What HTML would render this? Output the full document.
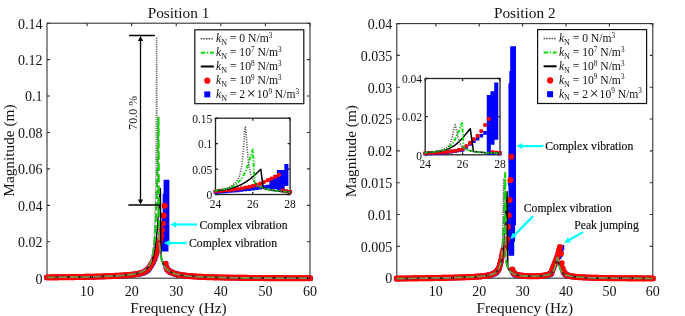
<!DOCTYPE html>
<html><head><meta charset="utf-8"><style>
html,body{margin:0;padding:0;background:#fff;}
body{width:685px;height:316px;overflow:hidden;}
svg{display:block;will-change:transform;filter:blur(0.35px);}
</style></head><body>
<svg width="685" height="316" viewBox="0 0 685 316" font-family='"Liberation Serif", serif' fill="#111">
<style>.an{stroke:#111;stroke-width:0.18px;}</style>
<rect width="685" height="316" fill="#fff"/>
<defs>
<clipPath id="cL"><rect x="43.00" y="23.20" width="271.00" height="259.00"/></clipPath>
<clipPath id="cR"><rect x="392.80" y="23.60" width="264.00" height="258.60"/></clipPath>
<clipPath id="cIL"><rect x="213.00" y="118.20" width="79.60" height="78.30"/></clipPath>
<clipPath id="cIR"><rect x="422.70" y="78.50" width="79.80" height="78.30"/></clipPath>
</defs>
<path d="M87.12 278.20V275.20M87.12 23.20V26.20M131.69 278.20V275.20M131.69 23.20V26.20M176.27 278.20V275.20M176.27 23.20V26.20M220.85 278.20V275.20M220.85 23.20V26.20M265.42 278.20V275.20M265.42 23.20V26.20M310.00 278.20V275.20M310.00 23.20V26.20M47.00 278.20H50.00M310.00 278.20H307.00M47.00 241.77H50.00M310.00 241.77H307.00M47.00 205.34H50.00M310.00 205.34H307.00M47.00 168.91H50.00M310.00 168.91H307.00M47.00 132.49H50.00M310.00 132.49H307.00M47.00 96.06H50.00M310.00 96.06H307.00M47.00 59.63H50.00M310.00 59.63H307.00M47.00 23.20H50.00M310.00 23.20H307.00" stroke="#333333" stroke-width="1.10" fill="none"/>
<rect x="47.00" y="23.20" width="263.00" height="255.00" stroke="#333333" stroke-width="1.10" fill="none"/>
<g clip-path="url(#cL)">
<g transform="translate(0 0.50)">
<path d="M44.41 274.42h5.18v5.18h-5.18zM45.30 274.41h5.18v5.18h-5.18zM46.19 274.40h5.18v5.18h-5.18zM47.08 274.39h5.18v5.18h-5.18zM47.97 274.38h5.18v5.18h-5.18zM48.87 274.37h5.18v5.18h-5.18zM49.76 274.35h5.18v5.18h-5.18zM50.65 274.34h5.18v5.18h-5.18zM51.54 274.33h5.18v5.18h-5.18zM52.43 274.32h5.18v5.18h-5.18zM53.32 274.31h5.18v5.18h-5.18zM54.21 274.30h5.18v5.18h-5.18zM55.11 274.29h5.18v5.18h-5.18zM56.00 274.28h5.18v5.18h-5.18zM56.89 274.27h5.18v5.18h-5.18zM57.78 274.26h5.18v5.18h-5.18zM58.67 274.25h5.18v5.18h-5.18zM59.56 274.23h5.18v5.18h-5.18zM60.45 274.22h5.18v5.18h-5.18zM61.35 274.21h5.18v5.18h-5.18zM62.24 274.20h5.18v5.18h-5.18zM63.13 274.19h5.18v5.18h-5.18zM64.02 274.17h5.18v5.18h-5.18zM64.91 274.16h5.18v5.18h-5.18zM65.80 274.15h5.18v5.18h-5.18zM66.70 274.14h5.18v5.18h-5.18zM67.59 274.13h5.18v5.18h-5.18zM68.48 274.11h5.18v5.18h-5.18zM69.37 274.10h5.18v5.18h-5.18zM70.26 274.09h5.18v5.18h-5.18zM71.15 274.07h5.18v5.18h-5.18zM72.04 274.06h5.18v5.18h-5.18zM72.94 274.05h5.18v5.18h-5.18zM73.83 274.03h5.18v5.18h-5.18zM74.72 274.02h5.18v5.18h-5.18zM75.61 274.00h5.18v5.18h-5.18zM76.50 273.99h5.18v5.18h-5.18zM77.39 273.97h5.18v5.18h-5.18zM78.29 273.96h5.18v5.18h-5.18zM79.18 273.94h5.18v5.18h-5.18zM80.07 273.93h5.18v5.18h-5.18zM80.96 273.91h5.18v5.18h-5.18zM81.85 273.89h5.18v5.18h-5.18zM82.74 273.88h5.18v5.18h-5.18zM83.63 273.86h5.18v5.18h-5.18zM84.53 273.84h5.18v5.18h-5.18zM85.42 273.82h5.18v5.18h-5.18zM86.31 273.80h5.18v5.18h-5.18zM87.20 273.78h5.18v5.18h-5.18zM88.09 273.76h5.18v5.18h-5.18zM88.98 273.74h5.18v5.18h-5.18zM89.88 273.72h5.18v5.18h-5.18zM90.77 273.70h5.18v5.18h-5.18zM91.66 273.68h5.18v5.18h-5.18zM92.55 273.66h5.18v5.18h-5.18zM93.44 273.64h5.18v5.18h-5.18zM94.33 273.61h5.18v5.18h-5.18zM95.22 273.59h5.18v5.18h-5.18zM96.12 273.56h5.18v5.18h-5.18zM97.01 273.54h5.18v5.18h-5.18zM97.90 273.51h5.18v5.18h-5.18zM98.79 273.48h5.18v5.18h-5.18zM99.68 273.46h5.18v5.18h-5.18zM100.57 273.43h5.18v5.18h-5.18zM101.47 273.40h5.18v5.18h-5.18zM102.36 273.37h5.18v5.18h-5.18zM103.25 273.33h5.18v5.18h-5.18zM104.14 273.30h5.18v5.18h-5.18zM105.03 273.27h5.18v5.18h-5.18zM105.92 273.23h5.18v5.18h-5.18zM106.81 273.19h5.18v5.18h-5.18zM107.71 273.16h5.18v5.18h-5.18zM108.60 273.12h5.18v5.18h-5.18zM109.49 273.08h5.18v5.18h-5.18zM110.38 273.03h5.18v5.18h-5.18zM111.27 272.99h5.18v5.18h-5.18zM112.16 272.94h5.18v5.18h-5.18zM113.05 272.90h5.18v5.18h-5.18zM113.95 272.85h5.18v5.18h-5.18zM114.84 272.80h5.18v5.18h-5.18zM115.73 272.76h5.18v5.18h-5.18zM116.62 272.71h5.18v5.18h-5.18zM117.51 272.66h5.18v5.18h-5.18zM118.40 272.61h5.18v5.18h-5.18zM119.30 272.56h5.18v5.18h-5.18zM120.19 272.51h5.18v5.18h-5.18zM121.08 272.45h5.18v5.18h-5.18zM121.97 272.39h5.18v5.18h-5.18zM122.86 272.34h5.18v5.18h-5.18zM123.75 272.27h5.18v5.18h-5.18zM124.64 272.21h5.18v5.18h-5.18zM125.54 272.14h5.18v5.18h-5.18zM126.43 272.07h5.18v5.18h-5.18zM127.32 271.99h5.18v5.18h-5.18zM128.21 271.91h5.18v5.18h-5.18zM129.10 271.82h5.18v5.18h-5.18zM129.99 271.72h5.18v5.18h-5.18zM130.89 271.62h5.18v5.18h-5.18zM131.78 271.51h5.18v5.18h-5.18zM132.67 271.39h5.18v5.18h-5.18zM133.56 271.26h5.18v5.18h-5.18zM134.45 271.11h5.18v5.18h-5.18zM135.34 270.95h5.18v5.18h-5.18zM136.23 270.77h5.18v5.18h-5.18zM137.13 270.56h5.18v5.18h-5.18zM138.02 270.34h5.18v5.18h-5.18zM138.91 270.08h5.18v5.18h-5.18zM139.80 269.79h5.18v5.18h-5.18zM140.69 269.46h5.18v5.18h-5.18zM141.58 269.08h5.18v5.18h-5.18zM142.48 268.63h5.18v5.18h-5.18zM143.37 268.10h5.18v5.18h-5.18zM144.26 267.47h5.18v5.18h-5.18zM145.15 266.71h5.18v5.18h-5.18zM146.04 265.77h5.18v5.18h-5.18zM146.93 264.59h5.18v5.18h-5.18zM147.82 263.19h5.18v5.18h-5.18zM148.72 261.79h5.18v5.18h-5.18zM149.61 260.39h5.18v5.18h-5.18zM150.50 258.59h5.18v5.18h-5.18zM151.39 256.78h5.18v5.18h-5.18zM152.28 254.97h5.18v5.18h-5.18zM153.17 252.20h5.18v5.18h-5.18zM154.07 249.42h5.18v5.18h-5.18zM154.96 246.64h5.18v5.18h-5.18zM155.85 243.76h5.18v5.18h-5.18zM156.74 240.81h5.18v5.18h-5.18zM157.63 237.85h5.18v5.18h-5.18zM158.52 234.52h5.18v5.18h-5.18zM159.41 237.84h5.18v5.18h-5.18zM160.31 241.16h5.18v5.18h-5.18zM161.20 212.40h5.18v5.18h-5.18zM162.09 202.75h5.18v5.18h-5.18zM162.98 260.75h5.18v5.18h-5.18zM163.87 264.58h5.18v5.18h-5.18zM164.76 266.36h5.18v5.18h-5.18zM165.65 267.38h5.18v5.18h-5.18zM166.55 268.09h5.18v5.18h-5.18zM167.44 268.65h5.18v5.18h-5.18zM168.33 269.12h5.18v5.18h-5.18zM169.22 269.53h5.18v5.18h-5.18zM170.11 269.89h5.18v5.18h-5.18zM171.00 270.21h5.18v5.18h-5.18zM171.90 270.50h5.18v5.18h-5.18zM172.79 270.76h5.18v5.18h-5.18zM173.68 271.00h5.18v5.18h-5.18zM174.57 271.22h5.18v5.18h-5.18zM175.46 271.42h5.18v5.18h-5.18zM176.35 271.60h5.18v5.18h-5.18zM177.24 271.77h5.18v5.18h-5.18zM178.14 271.92h5.18v5.18h-5.18zM179.03 272.07h5.18v5.18h-5.18zM179.92 272.20h5.18v5.18h-5.18zM180.81 272.33h5.18v5.18h-5.18zM181.70 272.44h5.18v5.18h-5.18zM182.59 272.55h5.18v5.18h-5.18zM183.49 272.66h5.18v5.18h-5.18zM184.38 272.75h5.18v5.18h-5.18zM185.27 272.85h5.18v5.18h-5.18zM186.16 272.93h5.18v5.18h-5.18zM187.05 273.01h5.18v5.18h-5.18zM187.94 273.09h5.18v5.18h-5.18zM188.83 273.16h5.18v5.18h-5.18zM189.73 273.23h5.18v5.18h-5.18zM190.62 273.30h5.18v5.18h-5.18zM191.51 273.36h5.18v5.18h-5.18zM192.40 273.42h5.18v5.18h-5.18zM193.29 273.48h5.18v5.18h-5.18zM194.18 273.53h5.18v5.18h-5.18zM195.08 273.58h5.18v5.18h-5.18zM195.97 273.63h5.18v5.18h-5.18zM196.86 273.68h5.18v5.18h-5.18zM197.75 273.73h5.18v5.18h-5.18zM198.64 273.77h5.18v5.18h-5.18zM199.53 273.81h5.18v5.18h-5.18zM200.42 273.85h5.18v5.18h-5.18zM201.32 273.89h5.18v5.18h-5.18zM202.21 273.93h5.18v5.18h-5.18zM203.10 273.96h5.18v5.18h-5.18zM203.99 274.00h5.18v5.18h-5.18zM204.88 274.03h5.18v5.18h-5.18zM205.77 274.06h5.18v5.18h-5.18zM206.67 274.10h5.18v5.18h-5.18zM207.56 274.13h5.18v5.18h-5.18zM208.45 274.15h5.18v5.18h-5.18zM209.34 274.18h5.18v5.18h-5.18zM210.23 274.21h5.18v5.18h-5.18zM211.12 274.24h5.18v5.18h-5.18zM212.01 274.26h5.18v5.18h-5.18zM212.91 274.28h5.18v5.18h-5.18zM213.80 274.31h5.18v5.18h-5.18zM214.69 274.33h5.18v5.18h-5.18zM215.58 274.35h5.18v5.18h-5.18zM216.47 274.38h5.18v5.18h-5.18zM217.36 274.40h5.18v5.18h-5.18zM218.25 274.42h5.18v5.18h-5.18zM219.15 274.44h5.18v5.18h-5.18zM220.04 274.46h5.18v5.18h-5.18zM220.93 274.47h5.18v5.18h-5.18zM221.82 274.49h5.18v5.18h-5.18zM222.71 274.51h5.18v5.18h-5.18zM223.60 274.53h5.18v5.18h-5.18zM224.50 274.54h5.18v5.18h-5.18zM225.39 274.56h5.18v5.18h-5.18zM226.28 274.58h5.18v5.18h-5.18zM227.17 274.59h5.18v5.18h-5.18zM228.06 274.61h5.18v5.18h-5.18zM228.95 274.62h5.18v5.18h-5.18zM229.84 274.64h5.18v5.18h-5.18zM230.74 274.65h5.18v5.18h-5.18zM231.63 274.66h5.18v5.18h-5.18zM232.52 274.68h5.18v5.18h-5.18zM233.41 274.69h5.18v5.18h-5.18zM234.30 274.70h5.18v5.18h-5.18zM235.19 274.72h5.18v5.18h-5.18zM236.09 274.73h5.18v5.18h-5.18zM236.98 274.74h5.18v5.18h-5.18zM237.87 274.75h5.18v5.18h-5.18zM238.76 274.76h5.18v5.18h-5.18zM239.65 274.77h5.18v5.18h-5.18zM240.54 274.79h5.18v5.18h-5.18zM241.43 274.80h5.18v5.18h-5.18zM242.33 274.81h5.18v5.18h-5.18zM243.22 274.82h5.18v5.18h-5.18zM244.11 274.83h5.18v5.18h-5.18zM245.00 274.84h5.18v5.18h-5.18zM245.89 274.85h5.18v5.18h-5.18zM246.78 274.86h5.18v5.18h-5.18zM247.68 274.86h5.18v5.18h-5.18zM248.57 274.87h5.18v5.18h-5.18zM249.46 274.88h5.18v5.18h-5.18zM250.35 274.89h5.18v5.18h-5.18zM251.24 274.90h5.18v5.18h-5.18zM252.13 274.91h5.18v5.18h-5.18zM253.02 274.92h5.18v5.18h-5.18zM253.92 274.92h5.18v5.18h-5.18zM254.81 274.93h5.18v5.18h-5.18zM255.70 274.94h5.18v5.18h-5.18zM256.59 274.95h5.18v5.18h-5.18zM257.48 274.95h5.18v5.18h-5.18zM258.37 274.96h5.18v5.18h-5.18zM259.27 274.97h5.18v5.18h-5.18zM260.16 274.98h5.18v5.18h-5.18zM261.05 274.98h5.18v5.18h-5.18zM261.94 274.99h5.18v5.18h-5.18zM262.83 275.00h5.18v5.18h-5.18zM263.72 275.00h5.18v5.18h-5.18zM264.61 275.01h5.18v5.18h-5.18zM265.51 275.02h5.18v5.18h-5.18zM266.40 275.02h5.18v5.18h-5.18zM267.29 275.03h5.18v5.18h-5.18zM268.18 275.03h5.18v5.18h-5.18zM269.07 275.04h5.18v5.18h-5.18zM269.96 275.05h5.18v5.18h-5.18zM270.85 275.05h5.18v5.18h-5.18zM271.75 275.06h5.18v5.18h-5.18zM272.64 275.06h5.18v5.18h-5.18zM273.53 275.07h5.18v5.18h-5.18zM274.42 275.07h5.18v5.18h-5.18zM275.31 275.08h5.18v5.18h-5.18zM276.20 275.08h5.18v5.18h-5.18zM277.10 275.09h5.18v5.18h-5.18zM277.99 275.09h5.18v5.18h-5.18zM278.88 275.10h5.18v5.18h-5.18zM279.77 275.10h5.18v5.18h-5.18zM280.66 275.11h5.18v5.18h-5.18zM281.55 275.11h5.18v5.18h-5.18zM282.44 275.12h5.18v5.18h-5.18zM283.34 275.12h5.18v5.18h-5.18zM284.23 275.13h5.18v5.18h-5.18zM285.12 275.13h5.18v5.18h-5.18zM286.01 275.14h5.18v5.18h-5.18zM286.90 275.14h5.18v5.18h-5.18zM287.79 275.14h5.18v5.18h-5.18zM288.69 275.15h5.18v5.18h-5.18zM289.58 275.15h5.18v5.18h-5.18zM290.47 275.16h5.18v5.18h-5.18zM291.36 275.16h5.18v5.18h-5.18zM292.25 275.16h5.18v5.18h-5.18zM293.14 275.17h5.18v5.18h-5.18zM294.03 275.17h5.18v5.18h-5.18zM294.93 275.18h5.18v5.18h-5.18zM295.82 275.18h5.18v5.18h-5.18zM296.71 275.18h5.18v5.18h-5.18zM297.60 275.19h5.18v5.18h-5.18zM298.49 275.19h5.18v5.18h-5.18zM299.38 275.19h5.18v5.18h-5.18zM300.28 275.20h5.18v5.18h-5.18zM301.17 275.20h5.18v5.18h-5.18zM302.06 275.20h5.18v5.18h-5.18zM302.95 275.21h5.18v5.18h-5.18zM303.84 275.21h5.18v5.18h-5.18zM304.73 275.21h5.18v5.18h-5.18zM305.62 275.22h5.18v5.18h-5.18zM306.52 275.22h5.18v5.18h-5.18zM307.41 275.22h5.18v5.18h-5.18z" fill="#0000ff"/>
<path d="M160.89 227.95h5.79V251.04h-5.79zM161.78 213.37h5.79V251.04h-5.79zM162.68 193.34h5.79V251.04h-5.79zM163.57 179.31h5.79V243.58h-5.79z" fill="#0000ff"/>
<path d="M43.95 276.96a3.05 3.05 0 1 0 6.10 0a3.05 3.05 0 1 0 -6.10 0M44.84 276.95a3.05 3.05 0 1 0 6.10 0a3.05 3.05 0 1 0 -6.10 0M45.73 276.94a3.05 3.05 0 1 0 6.10 0a3.05 3.05 0 1 0 -6.10 0M46.62 276.93a3.05 3.05 0 1 0 6.10 0a3.05 3.05 0 1 0 -6.10 0M47.52 276.92a3.05 3.05 0 1 0 6.10 0a3.05 3.05 0 1 0 -6.10 0M48.41 276.91a3.05 3.05 0 1 0 6.10 0a3.05 3.05 0 1 0 -6.10 0M49.30 276.90a3.05 3.05 0 1 0 6.10 0a3.05 3.05 0 1 0 -6.10 0M50.19 276.88a3.05 3.05 0 1 0 6.10 0a3.05 3.05 0 1 0 -6.10 0M51.08 276.87a3.05 3.05 0 1 0 6.10 0a3.05 3.05 0 1 0 -6.10 0M51.97 276.86a3.05 3.05 0 1 0 6.10 0a3.05 3.05 0 1 0 -6.10 0M52.87 276.85a3.05 3.05 0 1 0 6.10 0a3.05 3.05 0 1 0 -6.10 0M53.76 276.84a3.05 3.05 0 1 0 6.10 0a3.05 3.05 0 1 0 -6.10 0M54.65 276.83a3.05 3.05 0 1 0 6.10 0a3.05 3.05 0 1 0 -6.10 0M55.54 276.82a3.05 3.05 0 1 0 6.10 0a3.05 3.05 0 1 0 -6.10 0M56.43 276.80a3.05 3.05 0 1 0 6.10 0a3.05 3.05 0 1 0 -6.10 0M57.32 276.79a3.05 3.05 0 1 0 6.10 0a3.05 3.05 0 1 0 -6.10 0M58.21 276.78a3.05 3.05 0 1 0 6.10 0a3.05 3.05 0 1 0 -6.10 0M59.11 276.77a3.05 3.05 0 1 0 6.10 0a3.05 3.05 0 1 0 -6.10 0M60.00 276.76a3.05 3.05 0 1 0 6.10 0a3.05 3.05 0 1 0 -6.10 0M60.89 276.74a3.05 3.05 0 1 0 6.10 0a3.05 3.05 0 1 0 -6.10 0M61.78 276.73a3.05 3.05 0 1 0 6.10 0a3.05 3.05 0 1 0 -6.10 0M62.67 276.72a3.05 3.05 0 1 0 6.10 0a3.05 3.05 0 1 0 -6.10 0M63.56 276.71a3.05 3.05 0 1 0 6.10 0a3.05 3.05 0 1 0 -6.10 0M64.46 276.69a3.05 3.05 0 1 0 6.10 0a3.05 3.05 0 1 0 -6.10 0M65.35 276.68a3.05 3.05 0 1 0 6.10 0a3.05 3.05 0 1 0 -6.10 0M66.24 276.67a3.05 3.05 0 1 0 6.10 0a3.05 3.05 0 1 0 -6.10 0M67.13 276.66a3.05 3.05 0 1 0 6.10 0a3.05 3.05 0 1 0 -6.10 0M68.02 276.64a3.05 3.05 0 1 0 6.10 0a3.05 3.05 0 1 0 -6.10 0M68.91 276.63a3.05 3.05 0 1 0 6.10 0a3.05 3.05 0 1 0 -6.10 0M69.80 276.62a3.05 3.05 0 1 0 6.10 0a3.05 3.05 0 1 0 -6.10 0M70.70 276.60a3.05 3.05 0 1 0 6.10 0a3.05 3.05 0 1 0 -6.10 0M71.59 276.59a3.05 3.05 0 1 0 6.10 0a3.05 3.05 0 1 0 -6.10 0M72.48 276.57a3.05 3.05 0 1 0 6.10 0a3.05 3.05 0 1 0 -6.10 0M73.37 276.56a3.05 3.05 0 1 0 6.10 0a3.05 3.05 0 1 0 -6.10 0M74.26 276.54a3.05 3.05 0 1 0 6.10 0a3.05 3.05 0 1 0 -6.10 0M75.15 276.53a3.05 3.05 0 1 0 6.10 0a3.05 3.05 0 1 0 -6.10 0M76.04 276.51a3.05 3.05 0 1 0 6.10 0a3.05 3.05 0 1 0 -6.10 0M76.94 276.50a3.05 3.05 0 1 0 6.10 0a3.05 3.05 0 1 0 -6.10 0M77.83 276.48a3.05 3.05 0 1 0 6.10 0a3.05 3.05 0 1 0 -6.10 0M78.72 276.46a3.05 3.05 0 1 0 6.10 0a3.05 3.05 0 1 0 -6.10 0M79.61 276.45a3.05 3.05 0 1 0 6.10 0a3.05 3.05 0 1 0 -6.10 0M80.50 276.43a3.05 3.05 0 1 0 6.10 0a3.05 3.05 0 1 0 -6.10 0M81.39 276.41a3.05 3.05 0 1 0 6.10 0a3.05 3.05 0 1 0 -6.10 0M82.29 276.40a3.05 3.05 0 1 0 6.10 0a3.05 3.05 0 1 0 -6.10 0M83.18 276.38a3.05 3.05 0 1 0 6.10 0a3.05 3.05 0 1 0 -6.10 0M84.07 276.36a3.05 3.05 0 1 0 6.10 0a3.05 3.05 0 1 0 -6.10 0M84.96 276.34a3.05 3.05 0 1 0 6.10 0a3.05 3.05 0 1 0 -6.10 0M85.85 276.32a3.05 3.05 0 1 0 6.10 0a3.05 3.05 0 1 0 -6.10 0M86.74 276.30a3.05 3.05 0 1 0 6.10 0a3.05 3.05 0 1 0 -6.10 0M87.63 276.28a3.05 3.05 0 1 0 6.10 0a3.05 3.05 0 1 0 -6.10 0M88.53 276.26a3.05 3.05 0 1 0 6.10 0a3.05 3.05 0 1 0 -6.10 0M89.42 276.24a3.05 3.05 0 1 0 6.10 0a3.05 3.05 0 1 0 -6.10 0M90.31 276.22a3.05 3.05 0 1 0 6.10 0a3.05 3.05 0 1 0 -6.10 0M91.20 276.19a3.05 3.05 0 1 0 6.10 0a3.05 3.05 0 1 0 -6.10 0M92.09 276.17a3.05 3.05 0 1 0 6.10 0a3.05 3.05 0 1 0 -6.10 0M92.98 276.15a3.05 3.05 0 1 0 6.10 0a3.05 3.05 0 1 0 -6.10 0M93.88 276.12a3.05 3.05 0 1 0 6.10 0a3.05 3.05 0 1 0 -6.10 0M94.77 276.10a3.05 3.05 0 1 0 6.10 0a3.05 3.05 0 1 0 -6.10 0M95.66 276.07a3.05 3.05 0 1 0 6.10 0a3.05 3.05 0 1 0 -6.10 0M96.55 276.04a3.05 3.05 0 1 0 6.10 0a3.05 3.05 0 1 0 -6.10 0M97.44 276.02a3.05 3.05 0 1 0 6.10 0a3.05 3.05 0 1 0 -6.10 0M98.33 275.99a3.05 3.05 0 1 0 6.10 0a3.05 3.05 0 1 0 -6.10 0M99.22 275.96a3.05 3.05 0 1 0 6.10 0a3.05 3.05 0 1 0 -6.10 0M100.12 275.93a3.05 3.05 0 1 0 6.10 0a3.05 3.05 0 1 0 -6.10 0M101.01 275.90a3.05 3.05 0 1 0 6.10 0a3.05 3.05 0 1 0 -6.10 0M101.90 275.87a3.05 3.05 0 1 0 6.10 0a3.05 3.05 0 1 0 -6.10 0M102.79 275.83a3.05 3.05 0 1 0 6.10 0a3.05 3.05 0 1 0 -6.10 0M103.68 275.80a3.05 3.05 0 1 0 6.10 0a3.05 3.05 0 1 0 -6.10 0M104.57 275.76a3.05 3.05 0 1 0 6.10 0a3.05 3.05 0 1 0 -6.10 0M105.47 275.73a3.05 3.05 0 1 0 6.10 0a3.05 3.05 0 1 0 -6.10 0M106.36 275.69a3.05 3.05 0 1 0 6.10 0a3.05 3.05 0 1 0 -6.10 0M107.25 275.65a3.05 3.05 0 1 0 6.10 0a3.05 3.05 0 1 0 -6.10 0M108.14 275.61a3.05 3.05 0 1 0 6.10 0a3.05 3.05 0 1 0 -6.10 0M109.03 275.56a3.05 3.05 0 1 0 6.10 0a3.05 3.05 0 1 0 -6.10 0M109.92 275.52a3.05 3.05 0 1 0 6.10 0a3.05 3.05 0 1 0 -6.10 0M110.81 275.47a3.05 3.05 0 1 0 6.10 0a3.05 3.05 0 1 0 -6.10 0M111.71 275.42a3.05 3.05 0 1 0 6.10 0a3.05 3.05 0 1 0 -6.10 0M112.60 275.38a3.05 3.05 0 1 0 6.10 0a3.05 3.05 0 1 0 -6.10 0M113.49 275.33a3.05 3.05 0 1 0 6.10 0a3.05 3.05 0 1 0 -6.10 0M114.38 275.28a3.05 3.05 0 1 0 6.10 0a3.05 3.05 0 1 0 -6.10 0M115.27 275.23a3.05 3.05 0 1 0 6.10 0a3.05 3.05 0 1 0 -6.10 0M116.16 275.18a3.05 3.05 0 1 0 6.10 0a3.05 3.05 0 1 0 -6.10 0M117.06 275.13a3.05 3.05 0 1 0 6.10 0a3.05 3.05 0 1 0 -6.10 0M117.95 275.08a3.05 3.05 0 1 0 6.10 0a3.05 3.05 0 1 0 -6.10 0M118.84 275.02a3.05 3.05 0 1 0 6.10 0a3.05 3.05 0 1 0 -6.10 0M119.73 274.97a3.05 3.05 0 1 0 6.10 0a3.05 3.05 0 1 0 -6.10 0M120.62 274.91a3.05 3.05 0 1 0 6.10 0a3.05 3.05 0 1 0 -6.10 0M121.51 274.85a3.05 3.05 0 1 0 6.10 0a3.05 3.05 0 1 0 -6.10 0M122.40 274.79a3.05 3.05 0 1 0 6.10 0a3.05 3.05 0 1 0 -6.10 0M123.30 274.73a3.05 3.05 0 1 0 6.10 0a3.05 3.05 0 1 0 -6.10 0M124.19 274.66a3.05 3.05 0 1 0 6.10 0a3.05 3.05 0 1 0 -6.10 0M125.08 274.59a3.05 3.05 0 1 0 6.10 0a3.05 3.05 0 1 0 -6.10 0M125.97 274.51a3.05 3.05 0 1 0 6.10 0a3.05 3.05 0 1 0 -6.10 0M126.86 274.43a3.05 3.05 0 1 0 6.10 0a3.05 3.05 0 1 0 -6.10 0M127.75 274.35a3.05 3.05 0 1 0 6.10 0a3.05 3.05 0 1 0 -6.10 0M128.64 274.25a3.05 3.05 0 1 0 6.10 0a3.05 3.05 0 1 0 -6.10 0M129.54 274.16a3.05 3.05 0 1 0 6.10 0a3.05 3.05 0 1 0 -6.10 0M130.43 274.05a3.05 3.05 0 1 0 6.10 0a3.05 3.05 0 1 0 -6.10 0M131.32 273.93a3.05 3.05 0 1 0 6.10 0a3.05 3.05 0 1 0 -6.10 0M132.21 273.81a3.05 3.05 0 1 0 6.10 0a3.05 3.05 0 1 0 -6.10 0M133.10 273.67a3.05 3.05 0 1 0 6.10 0a3.05 3.05 0 1 0 -6.10 0M133.99 273.51a3.05 3.05 0 1 0 6.10 0a3.05 3.05 0 1 0 -6.10 0M134.89 273.34a3.05 3.05 0 1 0 6.10 0a3.05 3.05 0 1 0 -6.10 0M135.78 273.16a3.05 3.05 0 1 0 6.10 0a3.05 3.05 0 1 0 -6.10 0M136.67 272.95a3.05 3.05 0 1 0 6.10 0a3.05 3.05 0 1 0 -6.10 0M137.56 272.71a3.05 3.05 0 1 0 6.10 0a3.05 3.05 0 1 0 -6.10 0M138.45 272.45a3.05 3.05 0 1 0 6.10 0a3.05 3.05 0 1 0 -6.10 0M139.34 272.14a3.05 3.05 0 1 0 6.10 0a3.05 3.05 0 1 0 -6.10 0M140.23 271.80a3.05 3.05 0 1 0 6.10 0a3.05 3.05 0 1 0 -6.10 0M141.13 271.40a3.05 3.05 0 1 0 6.10 0a3.05 3.05 0 1 0 -6.10 0M142.02 270.93a3.05 3.05 0 1 0 6.10 0a3.05 3.05 0 1 0 -6.10 0M142.91 270.38a3.05 3.05 0 1 0 6.10 0a3.05 3.05 0 1 0 -6.10 0M143.80 269.73a3.05 3.05 0 1 0 6.10 0a3.05 3.05 0 1 0 -6.10 0M144.69 268.93a3.05 3.05 0 1 0 6.10 0a3.05 3.05 0 1 0 -6.10 0M145.58 267.96a3.05 3.05 0 1 0 6.10 0a3.05 3.05 0 1 0 -6.10 0M146.48 266.72a3.05 3.05 0 1 0 6.10 0a3.05 3.05 0 1 0 -6.10 0M147.37 265.27a3.05 3.05 0 1 0 6.10 0a3.05 3.05 0 1 0 -6.10 0M148.26 263.81a3.05 3.05 0 1 0 6.10 0a3.05 3.05 0 1 0 -6.10 0M149.15 262.35a3.05 3.05 0 1 0 6.10 0a3.05 3.05 0 1 0 -6.10 0M150.04 260.47a3.05 3.05 0 1 0 6.10 0a3.05 3.05 0 1 0 -6.10 0M150.93 258.59a3.05 3.05 0 1 0 6.10 0a3.05 3.05 0 1 0 -6.10 0M151.82 256.71a3.05 3.05 0 1 0 6.10 0a3.05 3.05 0 1 0 -6.10 0M152.72 253.81a3.05 3.05 0 1 0 6.10 0a3.05 3.05 0 1 0 -6.10 0M153.61 250.92a3.05 3.05 0 1 0 6.10 0a3.05 3.05 0 1 0 -6.10 0M154.50 248.03a3.05 3.05 0 1 0 6.10 0a3.05 3.05 0 1 0 -6.10 0M155.39 245.03a3.05 3.05 0 1 0 6.10 0a3.05 3.05 0 1 0 -6.10 0M156.28 241.96a3.05 3.05 0 1 0 6.10 0a3.05 3.05 0 1 0 -6.10 0M157.17 238.87a3.05 3.05 0 1 0 6.10 0a3.05 3.05 0 1 0 -6.10 0M158.07 235.40a3.05 3.05 0 1 0 6.10 0a3.05 3.05 0 1 0 -6.10 0M158.96 229.75a3.05 3.05 0 1 0 6.10 0a3.05 3.05 0 1 0 -6.10 0M159.85 223.19a3.05 3.05 0 1 0 6.10 0a3.05 3.05 0 1 0 -6.10 0M160.74 215.00a3.05 3.05 0 1 0 6.10 0a3.05 3.05 0 1 0 -6.10 0M161.63 205.34a3.05 3.05 0 1 0 6.10 0a3.05 3.05 0 1 0 -6.10 0M162.52 263.34a3.05 3.05 0 1 0 6.10 0a3.05 3.05 0 1 0 -6.10 0M163.41 267.18a3.05 3.05 0 1 0 6.10 0a3.05 3.05 0 1 0 -6.10 0M164.31 268.95a3.05 3.05 0 1 0 6.10 0a3.05 3.05 0 1 0 -6.10 0M165.20 269.97a3.05 3.05 0 1 0 6.10 0a3.05 3.05 0 1 0 -6.10 0M166.09 270.68a3.05 3.05 0 1 0 6.10 0a3.05 3.05 0 1 0 -6.10 0M166.98 271.24a3.05 3.05 0 1 0 6.10 0a3.05 3.05 0 1 0 -6.10 0M167.87 271.71a3.05 3.05 0 1 0 6.10 0a3.05 3.05 0 1 0 -6.10 0M168.76 272.12a3.05 3.05 0 1 0 6.10 0a3.05 3.05 0 1 0 -6.10 0M169.66 272.48a3.05 3.05 0 1 0 6.10 0a3.05 3.05 0 1 0 -6.10 0M170.55 272.80a3.05 3.05 0 1 0 6.10 0a3.05 3.05 0 1 0 -6.10 0M171.44 273.09a3.05 3.05 0 1 0 6.10 0a3.05 3.05 0 1 0 -6.10 0M172.33 273.36a3.05 3.05 0 1 0 6.10 0a3.05 3.05 0 1 0 -6.10 0M173.22 273.59a3.05 3.05 0 1 0 6.10 0a3.05 3.05 0 1 0 -6.10 0M174.11 273.81a3.05 3.05 0 1 0 6.10 0a3.05 3.05 0 1 0 -6.10 0M175.00 274.01a3.05 3.05 0 1 0 6.10 0a3.05 3.05 0 1 0 -6.10 0M175.90 274.19a3.05 3.05 0 1 0 6.10 0a3.05 3.05 0 1 0 -6.10 0M176.79 274.36a3.05 3.05 0 1 0 6.10 0a3.05 3.05 0 1 0 -6.10 0M177.68 274.51a3.05 3.05 0 1 0 6.10 0a3.05 3.05 0 1 0 -6.10 0M178.57 274.66a3.05 3.05 0 1 0 6.10 0a3.05 3.05 0 1 0 -6.10 0M179.46 274.79a3.05 3.05 0 1 0 6.10 0a3.05 3.05 0 1 0 -6.10 0M180.35 274.92a3.05 3.05 0 1 0 6.10 0a3.05 3.05 0 1 0 -6.10 0M181.24 275.04a3.05 3.05 0 1 0 6.10 0a3.05 3.05 0 1 0 -6.10 0M182.14 275.15a3.05 3.05 0 1 0 6.10 0a3.05 3.05 0 1 0 -6.10 0M183.03 275.25a3.05 3.05 0 1 0 6.10 0a3.05 3.05 0 1 0 -6.10 0M183.92 275.35a3.05 3.05 0 1 0 6.10 0a3.05 3.05 0 1 0 -6.10 0M184.81 275.44a3.05 3.05 0 1 0 6.10 0a3.05 3.05 0 1 0 -6.10 0M185.70 275.52a3.05 3.05 0 1 0 6.10 0a3.05 3.05 0 1 0 -6.10 0M186.59 275.61a3.05 3.05 0 1 0 6.10 0a3.05 3.05 0 1 0 -6.10 0M187.49 275.68a3.05 3.05 0 1 0 6.10 0a3.05 3.05 0 1 0 -6.10 0M188.38 275.76a3.05 3.05 0 1 0 6.10 0a3.05 3.05 0 1 0 -6.10 0M189.27 275.82a3.05 3.05 0 1 0 6.10 0a3.05 3.05 0 1 0 -6.10 0M190.16 275.89a3.05 3.05 0 1 0 6.10 0a3.05 3.05 0 1 0 -6.10 0M191.05 275.95a3.05 3.05 0 1 0 6.10 0a3.05 3.05 0 1 0 -6.10 0M191.94 276.01a3.05 3.05 0 1 0 6.10 0a3.05 3.05 0 1 0 -6.10 0M192.83 276.07a3.05 3.05 0 1 0 6.10 0a3.05 3.05 0 1 0 -6.10 0M193.73 276.12a3.05 3.05 0 1 0 6.10 0a3.05 3.05 0 1 0 -6.10 0M194.62 276.18a3.05 3.05 0 1 0 6.10 0a3.05 3.05 0 1 0 -6.10 0M195.51 276.23a3.05 3.05 0 1 0 6.10 0a3.05 3.05 0 1 0 -6.10 0M196.40 276.27a3.05 3.05 0 1 0 6.10 0a3.05 3.05 0 1 0 -6.10 0M197.29 276.32a3.05 3.05 0 1 0 6.10 0a3.05 3.05 0 1 0 -6.10 0M198.18 276.36a3.05 3.05 0 1 0 6.10 0a3.05 3.05 0 1 0 -6.10 0M199.08 276.40a3.05 3.05 0 1 0 6.10 0a3.05 3.05 0 1 0 -6.10 0M199.97 276.44a3.05 3.05 0 1 0 6.10 0a3.05 3.05 0 1 0 -6.10 0M200.86 276.48a3.05 3.05 0 1 0 6.10 0a3.05 3.05 0 1 0 -6.10 0M201.75 276.52a3.05 3.05 0 1 0 6.10 0a3.05 3.05 0 1 0 -6.10 0M202.64 276.56a3.05 3.05 0 1 0 6.10 0a3.05 3.05 0 1 0 -6.10 0M203.53 276.59a3.05 3.05 0 1 0 6.10 0a3.05 3.05 0 1 0 -6.10 0M204.42 276.62a3.05 3.05 0 1 0 6.10 0a3.05 3.05 0 1 0 -6.10 0M205.32 276.66a3.05 3.05 0 1 0 6.10 0a3.05 3.05 0 1 0 -6.10 0M206.21 276.69a3.05 3.05 0 1 0 6.10 0a3.05 3.05 0 1 0 -6.10 0M207.10 276.72a3.05 3.05 0 1 0 6.10 0a3.05 3.05 0 1 0 -6.10 0M207.99 276.75a3.05 3.05 0 1 0 6.10 0a3.05 3.05 0 1 0 -6.10 0M208.88 276.77a3.05 3.05 0 1 0 6.10 0a3.05 3.05 0 1 0 -6.10 0M209.77 276.80a3.05 3.05 0 1 0 6.10 0a3.05 3.05 0 1 0 -6.10 0M210.67 276.83a3.05 3.05 0 1 0 6.10 0a3.05 3.05 0 1 0 -6.10 0M211.56 276.85a3.05 3.05 0 1 0 6.10 0a3.05 3.05 0 1 0 -6.10 0M212.45 276.88a3.05 3.05 0 1 0 6.10 0a3.05 3.05 0 1 0 -6.10 0M213.34 276.90a3.05 3.05 0 1 0 6.10 0a3.05 3.05 0 1 0 -6.10 0M214.23 276.92a3.05 3.05 0 1 0 6.10 0a3.05 3.05 0 1 0 -6.10 0M215.12 276.95a3.05 3.05 0 1 0 6.10 0a3.05 3.05 0 1 0 -6.10 0M216.01 276.97a3.05 3.05 0 1 0 6.10 0a3.05 3.05 0 1 0 -6.10 0M216.91 276.99a3.05 3.05 0 1 0 6.10 0a3.05 3.05 0 1 0 -6.10 0M217.80 277.01a3.05 3.05 0 1 0 6.10 0a3.05 3.05 0 1 0 -6.10 0M218.69 277.03a3.05 3.05 0 1 0 6.10 0a3.05 3.05 0 1 0 -6.10 0M219.58 277.05a3.05 3.05 0 1 0 6.10 0a3.05 3.05 0 1 0 -6.10 0M220.47 277.07a3.05 3.05 0 1 0 6.10 0a3.05 3.05 0 1 0 -6.10 0M221.36 277.09a3.05 3.05 0 1 0 6.10 0a3.05 3.05 0 1 0 -6.10 0M222.26 277.10a3.05 3.05 0 1 0 6.10 0a3.05 3.05 0 1 0 -6.10 0M223.15 277.12a3.05 3.05 0 1 0 6.10 0a3.05 3.05 0 1 0 -6.10 0M224.04 277.14a3.05 3.05 0 1 0 6.10 0a3.05 3.05 0 1 0 -6.10 0M224.93 277.15a3.05 3.05 0 1 0 6.10 0a3.05 3.05 0 1 0 -6.10 0M225.82 277.17a3.05 3.05 0 1 0 6.10 0a3.05 3.05 0 1 0 -6.10 0M226.71 277.19a3.05 3.05 0 1 0 6.10 0a3.05 3.05 0 1 0 -6.10 0M227.60 277.20a3.05 3.05 0 1 0 6.10 0a3.05 3.05 0 1 0 -6.10 0M228.50 277.22a3.05 3.05 0 1 0 6.10 0a3.05 3.05 0 1 0 -6.10 0M229.39 277.23a3.05 3.05 0 1 0 6.10 0a3.05 3.05 0 1 0 -6.10 0M230.28 277.24a3.05 3.05 0 1 0 6.10 0a3.05 3.05 0 1 0 -6.10 0M231.17 277.26a3.05 3.05 0 1 0 6.10 0a3.05 3.05 0 1 0 -6.10 0M232.06 277.27a3.05 3.05 0 1 0 6.10 0a3.05 3.05 0 1 0 -6.10 0M232.95 277.28a3.05 3.05 0 1 0 6.10 0a3.05 3.05 0 1 0 -6.10 0M233.84 277.30a3.05 3.05 0 1 0 6.10 0a3.05 3.05 0 1 0 -6.10 0M234.74 277.31a3.05 3.05 0 1 0 6.10 0a3.05 3.05 0 1 0 -6.10 0M235.63 277.32a3.05 3.05 0 1 0 6.10 0a3.05 3.05 0 1 0 -6.10 0M236.52 277.33a3.05 3.05 0 1 0 6.10 0a3.05 3.05 0 1 0 -6.10 0M237.41 277.34a3.05 3.05 0 1 0 6.10 0a3.05 3.05 0 1 0 -6.10 0M238.30 277.36a3.05 3.05 0 1 0 6.10 0a3.05 3.05 0 1 0 -6.10 0M239.19 277.37a3.05 3.05 0 1 0 6.10 0a3.05 3.05 0 1 0 -6.10 0M240.09 277.38a3.05 3.05 0 1 0 6.10 0a3.05 3.05 0 1 0 -6.10 0M240.98 277.39a3.05 3.05 0 1 0 6.10 0a3.05 3.05 0 1 0 -6.10 0M241.87 277.40a3.05 3.05 0 1 0 6.10 0a3.05 3.05 0 1 0 -6.10 0M242.76 277.41a3.05 3.05 0 1 0 6.10 0a3.05 3.05 0 1 0 -6.10 0M243.65 277.42a3.05 3.05 0 1 0 6.10 0a3.05 3.05 0 1 0 -6.10 0M244.54 277.43a3.05 3.05 0 1 0 6.10 0a3.05 3.05 0 1 0 -6.10 0M245.43 277.44a3.05 3.05 0 1 0 6.10 0a3.05 3.05 0 1 0 -6.10 0M246.33 277.45a3.05 3.05 0 1 0 6.10 0a3.05 3.05 0 1 0 -6.10 0M247.22 277.46a3.05 3.05 0 1 0 6.10 0a3.05 3.05 0 1 0 -6.10 0M248.11 277.47a3.05 3.05 0 1 0 6.10 0a3.05 3.05 0 1 0 -6.10 0M249.00 277.48a3.05 3.05 0 1 0 6.10 0a3.05 3.05 0 1 0 -6.10 0M249.89 277.48a3.05 3.05 0 1 0 6.10 0a3.05 3.05 0 1 0 -6.10 0M250.78 277.49a3.05 3.05 0 1 0 6.10 0a3.05 3.05 0 1 0 -6.10 0M251.68 277.50a3.05 3.05 0 1 0 6.10 0a3.05 3.05 0 1 0 -6.10 0M252.57 277.51a3.05 3.05 0 1 0 6.10 0a3.05 3.05 0 1 0 -6.10 0M253.46 277.52a3.05 3.05 0 1 0 6.10 0a3.05 3.05 0 1 0 -6.10 0M254.35 277.52a3.05 3.05 0 1 0 6.10 0a3.05 3.05 0 1 0 -6.10 0M255.24 277.53a3.05 3.05 0 1 0 6.10 0a3.05 3.05 0 1 0 -6.10 0M256.13 277.54a3.05 3.05 0 1 0 6.10 0a3.05 3.05 0 1 0 -6.10 0M257.02 277.55a3.05 3.05 0 1 0 6.10 0a3.05 3.05 0 1 0 -6.10 0M257.92 277.55a3.05 3.05 0 1 0 6.10 0a3.05 3.05 0 1 0 -6.10 0M258.81 277.56a3.05 3.05 0 1 0 6.10 0a3.05 3.05 0 1 0 -6.10 0M259.70 277.57a3.05 3.05 0 1 0 6.10 0a3.05 3.05 0 1 0 -6.10 0M260.59 277.58a3.05 3.05 0 1 0 6.10 0a3.05 3.05 0 1 0 -6.10 0M261.48 277.58a3.05 3.05 0 1 0 6.10 0a3.05 3.05 0 1 0 -6.10 0M262.37 277.59a3.05 3.05 0 1 0 6.10 0a3.05 3.05 0 1 0 -6.10 0M263.27 277.60a3.05 3.05 0 1 0 6.10 0a3.05 3.05 0 1 0 -6.10 0M264.16 277.60a3.05 3.05 0 1 0 6.10 0a3.05 3.05 0 1 0 -6.10 0M265.05 277.61a3.05 3.05 0 1 0 6.10 0a3.05 3.05 0 1 0 -6.10 0M265.94 277.61a3.05 3.05 0 1 0 6.10 0a3.05 3.05 0 1 0 -6.10 0M266.83 277.62a3.05 3.05 0 1 0 6.10 0a3.05 3.05 0 1 0 -6.10 0M267.72 277.63a3.05 3.05 0 1 0 6.10 0a3.05 3.05 0 1 0 -6.10 0M268.61 277.63a3.05 3.05 0 1 0 6.10 0a3.05 3.05 0 1 0 -6.10 0M269.51 277.64a3.05 3.05 0 1 0 6.10 0a3.05 3.05 0 1 0 -6.10 0M270.40 277.64a3.05 3.05 0 1 0 6.10 0a3.05 3.05 0 1 0 -6.10 0M271.29 277.65a3.05 3.05 0 1 0 6.10 0a3.05 3.05 0 1 0 -6.10 0M272.18 277.65a3.05 3.05 0 1 0 6.10 0a3.05 3.05 0 1 0 -6.10 0M273.07 277.66a3.05 3.05 0 1 0 6.10 0a3.05 3.05 0 1 0 -6.10 0M273.96 277.67a3.05 3.05 0 1 0 6.10 0a3.05 3.05 0 1 0 -6.10 0M274.86 277.67a3.05 3.05 0 1 0 6.10 0a3.05 3.05 0 1 0 -6.10 0M275.75 277.68a3.05 3.05 0 1 0 6.10 0a3.05 3.05 0 1 0 -6.10 0M276.64 277.68a3.05 3.05 0 1 0 6.10 0a3.05 3.05 0 1 0 -6.10 0M277.53 277.69a3.05 3.05 0 1 0 6.10 0a3.05 3.05 0 1 0 -6.10 0M278.42 277.69a3.05 3.05 0 1 0 6.10 0a3.05 3.05 0 1 0 -6.10 0M279.31 277.70a3.05 3.05 0 1 0 6.10 0a3.05 3.05 0 1 0 -6.10 0M280.20 277.70a3.05 3.05 0 1 0 6.10 0a3.05 3.05 0 1 0 -6.10 0M281.10 277.71a3.05 3.05 0 1 0 6.10 0a3.05 3.05 0 1 0 -6.10 0M281.99 277.71a3.05 3.05 0 1 0 6.10 0a3.05 3.05 0 1 0 -6.10 0M282.88 277.71a3.05 3.05 0 1 0 6.10 0a3.05 3.05 0 1 0 -6.10 0M283.77 277.72a3.05 3.05 0 1 0 6.10 0a3.05 3.05 0 1 0 -6.10 0M284.66 277.72a3.05 3.05 0 1 0 6.10 0a3.05 3.05 0 1 0 -6.10 0M285.55 277.73a3.05 3.05 0 1 0 6.10 0a3.05 3.05 0 1 0 -6.10 0M286.44 277.73a3.05 3.05 0 1 0 6.10 0a3.05 3.05 0 1 0 -6.10 0M287.34 277.74a3.05 3.05 0 1 0 6.10 0a3.05 3.05 0 1 0 -6.10 0M288.23 277.74a3.05 3.05 0 1 0 6.10 0a3.05 3.05 0 1 0 -6.10 0M289.12 277.74a3.05 3.05 0 1 0 6.10 0a3.05 3.05 0 1 0 -6.10 0M290.01 277.75a3.05 3.05 0 1 0 6.10 0a3.05 3.05 0 1 0 -6.10 0M290.90 277.75a3.05 3.05 0 1 0 6.10 0a3.05 3.05 0 1 0 -6.10 0M291.79 277.76a3.05 3.05 0 1 0 6.10 0a3.05 3.05 0 1 0 -6.10 0M292.69 277.76a3.05 3.05 0 1 0 6.10 0a3.05 3.05 0 1 0 -6.10 0M293.58 277.76a3.05 3.05 0 1 0 6.10 0a3.05 3.05 0 1 0 -6.10 0M294.47 277.77a3.05 3.05 0 1 0 6.10 0a3.05 3.05 0 1 0 -6.10 0M295.36 277.77a3.05 3.05 0 1 0 6.10 0a3.05 3.05 0 1 0 -6.10 0M296.25 277.78a3.05 3.05 0 1 0 6.10 0a3.05 3.05 0 1 0 -6.10 0M297.14 277.78a3.05 3.05 0 1 0 6.10 0a3.05 3.05 0 1 0 -6.10 0M298.03 277.78a3.05 3.05 0 1 0 6.10 0a3.05 3.05 0 1 0 -6.10 0M298.93 277.79a3.05 3.05 0 1 0 6.10 0a3.05 3.05 0 1 0 -6.10 0M299.82 277.79a3.05 3.05 0 1 0 6.10 0a3.05 3.05 0 1 0 -6.10 0M300.71 277.79a3.05 3.05 0 1 0 6.10 0a3.05 3.05 0 1 0 -6.10 0M301.60 277.80a3.05 3.05 0 1 0 6.10 0a3.05 3.05 0 1 0 -6.10 0M302.49 277.80a3.05 3.05 0 1 0 6.10 0a3.05 3.05 0 1 0 -6.10 0M303.38 277.80a3.05 3.05 0 1 0 6.10 0a3.05 3.05 0 1 0 -6.10 0M304.28 277.81a3.05 3.05 0 1 0 6.10 0a3.05 3.05 0 1 0 -6.10 0M305.17 277.81a3.05 3.05 0 1 0 6.10 0a3.05 3.05 0 1 0 -6.10 0M306.06 277.81a3.05 3.05 0 1 0 6.10 0a3.05 3.05 0 1 0 -6.10 0M306.95 277.82a3.05 3.05 0 1 0 6.10 0a3.05 3.05 0 1 0 -6.10 0" fill="#ff0000"/>
<path d="M47.00,276.96L76.58,276.56L96.18,276.14L111.02,275.62L122.37,274.91L131.02,273.96L134.44,273.39L137.45,272.72L140.11,271.93L142.39,271.03L144.37,270.01L146.13,268.81L147.67,267.43L149.05,265.81L150.23,263.99L151.30,261.85L152.26,259.38L153.13,256.55L153.92,253.28L154.68,249.42L156.06,239.95L157.38,227.37L158.78,210.39L160.36,187.90L160.94,255.70L161.56,258.60L162.30,261.20L163.12,263.41L164.06,265.33L165.15,267.04L166.40,268.52L167.82,269.81L169.45,270.93L171.59,272.03L174.09,272.97L177.01,273.77L180.42,274.46L184.41,275.05L189.04,275.55L200.79,276.34L216.79,276.91L238.66,277.32L268.63,277.61L310.00,277.82" fill="none" stroke="#000" stroke-width="1.50" stroke-linejoin="round"/>
<mask id="mcL" maskUnits="userSpaceOnUse" x="0" y="0" width="685" height="316"><rect width="685" height="316" fill="#fff"/><path d="M43.95 276.96a3.05 3.05 0 1 0 6.10 0a3.05 3.05 0 1 0 -6.10 0M44.84 276.95a3.05 3.05 0 1 0 6.10 0a3.05 3.05 0 1 0 -6.10 0M45.73 276.94a3.05 3.05 0 1 0 6.10 0a3.05 3.05 0 1 0 -6.10 0M46.62 276.93a3.05 3.05 0 1 0 6.10 0a3.05 3.05 0 1 0 -6.10 0M47.52 276.92a3.05 3.05 0 1 0 6.10 0a3.05 3.05 0 1 0 -6.10 0M48.41 276.91a3.05 3.05 0 1 0 6.10 0a3.05 3.05 0 1 0 -6.10 0M49.30 276.90a3.05 3.05 0 1 0 6.10 0a3.05 3.05 0 1 0 -6.10 0M50.19 276.88a3.05 3.05 0 1 0 6.10 0a3.05 3.05 0 1 0 -6.10 0M51.08 276.87a3.05 3.05 0 1 0 6.10 0a3.05 3.05 0 1 0 -6.10 0M51.97 276.86a3.05 3.05 0 1 0 6.10 0a3.05 3.05 0 1 0 -6.10 0M52.87 276.85a3.05 3.05 0 1 0 6.10 0a3.05 3.05 0 1 0 -6.10 0M53.76 276.84a3.05 3.05 0 1 0 6.10 0a3.05 3.05 0 1 0 -6.10 0M54.65 276.83a3.05 3.05 0 1 0 6.10 0a3.05 3.05 0 1 0 -6.10 0M55.54 276.82a3.05 3.05 0 1 0 6.10 0a3.05 3.05 0 1 0 -6.10 0M56.43 276.80a3.05 3.05 0 1 0 6.10 0a3.05 3.05 0 1 0 -6.10 0M57.32 276.79a3.05 3.05 0 1 0 6.10 0a3.05 3.05 0 1 0 -6.10 0M58.21 276.78a3.05 3.05 0 1 0 6.10 0a3.05 3.05 0 1 0 -6.10 0M59.11 276.77a3.05 3.05 0 1 0 6.10 0a3.05 3.05 0 1 0 -6.10 0M60.00 276.76a3.05 3.05 0 1 0 6.10 0a3.05 3.05 0 1 0 -6.10 0M60.89 276.74a3.05 3.05 0 1 0 6.10 0a3.05 3.05 0 1 0 -6.10 0M61.78 276.73a3.05 3.05 0 1 0 6.10 0a3.05 3.05 0 1 0 -6.10 0M62.67 276.72a3.05 3.05 0 1 0 6.10 0a3.05 3.05 0 1 0 -6.10 0M63.56 276.71a3.05 3.05 0 1 0 6.10 0a3.05 3.05 0 1 0 -6.10 0M64.46 276.69a3.05 3.05 0 1 0 6.10 0a3.05 3.05 0 1 0 -6.10 0M65.35 276.68a3.05 3.05 0 1 0 6.10 0a3.05 3.05 0 1 0 -6.10 0M66.24 276.67a3.05 3.05 0 1 0 6.10 0a3.05 3.05 0 1 0 -6.10 0M67.13 276.66a3.05 3.05 0 1 0 6.10 0a3.05 3.05 0 1 0 -6.10 0M68.02 276.64a3.05 3.05 0 1 0 6.10 0a3.05 3.05 0 1 0 -6.10 0M68.91 276.63a3.05 3.05 0 1 0 6.10 0a3.05 3.05 0 1 0 -6.10 0M69.80 276.62a3.05 3.05 0 1 0 6.10 0a3.05 3.05 0 1 0 -6.10 0M70.70 276.60a3.05 3.05 0 1 0 6.10 0a3.05 3.05 0 1 0 -6.10 0M71.59 276.59a3.05 3.05 0 1 0 6.10 0a3.05 3.05 0 1 0 -6.10 0M72.48 276.57a3.05 3.05 0 1 0 6.10 0a3.05 3.05 0 1 0 -6.10 0M73.37 276.56a3.05 3.05 0 1 0 6.10 0a3.05 3.05 0 1 0 -6.10 0M74.26 276.54a3.05 3.05 0 1 0 6.10 0a3.05 3.05 0 1 0 -6.10 0M75.15 276.53a3.05 3.05 0 1 0 6.10 0a3.05 3.05 0 1 0 -6.10 0M76.04 276.51a3.05 3.05 0 1 0 6.10 0a3.05 3.05 0 1 0 -6.10 0M76.94 276.50a3.05 3.05 0 1 0 6.10 0a3.05 3.05 0 1 0 -6.10 0M77.83 276.48a3.05 3.05 0 1 0 6.10 0a3.05 3.05 0 1 0 -6.10 0M78.72 276.46a3.05 3.05 0 1 0 6.10 0a3.05 3.05 0 1 0 -6.10 0M79.61 276.45a3.05 3.05 0 1 0 6.10 0a3.05 3.05 0 1 0 -6.10 0M80.50 276.43a3.05 3.05 0 1 0 6.10 0a3.05 3.05 0 1 0 -6.10 0M81.39 276.41a3.05 3.05 0 1 0 6.10 0a3.05 3.05 0 1 0 -6.10 0M82.29 276.40a3.05 3.05 0 1 0 6.10 0a3.05 3.05 0 1 0 -6.10 0M83.18 276.38a3.05 3.05 0 1 0 6.10 0a3.05 3.05 0 1 0 -6.10 0M84.07 276.36a3.05 3.05 0 1 0 6.10 0a3.05 3.05 0 1 0 -6.10 0M84.96 276.34a3.05 3.05 0 1 0 6.10 0a3.05 3.05 0 1 0 -6.10 0M85.85 276.32a3.05 3.05 0 1 0 6.10 0a3.05 3.05 0 1 0 -6.10 0M86.74 276.30a3.05 3.05 0 1 0 6.10 0a3.05 3.05 0 1 0 -6.10 0M87.63 276.28a3.05 3.05 0 1 0 6.10 0a3.05 3.05 0 1 0 -6.10 0M88.53 276.26a3.05 3.05 0 1 0 6.10 0a3.05 3.05 0 1 0 -6.10 0M89.42 276.24a3.05 3.05 0 1 0 6.10 0a3.05 3.05 0 1 0 -6.10 0M90.31 276.22a3.05 3.05 0 1 0 6.10 0a3.05 3.05 0 1 0 -6.10 0M91.20 276.19a3.05 3.05 0 1 0 6.10 0a3.05 3.05 0 1 0 -6.10 0M92.09 276.17a3.05 3.05 0 1 0 6.10 0a3.05 3.05 0 1 0 -6.10 0M92.98 276.15a3.05 3.05 0 1 0 6.10 0a3.05 3.05 0 1 0 -6.10 0M93.88 276.12a3.05 3.05 0 1 0 6.10 0a3.05 3.05 0 1 0 -6.10 0M94.77 276.10a3.05 3.05 0 1 0 6.10 0a3.05 3.05 0 1 0 -6.10 0M95.66 276.07a3.05 3.05 0 1 0 6.10 0a3.05 3.05 0 1 0 -6.10 0M96.55 276.04a3.05 3.05 0 1 0 6.10 0a3.05 3.05 0 1 0 -6.10 0M97.44 276.02a3.05 3.05 0 1 0 6.10 0a3.05 3.05 0 1 0 -6.10 0M98.33 275.99a3.05 3.05 0 1 0 6.10 0a3.05 3.05 0 1 0 -6.10 0M99.22 275.96a3.05 3.05 0 1 0 6.10 0a3.05 3.05 0 1 0 -6.10 0M100.12 275.93a3.05 3.05 0 1 0 6.10 0a3.05 3.05 0 1 0 -6.10 0M101.01 275.90a3.05 3.05 0 1 0 6.10 0a3.05 3.05 0 1 0 -6.10 0M101.90 275.87a3.05 3.05 0 1 0 6.10 0a3.05 3.05 0 1 0 -6.10 0M102.79 275.83a3.05 3.05 0 1 0 6.10 0a3.05 3.05 0 1 0 -6.10 0M103.68 275.80a3.05 3.05 0 1 0 6.10 0a3.05 3.05 0 1 0 -6.10 0M104.57 275.76a3.05 3.05 0 1 0 6.10 0a3.05 3.05 0 1 0 -6.10 0M105.47 275.73a3.05 3.05 0 1 0 6.10 0a3.05 3.05 0 1 0 -6.10 0M106.36 275.69a3.05 3.05 0 1 0 6.10 0a3.05 3.05 0 1 0 -6.10 0M107.25 275.65a3.05 3.05 0 1 0 6.10 0a3.05 3.05 0 1 0 -6.10 0M108.14 275.61a3.05 3.05 0 1 0 6.10 0a3.05 3.05 0 1 0 -6.10 0M109.03 275.56a3.05 3.05 0 1 0 6.10 0a3.05 3.05 0 1 0 -6.10 0M109.92 275.52a3.05 3.05 0 1 0 6.10 0a3.05 3.05 0 1 0 -6.10 0M110.81 275.47a3.05 3.05 0 1 0 6.10 0a3.05 3.05 0 1 0 -6.10 0M111.71 275.42a3.05 3.05 0 1 0 6.10 0a3.05 3.05 0 1 0 -6.10 0M112.60 275.38a3.05 3.05 0 1 0 6.10 0a3.05 3.05 0 1 0 -6.10 0M113.49 275.33a3.05 3.05 0 1 0 6.10 0a3.05 3.05 0 1 0 -6.10 0M114.38 275.28a3.05 3.05 0 1 0 6.10 0a3.05 3.05 0 1 0 -6.10 0M115.27 275.23a3.05 3.05 0 1 0 6.10 0a3.05 3.05 0 1 0 -6.10 0M116.16 275.18a3.05 3.05 0 1 0 6.10 0a3.05 3.05 0 1 0 -6.10 0M117.06 275.13a3.05 3.05 0 1 0 6.10 0a3.05 3.05 0 1 0 -6.10 0M117.95 275.08a3.05 3.05 0 1 0 6.10 0a3.05 3.05 0 1 0 -6.10 0M118.84 275.02a3.05 3.05 0 1 0 6.10 0a3.05 3.05 0 1 0 -6.10 0M119.73 274.97a3.05 3.05 0 1 0 6.10 0a3.05 3.05 0 1 0 -6.10 0M120.62 274.91a3.05 3.05 0 1 0 6.10 0a3.05 3.05 0 1 0 -6.10 0M121.51 274.85a3.05 3.05 0 1 0 6.10 0a3.05 3.05 0 1 0 -6.10 0M122.40 274.79a3.05 3.05 0 1 0 6.10 0a3.05 3.05 0 1 0 -6.10 0M123.30 274.73a3.05 3.05 0 1 0 6.10 0a3.05 3.05 0 1 0 -6.10 0M124.19 274.66a3.05 3.05 0 1 0 6.10 0a3.05 3.05 0 1 0 -6.10 0M125.08 274.59a3.05 3.05 0 1 0 6.10 0a3.05 3.05 0 1 0 -6.10 0M125.97 274.51a3.05 3.05 0 1 0 6.10 0a3.05 3.05 0 1 0 -6.10 0M126.86 274.43a3.05 3.05 0 1 0 6.10 0a3.05 3.05 0 1 0 -6.10 0M127.75 274.35a3.05 3.05 0 1 0 6.10 0a3.05 3.05 0 1 0 -6.10 0M128.64 274.25a3.05 3.05 0 1 0 6.10 0a3.05 3.05 0 1 0 -6.10 0M129.54 274.16a3.05 3.05 0 1 0 6.10 0a3.05 3.05 0 1 0 -6.10 0M130.43 274.05a3.05 3.05 0 1 0 6.10 0a3.05 3.05 0 1 0 -6.10 0M131.32 273.93a3.05 3.05 0 1 0 6.10 0a3.05 3.05 0 1 0 -6.10 0M132.21 273.81a3.05 3.05 0 1 0 6.10 0a3.05 3.05 0 1 0 -6.10 0M133.10 273.67a3.05 3.05 0 1 0 6.10 0a3.05 3.05 0 1 0 -6.10 0M133.99 273.51a3.05 3.05 0 1 0 6.10 0a3.05 3.05 0 1 0 -6.10 0M134.89 273.34a3.05 3.05 0 1 0 6.10 0a3.05 3.05 0 1 0 -6.10 0M135.78 273.16a3.05 3.05 0 1 0 6.10 0a3.05 3.05 0 1 0 -6.10 0M136.67 272.95a3.05 3.05 0 1 0 6.10 0a3.05 3.05 0 1 0 -6.10 0M137.56 272.71a3.05 3.05 0 1 0 6.10 0a3.05 3.05 0 1 0 -6.10 0M138.45 272.45a3.05 3.05 0 1 0 6.10 0a3.05 3.05 0 1 0 -6.10 0M139.34 272.14a3.05 3.05 0 1 0 6.10 0a3.05 3.05 0 1 0 -6.10 0M140.23 271.80a3.05 3.05 0 1 0 6.10 0a3.05 3.05 0 1 0 -6.10 0M141.13 271.40a3.05 3.05 0 1 0 6.10 0a3.05 3.05 0 1 0 -6.10 0M142.02 270.93a3.05 3.05 0 1 0 6.10 0a3.05 3.05 0 1 0 -6.10 0M142.91 270.38a3.05 3.05 0 1 0 6.10 0a3.05 3.05 0 1 0 -6.10 0M143.80 269.73a3.05 3.05 0 1 0 6.10 0a3.05 3.05 0 1 0 -6.10 0M144.69 268.93a3.05 3.05 0 1 0 6.10 0a3.05 3.05 0 1 0 -6.10 0M145.58 267.96a3.05 3.05 0 1 0 6.10 0a3.05 3.05 0 1 0 -6.10 0M146.48 266.72a3.05 3.05 0 1 0 6.10 0a3.05 3.05 0 1 0 -6.10 0M147.37 265.27a3.05 3.05 0 1 0 6.10 0a3.05 3.05 0 1 0 -6.10 0M148.26 263.81a3.05 3.05 0 1 0 6.10 0a3.05 3.05 0 1 0 -6.10 0M149.15 262.35a3.05 3.05 0 1 0 6.10 0a3.05 3.05 0 1 0 -6.10 0M150.04 260.47a3.05 3.05 0 1 0 6.10 0a3.05 3.05 0 1 0 -6.10 0M150.93 258.59a3.05 3.05 0 1 0 6.10 0a3.05 3.05 0 1 0 -6.10 0M151.82 256.71a3.05 3.05 0 1 0 6.10 0a3.05 3.05 0 1 0 -6.10 0M152.72 253.81a3.05 3.05 0 1 0 6.10 0a3.05 3.05 0 1 0 -6.10 0M153.61 250.92a3.05 3.05 0 1 0 6.10 0a3.05 3.05 0 1 0 -6.10 0M154.50 248.03a3.05 3.05 0 1 0 6.10 0a3.05 3.05 0 1 0 -6.10 0M155.39 245.03a3.05 3.05 0 1 0 6.10 0a3.05 3.05 0 1 0 -6.10 0M156.28 241.96a3.05 3.05 0 1 0 6.10 0a3.05 3.05 0 1 0 -6.10 0M157.17 238.87a3.05 3.05 0 1 0 6.10 0a3.05 3.05 0 1 0 -6.10 0M158.07 235.40a3.05 3.05 0 1 0 6.10 0a3.05 3.05 0 1 0 -6.10 0M158.96 229.75a3.05 3.05 0 1 0 6.10 0a3.05 3.05 0 1 0 -6.10 0M159.85 223.19a3.05 3.05 0 1 0 6.10 0a3.05 3.05 0 1 0 -6.10 0M160.74 215.00a3.05 3.05 0 1 0 6.10 0a3.05 3.05 0 1 0 -6.10 0M161.63 205.34a3.05 3.05 0 1 0 6.10 0a3.05 3.05 0 1 0 -6.10 0M162.52 263.34a3.05 3.05 0 1 0 6.10 0a3.05 3.05 0 1 0 -6.10 0M163.41 267.18a3.05 3.05 0 1 0 6.10 0a3.05 3.05 0 1 0 -6.10 0M164.31 268.95a3.05 3.05 0 1 0 6.10 0a3.05 3.05 0 1 0 -6.10 0M165.20 269.97a3.05 3.05 0 1 0 6.10 0a3.05 3.05 0 1 0 -6.10 0M166.09 270.68a3.05 3.05 0 1 0 6.10 0a3.05 3.05 0 1 0 -6.10 0M166.98 271.24a3.05 3.05 0 1 0 6.10 0a3.05 3.05 0 1 0 -6.10 0M167.87 271.71a3.05 3.05 0 1 0 6.10 0a3.05 3.05 0 1 0 -6.10 0M168.76 272.12a3.05 3.05 0 1 0 6.10 0a3.05 3.05 0 1 0 -6.10 0M169.66 272.48a3.05 3.05 0 1 0 6.10 0a3.05 3.05 0 1 0 -6.10 0M170.55 272.80a3.05 3.05 0 1 0 6.10 0a3.05 3.05 0 1 0 -6.10 0M171.44 273.09a3.05 3.05 0 1 0 6.10 0a3.05 3.05 0 1 0 -6.10 0M172.33 273.36a3.05 3.05 0 1 0 6.10 0a3.05 3.05 0 1 0 -6.10 0M173.22 273.59a3.05 3.05 0 1 0 6.10 0a3.05 3.05 0 1 0 -6.10 0M174.11 273.81a3.05 3.05 0 1 0 6.10 0a3.05 3.05 0 1 0 -6.10 0M175.00 274.01a3.05 3.05 0 1 0 6.10 0a3.05 3.05 0 1 0 -6.10 0M175.90 274.19a3.05 3.05 0 1 0 6.10 0a3.05 3.05 0 1 0 -6.10 0M176.79 274.36a3.05 3.05 0 1 0 6.10 0a3.05 3.05 0 1 0 -6.10 0M177.68 274.51a3.05 3.05 0 1 0 6.10 0a3.05 3.05 0 1 0 -6.10 0M178.57 274.66a3.05 3.05 0 1 0 6.10 0a3.05 3.05 0 1 0 -6.10 0M179.46 274.79a3.05 3.05 0 1 0 6.10 0a3.05 3.05 0 1 0 -6.10 0M180.35 274.92a3.05 3.05 0 1 0 6.10 0a3.05 3.05 0 1 0 -6.10 0M181.24 275.04a3.05 3.05 0 1 0 6.10 0a3.05 3.05 0 1 0 -6.10 0M182.14 275.15a3.05 3.05 0 1 0 6.10 0a3.05 3.05 0 1 0 -6.10 0M183.03 275.25a3.05 3.05 0 1 0 6.10 0a3.05 3.05 0 1 0 -6.10 0M183.92 275.35a3.05 3.05 0 1 0 6.10 0a3.05 3.05 0 1 0 -6.10 0M184.81 275.44a3.05 3.05 0 1 0 6.10 0a3.05 3.05 0 1 0 -6.10 0M185.70 275.52a3.05 3.05 0 1 0 6.10 0a3.05 3.05 0 1 0 -6.10 0M186.59 275.61a3.05 3.05 0 1 0 6.10 0a3.05 3.05 0 1 0 -6.10 0M187.49 275.68a3.05 3.05 0 1 0 6.10 0a3.05 3.05 0 1 0 -6.10 0M188.38 275.76a3.05 3.05 0 1 0 6.10 0a3.05 3.05 0 1 0 -6.10 0M189.27 275.82a3.05 3.05 0 1 0 6.10 0a3.05 3.05 0 1 0 -6.10 0M190.16 275.89a3.05 3.05 0 1 0 6.10 0a3.05 3.05 0 1 0 -6.10 0M191.05 275.95a3.05 3.05 0 1 0 6.10 0a3.05 3.05 0 1 0 -6.10 0M191.94 276.01a3.05 3.05 0 1 0 6.10 0a3.05 3.05 0 1 0 -6.10 0M192.83 276.07a3.05 3.05 0 1 0 6.10 0a3.05 3.05 0 1 0 -6.10 0M193.73 276.12a3.05 3.05 0 1 0 6.10 0a3.05 3.05 0 1 0 -6.10 0M194.62 276.18a3.05 3.05 0 1 0 6.10 0a3.05 3.05 0 1 0 -6.10 0M195.51 276.23a3.05 3.05 0 1 0 6.10 0a3.05 3.05 0 1 0 -6.10 0M196.40 276.27a3.05 3.05 0 1 0 6.10 0a3.05 3.05 0 1 0 -6.10 0M197.29 276.32a3.05 3.05 0 1 0 6.10 0a3.05 3.05 0 1 0 -6.10 0M198.18 276.36a3.05 3.05 0 1 0 6.10 0a3.05 3.05 0 1 0 -6.10 0M199.08 276.40a3.05 3.05 0 1 0 6.10 0a3.05 3.05 0 1 0 -6.10 0M199.97 276.44a3.05 3.05 0 1 0 6.10 0a3.05 3.05 0 1 0 -6.10 0M200.86 276.48a3.05 3.05 0 1 0 6.10 0a3.05 3.05 0 1 0 -6.10 0M201.75 276.52a3.05 3.05 0 1 0 6.10 0a3.05 3.05 0 1 0 -6.10 0M202.64 276.56a3.05 3.05 0 1 0 6.10 0a3.05 3.05 0 1 0 -6.10 0M203.53 276.59a3.05 3.05 0 1 0 6.10 0a3.05 3.05 0 1 0 -6.10 0M204.42 276.62a3.05 3.05 0 1 0 6.10 0a3.05 3.05 0 1 0 -6.10 0M205.32 276.66a3.05 3.05 0 1 0 6.10 0a3.05 3.05 0 1 0 -6.10 0M206.21 276.69a3.05 3.05 0 1 0 6.10 0a3.05 3.05 0 1 0 -6.10 0M207.10 276.72a3.05 3.05 0 1 0 6.10 0a3.05 3.05 0 1 0 -6.10 0M207.99 276.75a3.05 3.05 0 1 0 6.10 0a3.05 3.05 0 1 0 -6.10 0M208.88 276.77a3.05 3.05 0 1 0 6.10 0a3.05 3.05 0 1 0 -6.10 0M209.77 276.80a3.05 3.05 0 1 0 6.10 0a3.05 3.05 0 1 0 -6.10 0M210.67 276.83a3.05 3.05 0 1 0 6.10 0a3.05 3.05 0 1 0 -6.10 0M211.56 276.85a3.05 3.05 0 1 0 6.10 0a3.05 3.05 0 1 0 -6.10 0M212.45 276.88a3.05 3.05 0 1 0 6.10 0a3.05 3.05 0 1 0 -6.10 0M213.34 276.90a3.05 3.05 0 1 0 6.10 0a3.05 3.05 0 1 0 -6.10 0M214.23 276.92a3.05 3.05 0 1 0 6.10 0a3.05 3.05 0 1 0 -6.10 0M215.12 276.95a3.05 3.05 0 1 0 6.10 0a3.05 3.05 0 1 0 -6.10 0M216.01 276.97a3.05 3.05 0 1 0 6.10 0a3.05 3.05 0 1 0 -6.10 0M216.91 276.99a3.05 3.05 0 1 0 6.10 0a3.05 3.05 0 1 0 -6.10 0M217.80 277.01a3.05 3.05 0 1 0 6.10 0a3.05 3.05 0 1 0 -6.10 0M218.69 277.03a3.05 3.05 0 1 0 6.10 0a3.05 3.05 0 1 0 -6.10 0M219.58 277.05a3.05 3.05 0 1 0 6.10 0a3.05 3.05 0 1 0 -6.10 0M220.47 277.07a3.05 3.05 0 1 0 6.10 0a3.05 3.05 0 1 0 -6.10 0M221.36 277.09a3.05 3.05 0 1 0 6.10 0a3.05 3.05 0 1 0 -6.10 0M222.26 277.10a3.05 3.05 0 1 0 6.10 0a3.05 3.05 0 1 0 -6.10 0M223.15 277.12a3.05 3.05 0 1 0 6.10 0a3.05 3.05 0 1 0 -6.10 0M224.04 277.14a3.05 3.05 0 1 0 6.10 0a3.05 3.05 0 1 0 -6.10 0M224.93 277.15a3.05 3.05 0 1 0 6.10 0a3.05 3.05 0 1 0 -6.10 0M225.82 277.17a3.05 3.05 0 1 0 6.10 0a3.05 3.05 0 1 0 -6.10 0M226.71 277.19a3.05 3.05 0 1 0 6.10 0a3.05 3.05 0 1 0 -6.10 0M227.60 277.20a3.05 3.05 0 1 0 6.10 0a3.05 3.05 0 1 0 -6.10 0M228.50 277.22a3.05 3.05 0 1 0 6.10 0a3.05 3.05 0 1 0 -6.10 0M229.39 277.23a3.05 3.05 0 1 0 6.10 0a3.05 3.05 0 1 0 -6.10 0M230.28 277.24a3.05 3.05 0 1 0 6.10 0a3.05 3.05 0 1 0 -6.10 0M231.17 277.26a3.05 3.05 0 1 0 6.10 0a3.05 3.05 0 1 0 -6.10 0M232.06 277.27a3.05 3.05 0 1 0 6.10 0a3.05 3.05 0 1 0 -6.10 0M232.95 277.28a3.05 3.05 0 1 0 6.10 0a3.05 3.05 0 1 0 -6.10 0M233.84 277.30a3.05 3.05 0 1 0 6.10 0a3.05 3.05 0 1 0 -6.10 0M234.74 277.31a3.05 3.05 0 1 0 6.10 0a3.05 3.05 0 1 0 -6.10 0M235.63 277.32a3.05 3.05 0 1 0 6.10 0a3.05 3.05 0 1 0 -6.10 0M236.52 277.33a3.05 3.05 0 1 0 6.10 0a3.05 3.05 0 1 0 -6.10 0M237.41 277.34a3.05 3.05 0 1 0 6.10 0a3.05 3.05 0 1 0 -6.10 0M238.30 277.36a3.05 3.05 0 1 0 6.10 0a3.05 3.05 0 1 0 -6.10 0M239.19 277.37a3.05 3.05 0 1 0 6.10 0a3.05 3.05 0 1 0 -6.10 0M240.09 277.38a3.05 3.05 0 1 0 6.10 0a3.05 3.05 0 1 0 -6.10 0M240.98 277.39a3.05 3.05 0 1 0 6.10 0a3.05 3.05 0 1 0 -6.10 0M241.87 277.40a3.05 3.05 0 1 0 6.10 0a3.05 3.05 0 1 0 -6.10 0M242.76 277.41a3.05 3.05 0 1 0 6.10 0a3.05 3.05 0 1 0 -6.10 0M243.65 277.42a3.05 3.05 0 1 0 6.10 0a3.05 3.05 0 1 0 -6.10 0M244.54 277.43a3.05 3.05 0 1 0 6.10 0a3.05 3.05 0 1 0 -6.10 0M245.43 277.44a3.05 3.05 0 1 0 6.10 0a3.05 3.05 0 1 0 -6.10 0M246.33 277.45a3.05 3.05 0 1 0 6.10 0a3.05 3.05 0 1 0 -6.10 0M247.22 277.46a3.05 3.05 0 1 0 6.10 0a3.05 3.05 0 1 0 -6.10 0M248.11 277.47a3.05 3.05 0 1 0 6.10 0a3.05 3.05 0 1 0 -6.10 0M249.00 277.48a3.05 3.05 0 1 0 6.10 0a3.05 3.05 0 1 0 -6.10 0M249.89 277.48a3.05 3.05 0 1 0 6.10 0a3.05 3.05 0 1 0 -6.10 0M250.78 277.49a3.05 3.05 0 1 0 6.10 0a3.05 3.05 0 1 0 -6.10 0M251.68 277.50a3.05 3.05 0 1 0 6.10 0a3.05 3.05 0 1 0 -6.10 0M252.57 277.51a3.05 3.05 0 1 0 6.10 0a3.05 3.05 0 1 0 -6.10 0M253.46 277.52a3.05 3.05 0 1 0 6.10 0a3.05 3.05 0 1 0 -6.10 0M254.35 277.52a3.05 3.05 0 1 0 6.10 0a3.05 3.05 0 1 0 -6.10 0M255.24 277.53a3.05 3.05 0 1 0 6.10 0a3.05 3.05 0 1 0 -6.10 0M256.13 277.54a3.05 3.05 0 1 0 6.10 0a3.05 3.05 0 1 0 -6.10 0M257.02 277.55a3.05 3.05 0 1 0 6.10 0a3.05 3.05 0 1 0 -6.10 0M257.92 277.55a3.05 3.05 0 1 0 6.10 0a3.05 3.05 0 1 0 -6.10 0M258.81 277.56a3.05 3.05 0 1 0 6.10 0a3.05 3.05 0 1 0 -6.10 0M259.70 277.57a3.05 3.05 0 1 0 6.10 0a3.05 3.05 0 1 0 -6.10 0M260.59 277.58a3.05 3.05 0 1 0 6.10 0a3.05 3.05 0 1 0 -6.10 0M261.48 277.58a3.05 3.05 0 1 0 6.10 0a3.05 3.05 0 1 0 -6.10 0M262.37 277.59a3.05 3.05 0 1 0 6.10 0a3.05 3.05 0 1 0 -6.10 0M263.27 277.60a3.05 3.05 0 1 0 6.10 0a3.05 3.05 0 1 0 -6.10 0M264.16 277.60a3.05 3.05 0 1 0 6.10 0a3.05 3.05 0 1 0 -6.10 0M265.05 277.61a3.05 3.05 0 1 0 6.10 0a3.05 3.05 0 1 0 -6.10 0M265.94 277.61a3.05 3.05 0 1 0 6.10 0a3.05 3.05 0 1 0 -6.10 0M266.83 277.62a3.05 3.05 0 1 0 6.10 0a3.05 3.05 0 1 0 -6.10 0M267.72 277.63a3.05 3.05 0 1 0 6.10 0a3.05 3.05 0 1 0 -6.10 0M268.61 277.63a3.05 3.05 0 1 0 6.10 0a3.05 3.05 0 1 0 -6.10 0M269.51 277.64a3.05 3.05 0 1 0 6.10 0a3.05 3.05 0 1 0 -6.10 0M270.40 277.64a3.05 3.05 0 1 0 6.10 0a3.05 3.05 0 1 0 -6.10 0M271.29 277.65a3.05 3.05 0 1 0 6.10 0a3.05 3.05 0 1 0 -6.10 0M272.18 277.65a3.05 3.05 0 1 0 6.10 0a3.05 3.05 0 1 0 -6.10 0M273.07 277.66a3.05 3.05 0 1 0 6.10 0a3.05 3.05 0 1 0 -6.10 0M273.96 277.67a3.05 3.05 0 1 0 6.10 0a3.05 3.05 0 1 0 -6.10 0M274.86 277.67a3.05 3.05 0 1 0 6.10 0a3.05 3.05 0 1 0 -6.10 0M275.75 277.68a3.05 3.05 0 1 0 6.10 0a3.05 3.05 0 1 0 -6.10 0M276.64 277.68a3.05 3.05 0 1 0 6.10 0a3.05 3.05 0 1 0 -6.10 0M277.53 277.69a3.05 3.05 0 1 0 6.10 0a3.05 3.05 0 1 0 -6.10 0M278.42 277.69a3.05 3.05 0 1 0 6.10 0a3.05 3.05 0 1 0 -6.10 0M279.31 277.70a3.05 3.05 0 1 0 6.10 0a3.05 3.05 0 1 0 -6.10 0M280.20 277.70a3.05 3.05 0 1 0 6.10 0a3.05 3.05 0 1 0 -6.10 0M281.10 277.71a3.05 3.05 0 1 0 6.10 0a3.05 3.05 0 1 0 -6.10 0M281.99 277.71a3.05 3.05 0 1 0 6.10 0a3.05 3.05 0 1 0 -6.10 0M282.88 277.71a3.05 3.05 0 1 0 6.10 0a3.05 3.05 0 1 0 -6.10 0M283.77 277.72a3.05 3.05 0 1 0 6.10 0a3.05 3.05 0 1 0 -6.10 0M284.66 277.72a3.05 3.05 0 1 0 6.10 0a3.05 3.05 0 1 0 -6.10 0M285.55 277.73a3.05 3.05 0 1 0 6.10 0a3.05 3.05 0 1 0 -6.10 0M286.44 277.73a3.05 3.05 0 1 0 6.10 0a3.05 3.05 0 1 0 -6.10 0M287.34 277.74a3.05 3.05 0 1 0 6.10 0a3.05 3.05 0 1 0 -6.10 0M288.23 277.74a3.05 3.05 0 1 0 6.10 0a3.05 3.05 0 1 0 -6.10 0M289.12 277.74a3.05 3.05 0 1 0 6.10 0a3.05 3.05 0 1 0 -6.10 0M290.01 277.75a3.05 3.05 0 1 0 6.10 0a3.05 3.05 0 1 0 -6.10 0M290.90 277.75a3.05 3.05 0 1 0 6.10 0a3.05 3.05 0 1 0 -6.10 0M291.79 277.76a3.05 3.05 0 1 0 6.10 0a3.05 3.05 0 1 0 -6.10 0M292.69 277.76a3.05 3.05 0 1 0 6.10 0a3.05 3.05 0 1 0 -6.10 0M293.58 277.76a3.05 3.05 0 1 0 6.10 0a3.05 3.05 0 1 0 -6.10 0M294.47 277.77a3.05 3.05 0 1 0 6.10 0a3.05 3.05 0 1 0 -6.10 0M295.36 277.77a3.05 3.05 0 1 0 6.10 0a3.05 3.05 0 1 0 -6.10 0M296.25 277.78a3.05 3.05 0 1 0 6.10 0a3.05 3.05 0 1 0 -6.10 0M297.14 277.78a3.05 3.05 0 1 0 6.10 0a3.05 3.05 0 1 0 -6.10 0M298.03 277.78a3.05 3.05 0 1 0 6.10 0a3.05 3.05 0 1 0 -6.10 0M298.93 277.79a3.05 3.05 0 1 0 6.10 0a3.05 3.05 0 1 0 -6.10 0M299.82 277.79a3.05 3.05 0 1 0 6.10 0a3.05 3.05 0 1 0 -6.10 0M300.71 277.79a3.05 3.05 0 1 0 6.10 0a3.05 3.05 0 1 0 -6.10 0M301.60 277.80a3.05 3.05 0 1 0 6.10 0a3.05 3.05 0 1 0 -6.10 0M302.49 277.80a3.05 3.05 0 1 0 6.10 0a3.05 3.05 0 1 0 -6.10 0M303.38 277.80a3.05 3.05 0 1 0 6.10 0a3.05 3.05 0 1 0 -6.10 0M304.28 277.81a3.05 3.05 0 1 0 6.10 0a3.05 3.05 0 1 0 -6.10 0M305.17 277.81a3.05 3.05 0 1 0 6.10 0a3.05 3.05 0 1 0 -6.10 0M306.06 277.81a3.05 3.05 0 1 0 6.10 0a3.05 3.05 0 1 0 -6.10 0M306.95 277.82a3.05 3.05 0 1 0 6.10 0a3.05 3.05 0 1 0 -6.10 0" fill="#000"/></mask>
<path d="M47.00,276.96L79.86,276.50L100.41,276.02L115.71,275.37L126.88,274.47L131.36,273.89L135.08,273.23L138.36,272.42L141.10,271.48L143.47,270.37L145.47,269.07L147.16,267.56L148.63,265.76L149.89,263.64L150.96,261.18L151.88,258.30L152.70,254.83L153.40,250.77L154.02,246.00L155.06,233.84L155.93,217.09L156.72,194.03L157.52,162.27L158.44,117.04L158.86,234.68L159.31,241.88L159.87,248.15L160.51,253.20L161.29,257.45L162.23,260.99L163.34,263.92L164.68,266.36L166.29,268.40L168.09,270.02L170.25,271.38L172.82,272.53L175.87,273.49L179.48,274.29L183.78,274.97L188.89,275.54L194.97,276.01L210.73,276.74L233.04,277.24L264.71,277.58L310.00,277.82" fill="none" stroke="#8ab83a" stroke-width="1.60" stroke-dasharray="8.3 3.2" stroke-linejoin="round"/>
<path d="M47.00,276.96L79.86,276.50L100.41,276.02L115.71,275.37L126.88,274.47L131.36,273.89L135.08,273.23L138.36,272.42L141.10,271.48L143.47,270.37L145.47,269.07L147.16,267.56L148.63,265.76L149.89,263.64L150.96,261.18L151.88,258.30L152.70,254.83L153.40,250.77L154.02,246.00L155.06,233.84L155.93,217.09L156.72,194.03L157.52,162.27L158.44,117.04L158.86,234.68L159.31,241.88L159.87,248.15L160.51,253.20L161.29,257.45L162.23,260.99L163.34,263.92L164.68,266.36L166.29,268.40L168.09,270.02L170.25,271.38L172.82,272.53L175.87,273.49L179.48,274.29L183.78,274.97L188.89,275.54L194.97,276.01L210.73,276.74L233.04,277.24L264.71,277.58L310.00,277.82" fill="none" stroke="#00e000" stroke-width="2.10" stroke-dasharray="8.3 3.2" stroke-linejoin="round" mask="url(#mcL)"/>
<path d="M47.00,276.96L81.41,276.47L103.06,275.93L118.64,275.18L124.63,274.70L129.68,274.13L134.00,273.43L137.61,272.61L140.66,271.62L143.21,270.46L145.37,269.06L147.17,267.40L148.69,265.43L149.97,263.06L151.04,260.27L151.95,256.91L152.70,252.99L153.34,248.26L153.88,242.68L154.32,236.16L155.04,218.79L155.52,196.33L155.87,166.16L156.66,36.57L157.48,170.96L157.89,202.53L158.42,224.19L159.24,240.95L159.78,247.30L160.42,252.58L161.19,256.95L162.11,260.62L163.22,263.64L164.56,266.17L166.16,268.27L168.10,270.03L170.42,271.47L173.22,272.67L176.59,273.67L180.64,274.50L185.51,275.18L191.37,275.75L198.40,276.22L206.87,276.60L229.35,277.18L262.05,277.56L310.00,277.82" fill="none" stroke="#747474" stroke-width="1.40" stroke-dasharray="1.1 1.1" stroke-linejoin="round"/>
</g>
</g>
<text x="42.50" y="283.56" font-size="14.00" text-anchor="end">0</text>
<text x="42.50" y="247.13" font-size="14.00" text-anchor="end">0.02</text>
<text x="42.50" y="210.70" font-size="14.00" text-anchor="end">0.04</text>
<text x="42.50" y="174.27" font-size="14.00" text-anchor="end">0.06</text>
<text x="42.50" y="137.85" font-size="14.00" text-anchor="end">0.08</text>
<text x="42.50" y="101.42" font-size="14.00" text-anchor="end">0.1</text>
<text x="42.50" y="64.99" font-size="14.00" text-anchor="end">0.12</text>
<text x="42.50" y="28.56" font-size="14.00" text-anchor="end">0.14</text>
<text x="87.12" y="295.90" font-size="14.00" text-anchor="middle">10</text>
<text x="131.69" y="295.90" font-size="14.00" text-anchor="middle">20</text>
<text x="176.27" y="295.90" font-size="14.00" text-anchor="middle">30</text>
<text x="220.85" y="295.90" font-size="14.00" text-anchor="middle">40</text>
<text x="265.42" y="295.90" font-size="14.00" text-anchor="middle">50</text>
<text x="310.00" y="295.90" font-size="14.00" text-anchor="middle">60</text>
<text x="178.50" y="17.50" font-size="15.30" text-anchor="middle">Position 1</text>
<text x="178.50" y="312.60" font-size="15.30" text-anchor="middle">Frequency (Hz)</text>
<text transform="translate(13.6 150.6) rotate(-90)" font-size="15.30" text-anchor="middle">Magnitude (m)</text>
<path d="M435.85 278.20V275.20M435.85 23.60V26.60M479.24 278.20V275.20M479.24 23.60V26.60M522.63 278.20V275.20M522.63 23.60V26.60M566.02 278.20V275.20M566.02 23.60V26.60M609.41 278.20V275.20M609.41 23.60V26.60M652.80 278.20V275.20M652.80 23.60V26.60M396.80 278.20H399.80M652.80 278.20H649.80M396.80 246.38H399.80M652.80 246.38H649.80M396.80 214.55H399.80M652.80 214.55H649.80M396.80 182.72H399.80M652.80 182.72H649.80M396.80 150.90H399.80M652.80 150.90H649.80M396.80 119.07H399.80M652.80 119.07H649.80M396.80 87.25H399.80M652.80 87.25H649.80M396.80 55.42H399.80M652.80 55.42H649.80M396.80 23.60H399.80M652.80 23.60H649.80" stroke="#333333" stroke-width="1.10" fill="none"/>
<rect x="396.80" y="23.60" width="256.00" height="254.60" stroke="#333333" stroke-width="1.10" fill="none"/>
<g clip-path="url(#cR)">
<g transform="translate(0 0.70)">
<path d="M394.21 275.35h5.18v5.18h-5.18zM395.08 275.34h5.18v5.18h-5.18zM395.94 275.33h5.18v5.18h-5.18zM396.81 275.32h5.18v5.18h-5.18zM397.68 275.30h5.18v5.18h-5.18zM398.55 275.29h5.18v5.18h-5.18zM399.41 275.28h5.18v5.18h-5.18zM400.28 275.27h5.18v5.18h-5.18zM401.15 275.25h5.18v5.18h-5.18zM402.02 275.24h5.18v5.18h-5.18zM402.89 275.23h5.18v5.18h-5.18zM403.75 275.21h5.18v5.18h-5.18zM404.62 275.20h5.18v5.18h-5.18zM405.49 275.19h5.18v5.18h-5.18zM406.36 275.18h5.18v5.18h-5.18zM407.22 275.16h5.18v5.18h-5.18zM408.09 275.15h5.18v5.18h-5.18zM408.96 275.14h5.18v5.18h-5.18zM409.83 275.13h5.18v5.18h-5.18zM410.70 275.11h5.18v5.18h-5.18zM411.56 275.10h5.18v5.18h-5.18zM412.43 275.09h5.18v5.18h-5.18zM413.30 275.08h5.18v5.18h-5.18zM414.17 275.06h5.18v5.18h-5.18zM415.03 275.05h5.18v5.18h-5.18zM415.90 275.04h5.18v5.18h-5.18zM416.77 275.02h5.18v5.18h-5.18zM417.64 275.01h5.18v5.18h-5.18zM418.51 275.00h5.18v5.18h-5.18zM419.37 274.99h5.18v5.18h-5.18zM420.24 274.97h5.18v5.18h-5.18zM421.11 274.96h5.18v5.18h-5.18zM421.98 274.95h5.18v5.18h-5.18zM422.84 274.93h5.18v5.18h-5.18zM423.71 274.92h5.18v5.18h-5.18zM424.58 274.91h5.18v5.18h-5.18zM425.45 274.89h5.18v5.18h-5.18zM426.32 274.88h5.18v5.18h-5.18zM427.18 274.87h5.18v5.18h-5.18zM428.05 274.85h5.18v5.18h-5.18zM428.92 274.84h5.18v5.18h-5.18zM429.79 274.82h5.18v5.18h-5.18zM430.65 274.81h5.18v5.18h-5.18zM431.52 274.80h5.18v5.18h-5.18zM432.39 274.78h5.18v5.18h-5.18zM433.26 274.77h5.18v5.18h-5.18zM434.13 274.75h5.18v5.18h-5.18zM434.99 274.74h5.18v5.18h-5.18zM435.86 274.72h5.18v5.18h-5.18zM436.73 274.71h5.18v5.18h-5.18zM437.60 274.69h5.18v5.18h-5.18zM438.47 274.67h5.18v5.18h-5.18zM439.33 274.66h5.18v5.18h-5.18zM440.20 274.64h5.18v5.18h-5.18zM441.07 274.62h5.18v5.18h-5.18zM441.94 274.61h5.18v5.18h-5.18zM442.80 274.59h5.18v5.18h-5.18zM443.67 274.57h5.18v5.18h-5.18zM444.54 274.55h5.18v5.18h-5.18zM445.41 274.54h5.18v5.18h-5.18zM446.28 274.52h5.18v5.18h-5.18zM447.14 274.50h5.18v5.18h-5.18zM448.01 274.48h5.18v5.18h-5.18zM448.88 274.46h5.18v5.18h-5.18zM449.75 274.44h5.18v5.18h-5.18zM450.61 274.42h5.18v5.18h-5.18zM451.48 274.40h5.18v5.18h-5.18zM452.35 274.37h5.18v5.18h-5.18zM453.22 274.35h5.18v5.18h-5.18zM454.09 274.33h5.18v5.18h-5.18zM454.95 274.30h5.18v5.18h-5.18zM455.82 274.28h5.18v5.18h-5.18zM456.69 274.26h5.18v5.18h-5.18zM457.56 274.23h5.18v5.18h-5.18zM458.42 274.20h5.18v5.18h-5.18zM459.29 274.17h5.18v5.18h-5.18zM460.16 274.15h5.18v5.18h-5.18zM461.03 274.12h5.18v5.18h-5.18zM461.90 274.09h5.18v5.18h-5.18zM462.76 274.05h5.18v5.18h-5.18zM463.63 274.02h5.18v5.18h-5.18zM464.50 273.99h5.18v5.18h-5.18zM465.37 273.95h5.18v5.18h-5.18zM466.23 273.91h5.18v5.18h-5.18zM467.10 273.87h5.18v5.18h-5.18zM467.97 273.83h5.18v5.18h-5.18zM468.84 273.79h5.18v5.18h-5.18zM469.71 273.75h5.18v5.18h-5.18zM470.57 273.70h5.18v5.18h-5.18zM471.44 273.65h5.18v5.18h-5.18zM472.31 273.60h5.18v5.18h-5.18zM473.18 273.54h5.18v5.18h-5.18zM474.04 273.48h5.18v5.18h-5.18zM474.91 273.42h5.18v5.18h-5.18zM475.78 273.36h5.18v5.18h-5.18zM476.65 273.29h5.18v5.18h-5.18zM477.52 273.21h5.18v5.18h-5.18zM478.38 273.13h5.18v5.18h-5.18zM479.25 273.04h5.18v5.18h-5.18zM480.12 272.95h5.18v5.18h-5.18zM480.99 272.85h5.18v5.18h-5.18zM481.85 272.74h5.18v5.18h-5.18zM482.72 272.62h5.18v5.18h-5.18zM483.59 272.49h5.18v5.18h-5.18zM484.46 272.35h5.18v5.18h-5.18zM485.33 272.19h5.18v5.18h-5.18zM486.19 272.02h5.18v5.18h-5.18zM487.06 271.82h5.18v5.18h-5.18zM487.93 271.60h5.18v5.18h-5.18zM488.80 271.34h5.18v5.18h-5.18zM489.67 271.05h5.18v5.18h-5.18zM490.53 270.71h5.18v5.18h-5.18zM491.40 270.31h5.18v5.18h-5.18zM492.27 269.84h5.18v5.18h-5.18zM493.14 269.26h5.18v5.18h-5.18zM494.00 268.53h5.18v5.18h-5.18zM494.87 267.61h5.18v5.18h-5.18zM495.74 266.38h5.18v5.18h-5.18zM496.61 264.67h5.18v5.18h-5.18zM497.48 261.31h5.18v5.18h-5.18zM498.34 257.96h5.18v5.18h-5.18zM499.21 253.38h5.18v5.18h-5.18zM500.08 249.68h5.18v5.18h-5.18zM500.95 247.21h5.18v5.18h-5.18zM501.81 244.74h5.18v5.18h-5.18zM502.68 242.27h5.18v5.18h-5.18zM503.55 239.80h5.18v5.18h-5.18zM504.42 236.86h5.18v5.18h-5.18zM505.29 228.56h5.18v5.18h-5.18zM506.15 220.26h5.18v5.18h-5.18zM507.02 211.96h5.18v5.18h-5.18zM507.89 179.91h5.18v5.18h-5.18zM508.76 157.07h5.18v5.18h-5.18zM509.62 266.66h5.18v5.18h-5.18zM510.49 268.88h5.18v5.18h-5.18zM511.36 270.09h5.18v5.18h-5.18zM512.23 270.80h5.18v5.18h-5.18zM513.10 271.25h5.18v5.18h-5.18zM513.96 271.57h5.18v5.18h-5.18zM514.83 271.81h5.18v5.18h-5.18zM515.70 272.00h5.18v5.18h-5.18zM516.57 272.16h5.18v5.18h-5.18zM517.43 272.29h5.18v5.18h-5.18zM518.30 272.41h5.18v5.18h-5.18zM519.17 272.51h5.18v5.18h-5.18zM520.04 272.60h5.18v5.18h-5.18zM520.91 272.68h5.18v5.18h-5.18zM521.77 272.75h5.18v5.18h-5.18zM522.64 272.81h5.18v5.18h-5.18zM523.51 272.86h5.18v5.18h-5.18zM524.38 272.90h5.18v5.18h-5.18zM525.24 272.94h5.18v5.18h-5.18zM526.11 272.97h5.18v5.18h-5.18zM526.98 273.00h5.18v5.18h-5.18zM527.85 273.01h5.18v5.18h-5.18zM528.72 273.03h5.18v5.18h-5.18zM529.58 273.03h5.18v5.18h-5.18zM530.45 273.04h5.18v5.18h-5.18zM531.32 273.03h5.18v5.18h-5.18zM532.19 273.02h5.18v5.18h-5.18zM533.05 273.01h5.18v5.18h-5.18zM533.92 272.98h5.18v5.18h-5.18zM534.79 272.95h5.18v5.18h-5.18zM535.66 272.92h5.18v5.18h-5.18zM536.53 272.87h5.18v5.18h-5.18zM537.39 272.82h5.18v5.18h-5.18zM538.26 272.75h5.18v5.18h-5.18zM539.13 272.68h5.18v5.18h-5.18zM540.00 272.59h5.18v5.18h-5.18zM540.87 272.49h5.18v5.18h-5.18zM541.73 272.37h5.18v5.18h-5.18zM542.60 272.23h5.18v5.18h-5.18zM543.47 272.06h5.18v5.18h-5.18zM544.34 271.86h5.18v5.18h-5.18zM545.20 271.63h5.18v5.18h-5.18zM546.07 271.34h5.18v5.18h-5.18zM546.94 270.99h5.18v5.18h-5.18zM547.81 270.55h5.18v5.18h-5.18zM548.68 269.99h5.18v5.18h-5.18zM549.54 267.55h5.18v5.18h-5.18zM550.41 265.11h5.18v5.18h-5.18zM551.28 262.95h5.18v5.18h-5.18zM552.15 260.79h5.18v5.18h-5.18zM553.01 258.63h5.18v5.18h-5.18zM553.88 256.47h5.18v5.18h-5.18zM554.75 254.00h5.18v5.18h-5.18zM555.62 253.48h5.18v5.18h-5.18zM556.49 252.95h5.18v5.18h-5.18zM557.35 251.04h5.18v5.18h-5.18zM558.22 247.73h5.18v5.18h-5.18zM559.09 244.42h5.18v5.18h-5.18zM559.96 265.37h5.18v5.18h-5.18zM560.82 268.11h5.18v5.18h-5.18zM561.69 269.72h5.18v5.18h-5.18zM562.56 270.74h5.18v5.18h-5.18zM563.43 271.41h5.18v5.18h-5.18zM564.30 271.88h5.18v5.18h-5.18zM565.16 272.23h5.18v5.18h-5.18zM566.03 272.51h5.18v5.18h-5.18zM566.90 272.73h5.18v5.18h-5.18zM567.77 272.92h5.18v5.18h-5.18zM568.63 273.07h5.18v5.18h-5.18zM569.50 273.21h5.18v5.18h-5.18zM570.37 273.33h5.18v5.18h-5.18zM571.24 273.44h5.18v5.18h-5.18zM572.11 273.54h5.18v5.18h-5.18zM572.97 273.63h5.18v5.18h-5.18zM573.84 273.71h5.18v5.18h-5.18zM574.71 273.78h5.18v5.18h-5.18zM575.58 273.85h5.18v5.18h-5.18zM576.44 273.92h5.18v5.18h-5.18zM577.31 273.97h5.18v5.18h-5.18zM578.18 274.03h5.18v5.18h-5.18zM579.05 274.08h5.18v5.18h-5.18zM579.92 274.13h5.18v5.18h-5.18zM580.78 274.17h5.18v5.18h-5.18zM581.65 274.21h5.18v5.18h-5.18zM582.52 274.25h5.18v5.18h-5.18zM583.39 274.29h5.18v5.18h-5.18zM584.25 274.33h5.18v5.18h-5.18zM585.12 274.36h5.18v5.18h-5.18zM585.99 274.39h5.18v5.18h-5.18zM586.86 274.42h5.18v5.18h-5.18zM587.73 274.45h5.18v5.18h-5.18zM588.59 274.48h5.18v5.18h-5.18zM589.46 274.50h5.18v5.18h-5.18zM590.33 274.53h5.18v5.18h-5.18zM591.20 274.55h5.18v5.18h-5.18zM592.07 274.57h5.18v5.18h-5.18zM592.93 274.60h5.18v5.18h-5.18zM593.80 274.62h5.18v5.18h-5.18zM594.67 274.64h5.18v5.18h-5.18zM595.54 274.66h5.18v5.18h-5.18zM596.40 274.68h5.18v5.18h-5.18zM597.27 274.69h5.18v5.18h-5.18zM598.14 274.71h5.18v5.18h-5.18zM599.01 274.73h5.18v5.18h-5.18zM599.88 274.74h5.18v5.18h-5.18zM600.74 274.76h5.18v5.18h-5.18zM601.61 274.77h5.18v5.18h-5.18zM602.48 274.79h5.18v5.18h-5.18zM603.35 274.80h5.18v5.18h-5.18zM604.21 274.82h5.18v5.18h-5.18zM605.08 274.83h5.18v5.18h-5.18zM605.95 274.84h5.18v5.18h-5.18zM606.82 274.85h5.18v5.18h-5.18zM607.69 274.87h5.18v5.18h-5.18zM608.55 274.88h5.18v5.18h-5.18zM609.42 274.89h5.18v5.18h-5.18zM610.29 274.90h5.18v5.18h-5.18zM611.16 274.91h5.18v5.18h-5.18zM612.02 274.92h5.18v5.18h-5.18zM612.89 274.93h5.18v5.18h-5.18zM613.76 274.94h5.18v5.18h-5.18zM614.63 274.95h5.18v5.18h-5.18zM615.50 274.96h5.18v5.18h-5.18zM616.36 274.97h5.18v5.18h-5.18zM617.23 274.98h5.18v5.18h-5.18zM618.10 274.99h5.18v5.18h-5.18zM618.97 274.99h5.18v5.18h-5.18zM619.83 275.00h5.18v5.18h-5.18zM620.70 275.01h5.18v5.18h-5.18zM621.57 275.02h5.18v5.18h-5.18zM622.44 275.03h5.18v5.18h-5.18zM623.31 275.03h5.18v5.18h-5.18zM624.17 275.04h5.18v5.18h-5.18zM625.04 275.05h5.18v5.18h-5.18zM625.91 275.05h5.18v5.18h-5.18zM626.78 275.06h5.18v5.18h-5.18zM627.64 275.07h5.18v5.18h-5.18zM628.51 275.07h5.18v5.18h-5.18zM629.38 275.08h5.18v5.18h-5.18zM630.25 275.09h5.18v5.18h-5.18zM631.12 275.09h5.18v5.18h-5.18zM631.98 275.10h5.18v5.18h-5.18zM632.85 275.10h5.18v5.18h-5.18zM633.72 275.11h5.18v5.18h-5.18zM634.59 275.12h5.18v5.18h-5.18zM635.45 275.12h5.18v5.18h-5.18zM636.32 275.13h5.18v5.18h-5.18zM637.19 275.13h5.18v5.18h-5.18zM638.06 275.14h5.18v5.18h-5.18zM638.93 275.14h5.18v5.18h-5.18zM639.79 275.15h5.18v5.18h-5.18zM640.66 275.15h5.18v5.18h-5.18zM641.53 275.16h5.18v5.18h-5.18zM642.40 275.16h5.18v5.18h-5.18zM643.27 275.17h5.18v5.18h-5.18zM644.13 275.17h5.18v5.18h-5.18zM645.00 275.17h5.18v5.18h-5.18zM645.87 275.18h5.18v5.18h-5.18zM646.74 275.18h5.18v5.18h-5.18zM647.60 275.19h5.18v5.18h-5.18zM648.47 275.19h5.18v5.18h-5.18zM649.34 275.20h5.18v5.18h-5.18zM650.21 275.20h5.18v5.18h-5.18z" fill="#0000ff"/>
<path d="M507.58 198.92h5.79V249.27h-5.79zM508.45 82.44h5.79V255.00h-5.79zM509.32 70.35h5.79V241.00h-5.79zM510.19 45.53h5.79V224.45h-5.79z" fill="#0000ff"/>
<path d="M393.75 277.94a3.05 3.05 0 1 0 6.10 0a3.05 3.05 0 1 0 -6.10 0M394.62 277.93a3.05 3.05 0 1 0 6.10 0a3.05 3.05 0 1 0 -6.10 0M395.49 277.91a3.05 3.05 0 1 0 6.10 0a3.05 3.05 0 1 0 -6.10 0M396.35 277.90a3.05 3.05 0 1 0 6.10 0a3.05 3.05 0 1 0 -6.10 0M397.22 277.89a3.05 3.05 0 1 0 6.10 0a3.05 3.05 0 1 0 -6.10 0M398.09 277.87a3.05 3.05 0 1 0 6.10 0a3.05 3.05 0 1 0 -6.10 0M398.96 277.86a3.05 3.05 0 1 0 6.10 0a3.05 3.05 0 1 0 -6.10 0M399.82 277.85a3.05 3.05 0 1 0 6.10 0a3.05 3.05 0 1 0 -6.10 0M400.69 277.83a3.05 3.05 0 1 0 6.10 0a3.05 3.05 0 1 0 -6.10 0M401.56 277.82a3.05 3.05 0 1 0 6.10 0a3.05 3.05 0 1 0 -6.10 0M402.43 277.81a3.05 3.05 0 1 0 6.10 0a3.05 3.05 0 1 0 -6.10 0M403.30 277.79a3.05 3.05 0 1 0 6.10 0a3.05 3.05 0 1 0 -6.10 0M404.16 277.78a3.05 3.05 0 1 0 6.10 0a3.05 3.05 0 1 0 -6.10 0M405.03 277.77a3.05 3.05 0 1 0 6.10 0a3.05 3.05 0 1 0 -6.10 0M405.90 277.76a3.05 3.05 0 1 0 6.10 0a3.05 3.05 0 1 0 -6.10 0M406.77 277.74a3.05 3.05 0 1 0 6.10 0a3.05 3.05 0 1 0 -6.10 0M407.63 277.73a3.05 3.05 0 1 0 6.10 0a3.05 3.05 0 1 0 -6.10 0M408.50 277.72a3.05 3.05 0 1 0 6.10 0a3.05 3.05 0 1 0 -6.10 0M409.37 277.70a3.05 3.05 0 1 0 6.10 0a3.05 3.05 0 1 0 -6.10 0M410.24 277.69a3.05 3.05 0 1 0 6.10 0a3.05 3.05 0 1 0 -6.10 0M411.11 277.68a3.05 3.05 0 1 0 6.10 0a3.05 3.05 0 1 0 -6.10 0M411.97 277.67a3.05 3.05 0 1 0 6.10 0a3.05 3.05 0 1 0 -6.10 0M412.84 277.65a3.05 3.05 0 1 0 6.10 0a3.05 3.05 0 1 0 -6.10 0M413.71 277.64a3.05 3.05 0 1 0 6.10 0a3.05 3.05 0 1 0 -6.10 0M414.58 277.63a3.05 3.05 0 1 0 6.10 0a3.05 3.05 0 1 0 -6.10 0M415.44 277.61a3.05 3.05 0 1 0 6.10 0a3.05 3.05 0 1 0 -6.10 0M416.31 277.60a3.05 3.05 0 1 0 6.10 0a3.05 3.05 0 1 0 -6.10 0M417.18 277.59a3.05 3.05 0 1 0 6.10 0a3.05 3.05 0 1 0 -6.10 0M418.05 277.57a3.05 3.05 0 1 0 6.10 0a3.05 3.05 0 1 0 -6.10 0M418.92 277.56a3.05 3.05 0 1 0 6.10 0a3.05 3.05 0 1 0 -6.10 0M419.78 277.55a3.05 3.05 0 1 0 6.10 0a3.05 3.05 0 1 0 -6.10 0M420.65 277.53a3.05 3.05 0 1 0 6.10 0a3.05 3.05 0 1 0 -6.10 0M421.52 277.52a3.05 3.05 0 1 0 6.10 0a3.05 3.05 0 1 0 -6.10 0M422.39 277.51a3.05 3.05 0 1 0 6.10 0a3.05 3.05 0 1 0 -6.10 0M423.26 277.49a3.05 3.05 0 1 0 6.10 0a3.05 3.05 0 1 0 -6.10 0M424.12 277.48a3.05 3.05 0 1 0 6.10 0a3.05 3.05 0 1 0 -6.10 0M424.99 277.46a3.05 3.05 0 1 0 6.10 0a3.05 3.05 0 1 0 -6.10 0M425.86 277.45a3.05 3.05 0 1 0 6.10 0a3.05 3.05 0 1 0 -6.10 0M426.73 277.44a3.05 3.05 0 1 0 6.10 0a3.05 3.05 0 1 0 -6.10 0M427.59 277.42a3.05 3.05 0 1 0 6.10 0a3.05 3.05 0 1 0 -6.10 0M428.46 277.41a3.05 3.05 0 1 0 6.10 0a3.05 3.05 0 1 0 -6.10 0M429.33 277.39a3.05 3.05 0 1 0 6.10 0a3.05 3.05 0 1 0 -6.10 0M430.20 277.38a3.05 3.05 0 1 0 6.10 0a3.05 3.05 0 1 0 -6.10 0M431.07 277.36a3.05 3.05 0 1 0 6.10 0a3.05 3.05 0 1 0 -6.10 0M431.93 277.35a3.05 3.05 0 1 0 6.10 0a3.05 3.05 0 1 0 -6.10 0M432.80 277.33a3.05 3.05 0 1 0 6.10 0a3.05 3.05 0 1 0 -6.10 0M433.67 277.32a3.05 3.05 0 1 0 6.10 0a3.05 3.05 0 1 0 -6.10 0M434.54 277.30a3.05 3.05 0 1 0 6.10 0a3.05 3.05 0 1 0 -6.10 0M435.40 277.29a3.05 3.05 0 1 0 6.10 0a3.05 3.05 0 1 0 -6.10 0M436.27 277.27a3.05 3.05 0 1 0 6.10 0a3.05 3.05 0 1 0 -6.10 0M437.14 277.25a3.05 3.05 0 1 0 6.10 0a3.05 3.05 0 1 0 -6.10 0M438.01 277.24a3.05 3.05 0 1 0 6.10 0a3.05 3.05 0 1 0 -6.10 0M438.88 277.22a3.05 3.05 0 1 0 6.10 0a3.05 3.05 0 1 0 -6.10 0M439.74 277.20a3.05 3.05 0 1 0 6.10 0a3.05 3.05 0 1 0 -6.10 0M440.61 277.19a3.05 3.05 0 1 0 6.10 0a3.05 3.05 0 1 0 -6.10 0M441.48 277.17a3.05 3.05 0 1 0 6.10 0a3.05 3.05 0 1 0 -6.10 0M442.35 277.15a3.05 3.05 0 1 0 6.10 0a3.05 3.05 0 1 0 -6.10 0M443.21 277.13a3.05 3.05 0 1 0 6.10 0a3.05 3.05 0 1 0 -6.10 0M444.08 277.11a3.05 3.05 0 1 0 6.10 0a3.05 3.05 0 1 0 -6.10 0M444.95 277.10a3.05 3.05 0 1 0 6.10 0a3.05 3.05 0 1 0 -6.10 0M445.82 277.08a3.05 3.05 0 1 0 6.10 0a3.05 3.05 0 1 0 -6.10 0M446.69 277.06a3.05 3.05 0 1 0 6.10 0a3.05 3.05 0 1 0 -6.10 0M447.55 277.04a3.05 3.05 0 1 0 6.10 0a3.05 3.05 0 1 0 -6.10 0M448.42 277.02a3.05 3.05 0 1 0 6.10 0a3.05 3.05 0 1 0 -6.10 0M449.29 277.00a3.05 3.05 0 1 0 6.10 0a3.05 3.05 0 1 0 -6.10 0M450.16 276.97a3.05 3.05 0 1 0 6.10 0a3.05 3.05 0 1 0 -6.10 0M451.02 276.95a3.05 3.05 0 1 0 6.10 0a3.05 3.05 0 1 0 -6.10 0M451.89 276.93a3.05 3.05 0 1 0 6.10 0a3.05 3.05 0 1 0 -6.10 0M452.76 276.91a3.05 3.05 0 1 0 6.10 0a3.05 3.05 0 1 0 -6.10 0M453.63 276.88a3.05 3.05 0 1 0 6.10 0a3.05 3.05 0 1 0 -6.10 0M454.50 276.86a3.05 3.05 0 1 0 6.10 0a3.05 3.05 0 1 0 -6.10 0M455.36 276.83a3.05 3.05 0 1 0 6.10 0a3.05 3.05 0 1 0 -6.10 0M456.23 276.81a3.05 3.05 0 1 0 6.10 0a3.05 3.05 0 1 0 -6.10 0M457.10 276.78a3.05 3.05 0 1 0 6.10 0a3.05 3.05 0 1 0 -6.10 0M457.97 276.75a3.05 3.05 0 1 0 6.10 0a3.05 3.05 0 1 0 -6.10 0M458.83 276.72a3.05 3.05 0 1 0 6.10 0a3.05 3.05 0 1 0 -6.10 0M459.70 276.69a3.05 3.05 0 1 0 6.10 0a3.05 3.05 0 1 0 -6.10 0M460.57 276.66a3.05 3.05 0 1 0 6.10 0a3.05 3.05 0 1 0 -6.10 0M461.44 276.63a3.05 3.05 0 1 0 6.10 0a3.05 3.05 0 1 0 -6.10 0M462.31 276.60a3.05 3.05 0 1 0 6.10 0a3.05 3.05 0 1 0 -6.10 0M463.17 276.56a3.05 3.05 0 1 0 6.10 0a3.05 3.05 0 1 0 -6.10 0M464.04 276.53a3.05 3.05 0 1 0 6.10 0a3.05 3.05 0 1 0 -6.10 0M464.91 276.49a3.05 3.05 0 1 0 6.10 0a3.05 3.05 0 1 0 -6.10 0M465.78 276.45a3.05 3.05 0 1 0 6.10 0a3.05 3.05 0 1 0 -6.10 0M466.64 276.41a3.05 3.05 0 1 0 6.10 0a3.05 3.05 0 1 0 -6.10 0M467.51 276.37a3.05 3.05 0 1 0 6.10 0a3.05 3.05 0 1 0 -6.10 0M468.38 276.33a3.05 3.05 0 1 0 6.10 0a3.05 3.05 0 1 0 -6.10 0M469.25 276.28a3.05 3.05 0 1 0 6.10 0a3.05 3.05 0 1 0 -6.10 0M470.12 276.23a3.05 3.05 0 1 0 6.10 0a3.05 3.05 0 1 0 -6.10 0M470.98 276.18a3.05 3.05 0 1 0 6.10 0a3.05 3.05 0 1 0 -6.10 0M471.85 276.13a3.05 3.05 0 1 0 6.10 0a3.05 3.05 0 1 0 -6.10 0M472.72 276.07a3.05 3.05 0 1 0 6.10 0a3.05 3.05 0 1 0 -6.10 0M473.59 276.01a3.05 3.05 0 1 0 6.10 0a3.05 3.05 0 1 0 -6.10 0M474.46 275.95a3.05 3.05 0 1 0 6.10 0a3.05 3.05 0 1 0 -6.10 0M475.32 275.88a3.05 3.05 0 1 0 6.10 0a3.05 3.05 0 1 0 -6.10 0M476.19 275.81a3.05 3.05 0 1 0 6.10 0a3.05 3.05 0 1 0 -6.10 0M477.06 275.73a3.05 3.05 0 1 0 6.10 0a3.05 3.05 0 1 0 -6.10 0M477.93 275.65a3.05 3.05 0 1 0 6.10 0a3.05 3.05 0 1 0 -6.10 0M478.79 275.56a3.05 3.05 0 1 0 6.10 0a3.05 3.05 0 1 0 -6.10 0M479.66 275.46a3.05 3.05 0 1 0 6.10 0a3.05 3.05 0 1 0 -6.10 0M480.53 275.36a3.05 3.05 0 1 0 6.10 0a3.05 3.05 0 1 0 -6.10 0M481.40 275.25a3.05 3.05 0 1 0 6.10 0a3.05 3.05 0 1 0 -6.10 0M482.27 275.12a3.05 3.05 0 1 0 6.10 0a3.05 3.05 0 1 0 -6.10 0M483.13 274.99a3.05 3.05 0 1 0 6.10 0a3.05 3.05 0 1 0 -6.10 0M484.00 274.84a3.05 3.05 0 1 0 6.10 0a3.05 3.05 0 1 0 -6.10 0M484.87 274.68a3.05 3.05 0 1 0 6.10 0a3.05 3.05 0 1 0 -6.10 0M485.74 274.50a3.05 3.05 0 1 0 6.10 0a3.05 3.05 0 1 0 -6.10 0M486.60 274.29a3.05 3.05 0 1 0 6.10 0a3.05 3.05 0 1 0 -6.10 0M487.47 274.06a3.05 3.05 0 1 0 6.10 0a3.05 3.05 0 1 0 -6.10 0M488.34 273.80a3.05 3.05 0 1 0 6.10 0a3.05 3.05 0 1 0 -6.10 0M489.21 273.50a3.05 3.05 0 1 0 6.10 0a3.05 3.05 0 1 0 -6.10 0M490.08 273.15a3.05 3.05 0 1 0 6.10 0a3.05 3.05 0 1 0 -6.10 0M490.94 272.74a3.05 3.05 0 1 0 6.10 0a3.05 3.05 0 1 0 -6.10 0M491.81 272.25a3.05 3.05 0 1 0 6.10 0a3.05 3.05 0 1 0 -6.10 0M492.68 271.65a3.05 3.05 0 1 0 6.10 0a3.05 3.05 0 1 0 -6.10 0M493.55 270.91a3.05 3.05 0 1 0 6.10 0a3.05 3.05 0 1 0 -6.10 0M494.41 269.95a3.05 3.05 0 1 0 6.10 0a3.05 3.05 0 1 0 -6.10 0M495.28 268.68a3.05 3.05 0 1 0 6.10 0a3.05 3.05 0 1 0 -6.10 0M496.15 266.92a3.05 3.05 0 1 0 6.10 0a3.05 3.05 0 1 0 -6.10 0M497.02 263.46a3.05 3.05 0 1 0 6.10 0a3.05 3.05 0 1 0 -6.10 0M497.89 260.00a3.05 3.05 0 1 0 6.10 0a3.05 3.05 0 1 0 -6.10 0M498.75 255.29a3.05 3.05 0 1 0 6.10 0a3.05 3.05 0 1 0 -6.10 0M499.62 251.47a3.05 3.05 0 1 0 6.10 0a3.05 3.05 0 1 0 -6.10 0M500.49 248.92a3.05 3.05 0 1 0 6.10 0a3.05 3.05 0 1 0 -6.10 0M501.36 246.38a3.05 3.05 0 1 0 6.10 0a3.05 3.05 0 1 0 -6.10 0M502.22 243.83a3.05 3.05 0 1 0 6.10 0a3.05 3.05 0 1 0 -6.10 0M503.09 241.28a3.05 3.05 0 1 0 6.10 0a3.05 3.05 0 1 0 -6.10 0M503.96 238.25a3.05 3.05 0 1 0 6.10 0a3.05 3.05 0 1 0 -6.10 0M504.83 226.33a3.05 3.05 0 1 0 6.10 0a3.05 3.05 0 1 0 -6.10 0M505.70 214.74a3.05 3.05 0 1 0 6.10 0a3.05 3.05 0 1 0 -6.10 0M506.56 199.27a3.05 3.05 0 1 0 6.10 0a3.05 3.05 0 1 0 -6.10 0M507.43 179.54a3.05 3.05 0 1 0 6.10 0a3.05 3.05 0 1 0 -6.10 0M508.30 155.99a3.05 3.05 0 1 0 6.10 0a3.05 3.05 0 1 0 -6.10 0M509.17 268.97a3.05 3.05 0 1 0 6.10 0a3.05 3.05 0 1 0 -6.10 0M510.03 271.27a3.05 3.05 0 1 0 6.10 0a3.05 3.05 0 1 0 -6.10 0M510.90 272.51a3.05 3.05 0 1 0 6.10 0a3.05 3.05 0 1 0 -6.10 0M511.77 273.24a3.05 3.05 0 1 0 6.10 0a3.05 3.05 0 1 0 -6.10 0M512.64 273.71a3.05 3.05 0 1 0 6.10 0a3.05 3.05 0 1 0 -6.10 0M513.51 274.03a3.05 3.05 0 1 0 6.10 0a3.05 3.05 0 1 0 -6.10 0M514.37 274.28a3.05 3.05 0 1 0 6.10 0a3.05 3.05 0 1 0 -6.10 0M515.24 274.48a3.05 3.05 0 1 0 6.10 0a3.05 3.05 0 1 0 -6.10 0M516.11 274.64a3.05 3.05 0 1 0 6.10 0a3.05 3.05 0 1 0 -6.10 0M516.98 274.78a3.05 3.05 0 1 0 6.10 0a3.05 3.05 0 1 0 -6.10 0M517.84 274.90a3.05 3.05 0 1 0 6.10 0a3.05 3.05 0 1 0 -6.10 0M518.71 275.01a3.05 3.05 0 1 0 6.10 0a3.05 3.05 0 1 0 -6.10 0M519.58 275.10a3.05 3.05 0 1 0 6.10 0a3.05 3.05 0 1 0 -6.10 0M520.45 275.18a3.05 3.05 0 1 0 6.10 0a3.05 3.05 0 1 0 -6.10 0M521.32 275.25a3.05 3.05 0 1 0 6.10 0a3.05 3.05 0 1 0 -6.10 0M522.18 275.31a3.05 3.05 0 1 0 6.10 0a3.05 3.05 0 1 0 -6.10 0M523.05 275.37a3.05 3.05 0 1 0 6.10 0a3.05 3.05 0 1 0 -6.10 0M523.92 275.41a3.05 3.05 0 1 0 6.10 0a3.05 3.05 0 1 0 -6.10 0M524.79 275.45a3.05 3.05 0 1 0 6.10 0a3.05 3.05 0 1 0 -6.10 0M525.66 275.48a3.05 3.05 0 1 0 6.10 0a3.05 3.05 0 1 0 -6.10 0M526.52 275.51a3.05 3.05 0 1 0 6.10 0a3.05 3.05 0 1 0 -6.10 0M527.39 275.53a3.05 3.05 0 1 0 6.10 0a3.05 3.05 0 1 0 -6.10 0M528.26 275.54a3.05 3.05 0 1 0 6.10 0a3.05 3.05 0 1 0 -6.10 0M529.13 275.55a3.05 3.05 0 1 0 6.10 0a3.05 3.05 0 1 0 -6.10 0M529.99 275.55a3.05 3.05 0 1 0 6.10 0a3.05 3.05 0 1 0 -6.10 0M530.86 275.55a3.05 3.05 0 1 0 6.10 0a3.05 3.05 0 1 0 -6.10 0M531.73 275.53a3.05 3.05 0 1 0 6.10 0a3.05 3.05 0 1 0 -6.10 0M532.60 275.52a3.05 3.05 0 1 0 6.10 0a3.05 3.05 0 1 0 -6.10 0M533.47 275.49a3.05 3.05 0 1 0 6.10 0a3.05 3.05 0 1 0 -6.10 0M534.33 275.46a3.05 3.05 0 1 0 6.10 0a3.05 3.05 0 1 0 -6.10 0M535.20 275.43a3.05 3.05 0 1 0 6.10 0a3.05 3.05 0 1 0 -6.10 0M536.07 275.38a3.05 3.05 0 1 0 6.10 0a3.05 3.05 0 1 0 -6.10 0M536.94 275.32a3.05 3.05 0 1 0 6.10 0a3.05 3.05 0 1 0 -6.10 0M537.80 275.26a3.05 3.05 0 1 0 6.10 0a3.05 3.05 0 1 0 -6.10 0M538.67 275.18a3.05 3.05 0 1 0 6.10 0a3.05 3.05 0 1 0 -6.10 0M539.54 275.09a3.05 3.05 0 1 0 6.10 0a3.05 3.05 0 1 0 -6.10 0M540.41 274.99a3.05 3.05 0 1 0 6.10 0a3.05 3.05 0 1 0 -6.10 0M541.28 274.86a3.05 3.05 0 1 0 6.10 0a3.05 3.05 0 1 0 -6.10 0M542.14 274.72a3.05 3.05 0 1 0 6.10 0a3.05 3.05 0 1 0 -6.10 0M543.01 274.54a3.05 3.05 0 1 0 6.10 0a3.05 3.05 0 1 0 -6.10 0M543.88 274.34a3.05 3.05 0 1 0 6.10 0a3.05 3.05 0 1 0 -6.10 0M544.75 274.10a3.05 3.05 0 1 0 6.10 0a3.05 3.05 0 1 0 -6.10 0M545.61 273.80a3.05 3.05 0 1 0 6.10 0a3.05 3.05 0 1 0 -6.10 0M546.48 273.44a3.05 3.05 0 1 0 6.10 0a3.05 3.05 0 1 0 -6.10 0M547.35 272.98a3.05 3.05 0 1 0 6.10 0a3.05 3.05 0 1 0 -6.10 0M548.22 272.41a3.05 3.05 0 1 0 6.10 0a3.05 3.05 0 1 0 -6.10 0M549.09 269.89a3.05 3.05 0 1 0 6.10 0a3.05 3.05 0 1 0 -6.10 0M549.95 267.38a3.05 3.05 0 1 0 6.10 0a3.05 3.05 0 1 0 -6.10 0M550.82 265.15a3.05 3.05 0 1 0 6.10 0a3.05 3.05 0 1 0 -6.10 0M551.69 262.92a3.05 3.05 0 1 0 6.10 0a3.05 3.05 0 1 0 -6.10 0M552.56 260.70a3.05 3.05 0 1 0 6.10 0a3.05 3.05 0 1 0 -6.10 0M553.42 258.47a3.05 3.05 0 1 0 6.10 0a3.05 3.05 0 1 0 -6.10 0M554.29 255.92a3.05 3.05 0 1 0 6.10 0a3.05 3.05 0 1 0 -6.10 0M555.16 252.95a3.05 3.05 0 1 0 6.10 0a3.05 3.05 0 1 0 -6.10 0M556.03 249.56a3.05 3.05 0 1 0 6.10 0a3.05 3.05 0 1 0 -6.10 0M556.90 246.38a3.05 3.05 0 1 0 6.10 0a3.05 3.05 0 1 0 -6.10 0M557.76 252.86a3.05 3.05 0 1 0 6.10 0a3.05 3.05 0 1 0 -6.10 0M558.63 262.56a3.05 3.05 0 1 0 6.10 0a3.05 3.05 0 1 0 -6.10 0M559.50 267.64a3.05 3.05 0 1 0 6.10 0a3.05 3.05 0 1 0 -6.10 0M560.37 270.47a3.05 3.05 0 1 0 6.10 0a3.05 3.05 0 1 0 -6.10 0M561.23 272.13a3.05 3.05 0 1 0 6.10 0a3.05 3.05 0 1 0 -6.10 0M562.10 273.18a3.05 3.05 0 1 0 6.10 0a3.05 3.05 0 1 0 -6.10 0M562.97 273.87a3.05 3.05 0 1 0 6.10 0a3.05 3.05 0 1 0 -6.10 0M563.84 274.36a3.05 3.05 0 1 0 6.10 0a3.05 3.05 0 1 0 -6.10 0M564.71 274.72a3.05 3.05 0 1 0 6.10 0a3.05 3.05 0 1 0 -6.10 0M565.57 275.00a3.05 3.05 0 1 0 6.10 0a3.05 3.05 0 1 0 -6.10 0M566.44 275.23a3.05 3.05 0 1 0 6.10 0a3.05 3.05 0 1 0 -6.10 0M567.31 275.42a3.05 3.05 0 1 0 6.10 0a3.05 3.05 0 1 0 -6.10 0M568.18 275.59a3.05 3.05 0 1 0 6.10 0a3.05 3.05 0 1 0 -6.10 0M569.04 275.73a3.05 3.05 0 1 0 6.10 0a3.05 3.05 0 1 0 -6.10 0M569.91 275.86a3.05 3.05 0 1 0 6.10 0a3.05 3.05 0 1 0 -6.10 0M570.78 275.97a3.05 3.05 0 1 0 6.10 0a3.05 3.05 0 1 0 -6.10 0M571.65 276.07a3.05 3.05 0 1 0 6.10 0a3.05 3.05 0 1 0 -6.10 0M572.52 276.16a3.05 3.05 0 1 0 6.10 0a3.05 3.05 0 1 0 -6.10 0M573.38 276.24a3.05 3.05 0 1 0 6.10 0a3.05 3.05 0 1 0 -6.10 0M574.25 276.32a3.05 3.05 0 1 0 6.10 0a3.05 3.05 0 1 0 -6.10 0M575.12 276.39a3.05 3.05 0 1 0 6.10 0a3.05 3.05 0 1 0 -6.10 0M575.99 276.46a3.05 3.05 0 1 0 6.10 0a3.05 3.05 0 1 0 -6.10 0M576.86 276.52a3.05 3.05 0 1 0 6.10 0a3.05 3.05 0 1 0 -6.10 0M577.72 276.57a3.05 3.05 0 1 0 6.10 0a3.05 3.05 0 1 0 -6.10 0M578.59 276.62a3.05 3.05 0 1 0 6.10 0a3.05 3.05 0 1 0 -6.10 0M579.46 276.67a3.05 3.05 0 1 0 6.10 0a3.05 3.05 0 1 0 -6.10 0M580.33 276.72a3.05 3.05 0 1 0 6.10 0a3.05 3.05 0 1 0 -6.10 0M581.19 276.76a3.05 3.05 0 1 0 6.10 0a3.05 3.05 0 1 0 -6.10 0M582.06 276.80a3.05 3.05 0 1 0 6.10 0a3.05 3.05 0 1 0 -6.10 0M582.93 276.84a3.05 3.05 0 1 0 6.10 0a3.05 3.05 0 1 0 -6.10 0M583.80 276.88a3.05 3.05 0 1 0 6.10 0a3.05 3.05 0 1 0 -6.10 0M584.67 276.91a3.05 3.05 0 1 0 6.10 0a3.05 3.05 0 1 0 -6.10 0M585.53 276.95a3.05 3.05 0 1 0 6.10 0a3.05 3.05 0 1 0 -6.10 0M586.40 276.98a3.05 3.05 0 1 0 6.10 0a3.05 3.05 0 1 0 -6.10 0M587.27 277.01a3.05 3.05 0 1 0 6.10 0a3.05 3.05 0 1 0 -6.10 0M588.14 277.03a3.05 3.05 0 1 0 6.10 0a3.05 3.05 0 1 0 -6.10 0M589.00 277.06a3.05 3.05 0 1 0 6.10 0a3.05 3.05 0 1 0 -6.10 0M589.87 277.09a3.05 3.05 0 1 0 6.10 0a3.05 3.05 0 1 0 -6.10 0M590.74 277.11a3.05 3.05 0 1 0 6.10 0a3.05 3.05 0 1 0 -6.10 0M591.61 277.14a3.05 3.05 0 1 0 6.10 0a3.05 3.05 0 1 0 -6.10 0M592.48 277.16a3.05 3.05 0 1 0 6.10 0a3.05 3.05 0 1 0 -6.10 0M593.34 277.18a3.05 3.05 0 1 0 6.10 0a3.05 3.05 0 1 0 -6.10 0M594.21 277.20a3.05 3.05 0 1 0 6.10 0a3.05 3.05 0 1 0 -6.10 0M595.08 277.22a3.05 3.05 0 1 0 6.10 0a3.05 3.05 0 1 0 -6.10 0M595.95 277.24a3.05 3.05 0 1 0 6.10 0a3.05 3.05 0 1 0 -6.10 0M596.81 277.26a3.05 3.05 0 1 0 6.10 0a3.05 3.05 0 1 0 -6.10 0M597.68 277.28a3.05 3.05 0 1 0 6.10 0a3.05 3.05 0 1 0 -6.10 0M598.55 277.29a3.05 3.05 0 1 0 6.10 0a3.05 3.05 0 1 0 -6.10 0M599.42 277.31a3.05 3.05 0 1 0 6.10 0a3.05 3.05 0 1 0 -6.10 0M600.29 277.33a3.05 3.05 0 1 0 6.10 0a3.05 3.05 0 1 0 -6.10 0M601.15 277.34a3.05 3.05 0 1 0 6.10 0a3.05 3.05 0 1 0 -6.10 0M602.02 277.36a3.05 3.05 0 1 0 6.10 0a3.05 3.05 0 1 0 -6.10 0M602.89 277.37a3.05 3.05 0 1 0 6.10 0a3.05 3.05 0 1 0 -6.10 0M603.76 277.38a3.05 3.05 0 1 0 6.10 0a3.05 3.05 0 1 0 -6.10 0M604.62 277.40a3.05 3.05 0 1 0 6.10 0a3.05 3.05 0 1 0 -6.10 0M605.49 277.41a3.05 3.05 0 1 0 6.10 0a3.05 3.05 0 1 0 -6.10 0M606.36 277.42a3.05 3.05 0 1 0 6.10 0a3.05 3.05 0 1 0 -6.10 0M607.23 277.44a3.05 3.05 0 1 0 6.10 0a3.05 3.05 0 1 0 -6.10 0M608.10 277.45a3.05 3.05 0 1 0 6.10 0a3.05 3.05 0 1 0 -6.10 0M608.96 277.46a3.05 3.05 0 1 0 6.10 0a3.05 3.05 0 1 0 -6.10 0M609.83 277.47a3.05 3.05 0 1 0 6.10 0a3.05 3.05 0 1 0 -6.10 0M610.70 277.48a3.05 3.05 0 1 0 6.10 0a3.05 3.05 0 1 0 -6.10 0M611.57 277.49a3.05 3.05 0 1 0 6.10 0a3.05 3.05 0 1 0 -6.10 0M612.43 277.50a3.05 3.05 0 1 0 6.10 0a3.05 3.05 0 1 0 -6.10 0M613.30 277.51a3.05 3.05 0 1 0 6.10 0a3.05 3.05 0 1 0 -6.10 0M614.17 277.52a3.05 3.05 0 1 0 6.10 0a3.05 3.05 0 1 0 -6.10 0M615.04 277.53a3.05 3.05 0 1 0 6.10 0a3.05 3.05 0 1 0 -6.10 0M615.91 277.54a3.05 3.05 0 1 0 6.10 0a3.05 3.05 0 1 0 -6.10 0M616.77 277.55a3.05 3.05 0 1 0 6.10 0a3.05 3.05 0 1 0 -6.10 0M617.64 277.56a3.05 3.05 0 1 0 6.10 0a3.05 3.05 0 1 0 -6.10 0M618.51 277.57a3.05 3.05 0 1 0 6.10 0a3.05 3.05 0 1 0 -6.10 0M619.38 277.58a3.05 3.05 0 1 0 6.10 0a3.05 3.05 0 1 0 -6.10 0M620.24 277.58a3.05 3.05 0 1 0 6.10 0a3.05 3.05 0 1 0 -6.10 0M621.11 277.59a3.05 3.05 0 1 0 6.10 0a3.05 3.05 0 1 0 -6.10 0M621.98 277.60a3.05 3.05 0 1 0 6.10 0a3.05 3.05 0 1 0 -6.10 0M622.85 277.61a3.05 3.05 0 1 0 6.10 0a3.05 3.05 0 1 0 -6.10 0M623.72 277.62a3.05 3.05 0 1 0 6.10 0a3.05 3.05 0 1 0 -6.10 0M624.58 277.62a3.05 3.05 0 1 0 6.10 0a3.05 3.05 0 1 0 -6.10 0M625.45 277.63a3.05 3.05 0 1 0 6.10 0a3.05 3.05 0 1 0 -6.10 0M626.32 277.64a3.05 3.05 0 1 0 6.10 0a3.05 3.05 0 1 0 -6.10 0M627.19 277.64a3.05 3.05 0 1 0 6.10 0a3.05 3.05 0 1 0 -6.10 0M628.06 277.65a3.05 3.05 0 1 0 6.10 0a3.05 3.05 0 1 0 -6.10 0M628.92 277.66a3.05 3.05 0 1 0 6.10 0a3.05 3.05 0 1 0 -6.10 0M629.79 277.66a3.05 3.05 0 1 0 6.10 0a3.05 3.05 0 1 0 -6.10 0M630.66 277.67a3.05 3.05 0 1 0 6.10 0a3.05 3.05 0 1 0 -6.10 0M631.53 277.68a3.05 3.05 0 1 0 6.10 0a3.05 3.05 0 1 0 -6.10 0M632.39 277.68a3.05 3.05 0 1 0 6.10 0a3.05 3.05 0 1 0 -6.10 0M633.26 277.69a3.05 3.05 0 1 0 6.10 0a3.05 3.05 0 1 0 -6.10 0M634.13 277.69a3.05 3.05 0 1 0 6.10 0a3.05 3.05 0 1 0 -6.10 0M635.00 277.70a3.05 3.05 0 1 0 6.10 0a3.05 3.05 0 1 0 -6.10 0M635.87 277.70a3.05 3.05 0 1 0 6.10 0a3.05 3.05 0 1 0 -6.10 0M636.73 277.71a3.05 3.05 0 1 0 6.10 0a3.05 3.05 0 1 0 -6.10 0M637.60 277.72a3.05 3.05 0 1 0 6.10 0a3.05 3.05 0 1 0 -6.10 0M638.47 277.72a3.05 3.05 0 1 0 6.10 0a3.05 3.05 0 1 0 -6.10 0M639.34 277.73a3.05 3.05 0 1 0 6.10 0a3.05 3.05 0 1 0 -6.10 0M640.20 277.73a3.05 3.05 0 1 0 6.10 0a3.05 3.05 0 1 0 -6.10 0M641.07 277.74a3.05 3.05 0 1 0 6.10 0a3.05 3.05 0 1 0 -6.10 0M641.94 277.74a3.05 3.05 0 1 0 6.10 0a3.05 3.05 0 1 0 -6.10 0M642.81 277.74a3.05 3.05 0 1 0 6.10 0a3.05 3.05 0 1 0 -6.10 0M643.68 277.75a3.05 3.05 0 1 0 6.10 0a3.05 3.05 0 1 0 -6.10 0M644.54 277.75a3.05 3.05 0 1 0 6.10 0a3.05 3.05 0 1 0 -6.10 0M645.41 277.76a3.05 3.05 0 1 0 6.10 0a3.05 3.05 0 1 0 -6.10 0M646.28 277.76a3.05 3.05 0 1 0 6.10 0a3.05 3.05 0 1 0 -6.10 0M647.15 277.77a3.05 3.05 0 1 0 6.10 0a3.05 3.05 0 1 0 -6.10 0M648.01 277.77a3.05 3.05 0 1 0 6.10 0a3.05 3.05 0 1 0 -6.10 0M648.88 277.78a3.05 3.05 0 1 0 6.10 0a3.05 3.05 0 1 0 -6.10 0M649.75 277.78a3.05 3.05 0 1 0 6.10 0a3.05 3.05 0 1 0 -6.10 0" fill="#ff0000"/>
<path d="M396.80,277.94L450.70,277.03L464.90,276.62L475.39,276.10L483.31,275.40L489.09,274.46L491.31,273.88L493.22,273.19L494.84,272.39L496.25,271.44L497.46,270.32L498.49,269.02L499.38,267.49L500.16,265.71L500.84,263.61L501.47,261.09L502.56,254.62L503.52,245.90L504.49,233.72L507.05,190.98L507.79,267.01L508.62,268.74L509.61,270.21L510.79,271.41L512.20,272.42L514.78,273.60L518.12,274.47L522.41,275.08L527.75,275.45L534.32,275.54L540.36,275.30L544.93,274.76L548.36,273.91L550.14,273.13L551.59,272.15L552.79,270.91L553.78,269.35L554.48,267.78L555.11,265.83L556.80,257.79L557.08,256.86L557.34,256.58L557.58,256.88L557.86,257.83L558.99,263.66L559.69,266.48L560.49,268.77L561.42,270.56L562.74,272.19L564.41,273.46L566.56,274.45L569.30,275.23L572.96,275.86L577.74,276.36L583.90,276.75L591.86,277.06L615.20,277.50L652.80,277.78" fill="none" stroke="#000" stroke-width="1.50" stroke-linejoin="round"/>
<mask id="mcR" maskUnits="userSpaceOnUse" x="0" y="0" width="685" height="316"><rect width="685" height="316" fill="#fff"/><path d="M393.75 277.94a3.05 3.05 0 1 0 6.10 0a3.05 3.05 0 1 0 -6.10 0M394.62 277.93a3.05 3.05 0 1 0 6.10 0a3.05 3.05 0 1 0 -6.10 0M395.49 277.91a3.05 3.05 0 1 0 6.10 0a3.05 3.05 0 1 0 -6.10 0M396.35 277.90a3.05 3.05 0 1 0 6.10 0a3.05 3.05 0 1 0 -6.10 0M397.22 277.89a3.05 3.05 0 1 0 6.10 0a3.05 3.05 0 1 0 -6.10 0M398.09 277.87a3.05 3.05 0 1 0 6.10 0a3.05 3.05 0 1 0 -6.10 0M398.96 277.86a3.05 3.05 0 1 0 6.10 0a3.05 3.05 0 1 0 -6.10 0M399.82 277.85a3.05 3.05 0 1 0 6.10 0a3.05 3.05 0 1 0 -6.10 0M400.69 277.83a3.05 3.05 0 1 0 6.10 0a3.05 3.05 0 1 0 -6.10 0M401.56 277.82a3.05 3.05 0 1 0 6.10 0a3.05 3.05 0 1 0 -6.10 0M402.43 277.81a3.05 3.05 0 1 0 6.10 0a3.05 3.05 0 1 0 -6.10 0M403.30 277.79a3.05 3.05 0 1 0 6.10 0a3.05 3.05 0 1 0 -6.10 0M404.16 277.78a3.05 3.05 0 1 0 6.10 0a3.05 3.05 0 1 0 -6.10 0M405.03 277.77a3.05 3.05 0 1 0 6.10 0a3.05 3.05 0 1 0 -6.10 0M405.90 277.76a3.05 3.05 0 1 0 6.10 0a3.05 3.05 0 1 0 -6.10 0M406.77 277.74a3.05 3.05 0 1 0 6.10 0a3.05 3.05 0 1 0 -6.10 0M407.63 277.73a3.05 3.05 0 1 0 6.10 0a3.05 3.05 0 1 0 -6.10 0M408.50 277.72a3.05 3.05 0 1 0 6.10 0a3.05 3.05 0 1 0 -6.10 0M409.37 277.70a3.05 3.05 0 1 0 6.10 0a3.05 3.05 0 1 0 -6.10 0M410.24 277.69a3.05 3.05 0 1 0 6.10 0a3.05 3.05 0 1 0 -6.10 0M411.11 277.68a3.05 3.05 0 1 0 6.10 0a3.05 3.05 0 1 0 -6.10 0M411.97 277.67a3.05 3.05 0 1 0 6.10 0a3.05 3.05 0 1 0 -6.10 0M412.84 277.65a3.05 3.05 0 1 0 6.10 0a3.05 3.05 0 1 0 -6.10 0M413.71 277.64a3.05 3.05 0 1 0 6.10 0a3.05 3.05 0 1 0 -6.10 0M414.58 277.63a3.05 3.05 0 1 0 6.10 0a3.05 3.05 0 1 0 -6.10 0M415.44 277.61a3.05 3.05 0 1 0 6.10 0a3.05 3.05 0 1 0 -6.10 0M416.31 277.60a3.05 3.05 0 1 0 6.10 0a3.05 3.05 0 1 0 -6.10 0M417.18 277.59a3.05 3.05 0 1 0 6.10 0a3.05 3.05 0 1 0 -6.10 0M418.05 277.57a3.05 3.05 0 1 0 6.10 0a3.05 3.05 0 1 0 -6.10 0M418.92 277.56a3.05 3.05 0 1 0 6.10 0a3.05 3.05 0 1 0 -6.10 0M419.78 277.55a3.05 3.05 0 1 0 6.10 0a3.05 3.05 0 1 0 -6.10 0M420.65 277.53a3.05 3.05 0 1 0 6.10 0a3.05 3.05 0 1 0 -6.10 0M421.52 277.52a3.05 3.05 0 1 0 6.10 0a3.05 3.05 0 1 0 -6.10 0M422.39 277.51a3.05 3.05 0 1 0 6.10 0a3.05 3.05 0 1 0 -6.10 0M423.26 277.49a3.05 3.05 0 1 0 6.10 0a3.05 3.05 0 1 0 -6.10 0M424.12 277.48a3.05 3.05 0 1 0 6.10 0a3.05 3.05 0 1 0 -6.10 0M424.99 277.46a3.05 3.05 0 1 0 6.10 0a3.05 3.05 0 1 0 -6.10 0M425.86 277.45a3.05 3.05 0 1 0 6.10 0a3.05 3.05 0 1 0 -6.10 0M426.73 277.44a3.05 3.05 0 1 0 6.10 0a3.05 3.05 0 1 0 -6.10 0M427.59 277.42a3.05 3.05 0 1 0 6.10 0a3.05 3.05 0 1 0 -6.10 0M428.46 277.41a3.05 3.05 0 1 0 6.10 0a3.05 3.05 0 1 0 -6.10 0M429.33 277.39a3.05 3.05 0 1 0 6.10 0a3.05 3.05 0 1 0 -6.10 0M430.20 277.38a3.05 3.05 0 1 0 6.10 0a3.05 3.05 0 1 0 -6.10 0M431.07 277.36a3.05 3.05 0 1 0 6.10 0a3.05 3.05 0 1 0 -6.10 0M431.93 277.35a3.05 3.05 0 1 0 6.10 0a3.05 3.05 0 1 0 -6.10 0M432.80 277.33a3.05 3.05 0 1 0 6.10 0a3.05 3.05 0 1 0 -6.10 0M433.67 277.32a3.05 3.05 0 1 0 6.10 0a3.05 3.05 0 1 0 -6.10 0M434.54 277.30a3.05 3.05 0 1 0 6.10 0a3.05 3.05 0 1 0 -6.10 0M435.40 277.29a3.05 3.05 0 1 0 6.10 0a3.05 3.05 0 1 0 -6.10 0M436.27 277.27a3.05 3.05 0 1 0 6.10 0a3.05 3.05 0 1 0 -6.10 0M437.14 277.25a3.05 3.05 0 1 0 6.10 0a3.05 3.05 0 1 0 -6.10 0M438.01 277.24a3.05 3.05 0 1 0 6.10 0a3.05 3.05 0 1 0 -6.10 0M438.88 277.22a3.05 3.05 0 1 0 6.10 0a3.05 3.05 0 1 0 -6.10 0M439.74 277.20a3.05 3.05 0 1 0 6.10 0a3.05 3.05 0 1 0 -6.10 0M440.61 277.19a3.05 3.05 0 1 0 6.10 0a3.05 3.05 0 1 0 -6.10 0M441.48 277.17a3.05 3.05 0 1 0 6.10 0a3.05 3.05 0 1 0 -6.10 0M442.35 277.15a3.05 3.05 0 1 0 6.10 0a3.05 3.05 0 1 0 -6.10 0M443.21 277.13a3.05 3.05 0 1 0 6.10 0a3.05 3.05 0 1 0 -6.10 0M444.08 277.11a3.05 3.05 0 1 0 6.10 0a3.05 3.05 0 1 0 -6.10 0M444.95 277.10a3.05 3.05 0 1 0 6.10 0a3.05 3.05 0 1 0 -6.10 0M445.82 277.08a3.05 3.05 0 1 0 6.10 0a3.05 3.05 0 1 0 -6.10 0M446.69 277.06a3.05 3.05 0 1 0 6.10 0a3.05 3.05 0 1 0 -6.10 0M447.55 277.04a3.05 3.05 0 1 0 6.10 0a3.05 3.05 0 1 0 -6.10 0M448.42 277.02a3.05 3.05 0 1 0 6.10 0a3.05 3.05 0 1 0 -6.10 0M449.29 277.00a3.05 3.05 0 1 0 6.10 0a3.05 3.05 0 1 0 -6.10 0M450.16 276.97a3.05 3.05 0 1 0 6.10 0a3.05 3.05 0 1 0 -6.10 0M451.02 276.95a3.05 3.05 0 1 0 6.10 0a3.05 3.05 0 1 0 -6.10 0M451.89 276.93a3.05 3.05 0 1 0 6.10 0a3.05 3.05 0 1 0 -6.10 0M452.76 276.91a3.05 3.05 0 1 0 6.10 0a3.05 3.05 0 1 0 -6.10 0M453.63 276.88a3.05 3.05 0 1 0 6.10 0a3.05 3.05 0 1 0 -6.10 0M454.50 276.86a3.05 3.05 0 1 0 6.10 0a3.05 3.05 0 1 0 -6.10 0M455.36 276.83a3.05 3.05 0 1 0 6.10 0a3.05 3.05 0 1 0 -6.10 0M456.23 276.81a3.05 3.05 0 1 0 6.10 0a3.05 3.05 0 1 0 -6.10 0M457.10 276.78a3.05 3.05 0 1 0 6.10 0a3.05 3.05 0 1 0 -6.10 0M457.97 276.75a3.05 3.05 0 1 0 6.10 0a3.05 3.05 0 1 0 -6.10 0M458.83 276.72a3.05 3.05 0 1 0 6.10 0a3.05 3.05 0 1 0 -6.10 0M459.70 276.69a3.05 3.05 0 1 0 6.10 0a3.05 3.05 0 1 0 -6.10 0M460.57 276.66a3.05 3.05 0 1 0 6.10 0a3.05 3.05 0 1 0 -6.10 0M461.44 276.63a3.05 3.05 0 1 0 6.10 0a3.05 3.05 0 1 0 -6.10 0M462.31 276.60a3.05 3.05 0 1 0 6.10 0a3.05 3.05 0 1 0 -6.10 0M463.17 276.56a3.05 3.05 0 1 0 6.10 0a3.05 3.05 0 1 0 -6.10 0M464.04 276.53a3.05 3.05 0 1 0 6.10 0a3.05 3.05 0 1 0 -6.10 0M464.91 276.49a3.05 3.05 0 1 0 6.10 0a3.05 3.05 0 1 0 -6.10 0M465.78 276.45a3.05 3.05 0 1 0 6.10 0a3.05 3.05 0 1 0 -6.10 0M466.64 276.41a3.05 3.05 0 1 0 6.10 0a3.05 3.05 0 1 0 -6.10 0M467.51 276.37a3.05 3.05 0 1 0 6.10 0a3.05 3.05 0 1 0 -6.10 0M468.38 276.33a3.05 3.05 0 1 0 6.10 0a3.05 3.05 0 1 0 -6.10 0M469.25 276.28a3.05 3.05 0 1 0 6.10 0a3.05 3.05 0 1 0 -6.10 0M470.12 276.23a3.05 3.05 0 1 0 6.10 0a3.05 3.05 0 1 0 -6.10 0M470.98 276.18a3.05 3.05 0 1 0 6.10 0a3.05 3.05 0 1 0 -6.10 0M471.85 276.13a3.05 3.05 0 1 0 6.10 0a3.05 3.05 0 1 0 -6.10 0M472.72 276.07a3.05 3.05 0 1 0 6.10 0a3.05 3.05 0 1 0 -6.10 0M473.59 276.01a3.05 3.05 0 1 0 6.10 0a3.05 3.05 0 1 0 -6.10 0M474.46 275.95a3.05 3.05 0 1 0 6.10 0a3.05 3.05 0 1 0 -6.10 0M475.32 275.88a3.05 3.05 0 1 0 6.10 0a3.05 3.05 0 1 0 -6.10 0M476.19 275.81a3.05 3.05 0 1 0 6.10 0a3.05 3.05 0 1 0 -6.10 0M477.06 275.73a3.05 3.05 0 1 0 6.10 0a3.05 3.05 0 1 0 -6.10 0M477.93 275.65a3.05 3.05 0 1 0 6.10 0a3.05 3.05 0 1 0 -6.10 0M478.79 275.56a3.05 3.05 0 1 0 6.10 0a3.05 3.05 0 1 0 -6.10 0M479.66 275.46a3.05 3.05 0 1 0 6.10 0a3.05 3.05 0 1 0 -6.10 0M480.53 275.36a3.05 3.05 0 1 0 6.10 0a3.05 3.05 0 1 0 -6.10 0M481.40 275.25a3.05 3.05 0 1 0 6.10 0a3.05 3.05 0 1 0 -6.10 0M482.27 275.12a3.05 3.05 0 1 0 6.10 0a3.05 3.05 0 1 0 -6.10 0M483.13 274.99a3.05 3.05 0 1 0 6.10 0a3.05 3.05 0 1 0 -6.10 0M484.00 274.84a3.05 3.05 0 1 0 6.10 0a3.05 3.05 0 1 0 -6.10 0M484.87 274.68a3.05 3.05 0 1 0 6.10 0a3.05 3.05 0 1 0 -6.10 0M485.74 274.50a3.05 3.05 0 1 0 6.10 0a3.05 3.05 0 1 0 -6.10 0M486.60 274.29a3.05 3.05 0 1 0 6.10 0a3.05 3.05 0 1 0 -6.10 0M487.47 274.06a3.05 3.05 0 1 0 6.10 0a3.05 3.05 0 1 0 -6.10 0M488.34 273.80a3.05 3.05 0 1 0 6.10 0a3.05 3.05 0 1 0 -6.10 0M489.21 273.50a3.05 3.05 0 1 0 6.10 0a3.05 3.05 0 1 0 -6.10 0M490.08 273.15a3.05 3.05 0 1 0 6.10 0a3.05 3.05 0 1 0 -6.10 0M490.94 272.74a3.05 3.05 0 1 0 6.10 0a3.05 3.05 0 1 0 -6.10 0M491.81 272.25a3.05 3.05 0 1 0 6.10 0a3.05 3.05 0 1 0 -6.10 0M492.68 271.65a3.05 3.05 0 1 0 6.10 0a3.05 3.05 0 1 0 -6.10 0M493.55 270.91a3.05 3.05 0 1 0 6.10 0a3.05 3.05 0 1 0 -6.10 0M494.41 269.95a3.05 3.05 0 1 0 6.10 0a3.05 3.05 0 1 0 -6.10 0M495.28 268.68a3.05 3.05 0 1 0 6.10 0a3.05 3.05 0 1 0 -6.10 0M496.15 266.92a3.05 3.05 0 1 0 6.10 0a3.05 3.05 0 1 0 -6.10 0M497.02 263.46a3.05 3.05 0 1 0 6.10 0a3.05 3.05 0 1 0 -6.10 0M497.89 260.00a3.05 3.05 0 1 0 6.10 0a3.05 3.05 0 1 0 -6.10 0M498.75 255.29a3.05 3.05 0 1 0 6.10 0a3.05 3.05 0 1 0 -6.10 0M499.62 251.47a3.05 3.05 0 1 0 6.10 0a3.05 3.05 0 1 0 -6.10 0M500.49 248.92a3.05 3.05 0 1 0 6.10 0a3.05 3.05 0 1 0 -6.10 0M501.36 246.38a3.05 3.05 0 1 0 6.10 0a3.05 3.05 0 1 0 -6.10 0M502.22 243.83a3.05 3.05 0 1 0 6.10 0a3.05 3.05 0 1 0 -6.10 0M503.09 241.28a3.05 3.05 0 1 0 6.10 0a3.05 3.05 0 1 0 -6.10 0M503.96 238.25a3.05 3.05 0 1 0 6.10 0a3.05 3.05 0 1 0 -6.10 0M504.83 226.33a3.05 3.05 0 1 0 6.10 0a3.05 3.05 0 1 0 -6.10 0M505.70 214.74a3.05 3.05 0 1 0 6.10 0a3.05 3.05 0 1 0 -6.10 0M506.56 199.27a3.05 3.05 0 1 0 6.10 0a3.05 3.05 0 1 0 -6.10 0M507.43 179.54a3.05 3.05 0 1 0 6.10 0a3.05 3.05 0 1 0 -6.10 0M508.30 155.99a3.05 3.05 0 1 0 6.10 0a3.05 3.05 0 1 0 -6.10 0M509.17 268.97a3.05 3.05 0 1 0 6.10 0a3.05 3.05 0 1 0 -6.10 0M510.03 271.27a3.05 3.05 0 1 0 6.10 0a3.05 3.05 0 1 0 -6.10 0M510.90 272.51a3.05 3.05 0 1 0 6.10 0a3.05 3.05 0 1 0 -6.10 0M511.77 273.24a3.05 3.05 0 1 0 6.10 0a3.05 3.05 0 1 0 -6.10 0M512.64 273.71a3.05 3.05 0 1 0 6.10 0a3.05 3.05 0 1 0 -6.10 0M513.51 274.03a3.05 3.05 0 1 0 6.10 0a3.05 3.05 0 1 0 -6.10 0M514.37 274.28a3.05 3.05 0 1 0 6.10 0a3.05 3.05 0 1 0 -6.10 0M515.24 274.48a3.05 3.05 0 1 0 6.10 0a3.05 3.05 0 1 0 -6.10 0M516.11 274.64a3.05 3.05 0 1 0 6.10 0a3.05 3.05 0 1 0 -6.10 0M516.98 274.78a3.05 3.05 0 1 0 6.10 0a3.05 3.05 0 1 0 -6.10 0M517.84 274.90a3.05 3.05 0 1 0 6.10 0a3.05 3.05 0 1 0 -6.10 0M518.71 275.01a3.05 3.05 0 1 0 6.10 0a3.05 3.05 0 1 0 -6.10 0M519.58 275.10a3.05 3.05 0 1 0 6.10 0a3.05 3.05 0 1 0 -6.10 0M520.45 275.18a3.05 3.05 0 1 0 6.10 0a3.05 3.05 0 1 0 -6.10 0M521.32 275.25a3.05 3.05 0 1 0 6.10 0a3.05 3.05 0 1 0 -6.10 0M522.18 275.31a3.05 3.05 0 1 0 6.10 0a3.05 3.05 0 1 0 -6.10 0M523.05 275.37a3.05 3.05 0 1 0 6.10 0a3.05 3.05 0 1 0 -6.10 0M523.92 275.41a3.05 3.05 0 1 0 6.10 0a3.05 3.05 0 1 0 -6.10 0M524.79 275.45a3.05 3.05 0 1 0 6.10 0a3.05 3.05 0 1 0 -6.10 0M525.66 275.48a3.05 3.05 0 1 0 6.10 0a3.05 3.05 0 1 0 -6.10 0M526.52 275.51a3.05 3.05 0 1 0 6.10 0a3.05 3.05 0 1 0 -6.10 0M527.39 275.53a3.05 3.05 0 1 0 6.10 0a3.05 3.05 0 1 0 -6.10 0M528.26 275.54a3.05 3.05 0 1 0 6.10 0a3.05 3.05 0 1 0 -6.10 0M529.13 275.55a3.05 3.05 0 1 0 6.10 0a3.05 3.05 0 1 0 -6.10 0M529.99 275.55a3.05 3.05 0 1 0 6.10 0a3.05 3.05 0 1 0 -6.10 0M530.86 275.55a3.05 3.05 0 1 0 6.10 0a3.05 3.05 0 1 0 -6.10 0M531.73 275.53a3.05 3.05 0 1 0 6.10 0a3.05 3.05 0 1 0 -6.10 0M532.60 275.52a3.05 3.05 0 1 0 6.10 0a3.05 3.05 0 1 0 -6.10 0M533.47 275.49a3.05 3.05 0 1 0 6.10 0a3.05 3.05 0 1 0 -6.10 0M534.33 275.46a3.05 3.05 0 1 0 6.10 0a3.05 3.05 0 1 0 -6.10 0M535.20 275.43a3.05 3.05 0 1 0 6.10 0a3.05 3.05 0 1 0 -6.10 0M536.07 275.38a3.05 3.05 0 1 0 6.10 0a3.05 3.05 0 1 0 -6.10 0M536.94 275.32a3.05 3.05 0 1 0 6.10 0a3.05 3.05 0 1 0 -6.10 0M537.80 275.26a3.05 3.05 0 1 0 6.10 0a3.05 3.05 0 1 0 -6.10 0M538.67 275.18a3.05 3.05 0 1 0 6.10 0a3.05 3.05 0 1 0 -6.10 0M539.54 275.09a3.05 3.05 0 1 0 6.10 0a3.05 3.05 0 1 0 -6.10 0M540.41 274.99a3.05 3.05 0 1 0 6.10 0a3.05 3.05 0 1 0 -6.10 0M541.28 274.86a3.05 3.05 0 1 0 6.10 0a3.05 3.05 0 1 0 -6.10 0M542.14 274.72a3.05 3.05 0 1 0 6.10 0a3.05 3.05 0 1 0 -6.10 0M543.01 274.54a3.05 3.05 0 1 0 6.10 0a3.05 3.05 0 1 0 -6.10 0M543.88 274.34a3.05 3.05 0 1 0 6.10 0a3.05 3.05 0 1 0 -6.10 0M544.75 274.10a3.05 3.05 0 1 0 6.10 0a3.05 3.05 0 1 0 -6.10 0M545.61 273.80a3.05 3.05 0 1 0 6.10 0a3.05 3.05 0 1 0 -6.10 0M546.48 273.44a3.05 3.05 0 1 0 6.10 0a3.05 3.05 0 1 0 -6.10 0M547.35 272.98a3.05 3.05 0 1 0 6.10 0a3.05 3.05 0 1 0 -6.10 0M548.22 272.41a3.05 3.05 0 1 0 6.10 0a3.05 3.05 0 1 0 -6.10 0M549.09 269.89a3.05 3.05 0 1 0 6.10 0a3.05 3.05 0 1 0 -6.10 0M549.95 267.38a3.05 3.05 0 1 0 6.10 0a3.05 3.05 0 1 0 -6.10 0M550.82 265.15a3.05 3.05 0 1 0 6.10 0a3.05 3.05 0 1 0 -6.10 0M551.69 262.92a3.05 3.05 0 1 0 6.10 0a3.05 3.05 0 1 0 -6.10 0M552.56 260.70a3.05 3.05 0 1 0 6.10 0a3.05 3.05 0 1 0 -6.10 0M553.42 258.47a3.05 3.05 0 1 0 6.10 0a3.05 3.05 0 1 0 -6.10 0M554.29 255.92a3.05 3.05 0 1 0 6.10 0a3.05 3.05 0 1 0 -6.10 0M555.16 252.95a3.05 3.05 0 1 0 6.10 0a3.05 3.05 0 1 0 -6.10 0M556.03 249.56a3.05 3.05 0 1 0 6.10 0a3.05 3.05 0 1 0 -6.10 0M556.90 246.38a3.05 3.05 0 1 0 6.10 0a3.05 3.05 0 1 0 -6.10 0M557.76 252.86a3.05 3.05 0 1 0 6.10 0a3.05 3.05 0 1 0 -6.10 0M558.63 262.56a3.05 3.05 0 1 0 6.10 0a3.05 3.05 0 1 0 -6.10 0M559.50 267.64a3.05 3.05 0 1 0 6.10 0a3.05 3.05 0 1 0 -6.10 0M560.37 270.47a3.05 3.05 0 1 0 6.10 0a3.05 3.05 0 1 0 -6.10 0M561.23 272.13a3.05 3.05 0 1 0 6.10 0a3.05 3.05 0 1 0 -6.10 0M562.10 273.18a3.05 3.05 0 1 0 6.10 0a3.05 3.05 0 1 0 -6.10 0M562.97 273.87a3.05 3.05 0 1 0 6.10 0a3.05 3.05 0 1 0 -6.10 0M563.84 274.36a3.05 3.05 0 1 0 6.10 0a3.05 3.05 0 1 0 -6.10 0M564.71 274.72a3.05 3.05 0 1 0 6.10 0a3.05 3.05 0 1 0 -6.10 0M565.57 275.00a3.05 3.05 0 1 0 6.10 0a3.05 3.05 0 1 0 -6.10 0M566.44 275.23a3.05 3.05 0 1 0 6.10 0a3.05 3.05 0 1 0 -6.10 0M567.31 275.42a3.05 3.05 0 1 0 6.10 0a3.05 3.05 0 1 0 -6.10 0M568.18 275.59a3.05 3.05 0 1 0 6.10 0a3.05 3.05 0 1 0 -6.10 0M569.04 275.73a3.05 3.05 0 1 0 6.10 0a3.05 3.05 0 1 0 -6.10 0M569.91 275.86a3.05 3.05 0 1 0 6.10 0a3.05 3.05 0 1 0 -6.10 0M570.78 275.97a3.05 3.05 0 1 0 6.10 0a3.05 3.05 0 1 0 -6.10 0M571.65 276.07a3.05 3.05 0 1 0 6.10 0a3.05 3.05 0 1 0 -6.10 0M572.52 276.16a3.05 3.05 0 1 0 6.10 0a3.05 3.05 0 1 0 -6.10 0M573.38 276.24a3.05 3.05 0 1 0 6.10 0a3.05 3.05 0 1 0 -6.10 0M574.25 276.32a3.05 3.05 0 1 0 6.10 0a3.05 3.05 0 1 0 -6.10 0M575.12 276.39a3.05 3.05 0 1 0 6.10 0a3.05 3.05 0 1 0 -6.10 0M575.99 276.46a3.05 3.05 0 1 0 6.10 0a3.05 3.05 0 1 0 -6.10 0M576.86 276.52a3.05 3.05 0 1 0 6.10 0a3.05 3.05 0 1 0 -6.10 0M577.72 276.57a3.05 3.05 0 1 0 6.10 0a3.05 3.05 0 1 0 -6.10 0M578.59 276.62a3.05 3.05 0 1 0 6.10 0a3.05 3.05 0 1 0 -6.10 0M579.46 276.67a3.05 3.05 0 1 0 6.10 0a3.05 3.05 0 1 0 -6.10 0M580.33 276.72a3.05 3.05 0 1 0 6.10 0a3.05 3.05 0 1 0 -6.10 0M581.19 276.76a3.05 3.05 0 1 0 6.10 0a3.05 3.05 0 1 0 -6.10 0M582.06 276.80a3.05 3.05 0 1 0 6.10 0a3.05 3.05 0 1 0 -6.10 0M582.93 276.84a3.05 3.05 0 1 0 6.10 0a3.05 3.05 0 1 0 -6.10 0M583.80 276.88a3.05 3.05 0 1 0 6.10 0a3.05 3.05 0 1 0 -6.10 0M584.67 276.91a3.05 3.05 0 1 0 6.10 0a3.05 3.05 0 1 0 -6.10 0M585.53 276.95a3.05 3.05 0 1 0 6.10 0a3.05 3.05 0 1 0 -6.10 0M586.40 276.98a3.05 3.05 0 1 0 6.10 0a3.05 3.05 0 1 0 -6.10 0M587.27 277.01a3.05 3.05 0 1 0 6.10 0a3.05 3.05 0 1 0 -6.10 0M588.14 277.03a3.05 3.05 0 1 0 6.10 0a3.05 3.05 0 1 0 -6.10 0M589.00 277.06a3.05 3.05 0 1 0 6.10 0a3.05 3.05 0 1 0 -6.10 0M589.87 277.09a3.05 3.05 0 1 0 6.10 0a3.05 3.05 0 1 0 -6.10 0M590.74 277.11a3.05 3.05 0 1 0 6.10 0a3.05 3.05 0 1 0 -6.10 0M591.61 277.14a3.05 3.05 0 1 0 6.10 0a3.05 3.05 0 1 0 -6.10 0M592.48 277.16a3.05 3.05 0 1 0 6.10 0a3.05 3.05 0 1 0 -6.10 0M593.34 277.18a3.05 3.05 0 1 0 6.10 0a3.05 3.05 0 1 0 -6.10 0M594.21 277.20a3.05 3.05 0 1 0 6.10 0a3.05 3.05 0 1 0 -6.10 0M595.08 277.22a3.05 3.05 0 1 0 6.10 0a3.05 3.05 0 1 0 -6.10 0M595.95 277.24a3.05 3.05 0 1 0 6.10 0a3.05 3.05 0 1 0 -6.10 0M596.81 277.26a3.05 3.05 0 1 0 6.10 0a3.05 3.05 0 1 0 -6.10 0M597.68 277.28a3.05 3.05 0 1 0 6.10 0a3.05 3.05 0 1 0 -6.10 0M598.55 277.29a3.05 3.05 0 1 0 6.10 0a3.05 3.05 0 1 0 -6.10 0M599.42 277.31a3.05 3.05 0 1 0 6.10 0a3.05 3.05 0 1 0 -6.10 0M600.29 277.33a3.05 3.05 0 1 0 6.10 0a3.05 3.05 0 1 0 -6.10 0M601.15 277.34a3.05 3.05 0 1 0 6.10 0a3.05 3.05 0 1 0 -6.10 0M602.02 277.36a3.05 3.05 0 1 0 6.10 0a3.05 3.05 0 1 0 -6.10 0M602.89 277.37a3.05 3.05 0 1 0 6.10 0a3.05 3.05 0 1 0 -6.10 0M603.76 277.38a3.05 3.05 0 1 0 6.10 0a3.05 3.05 0 1 0 -6.10 0M604.62 277.40a3.05 3.05 0 1 0 6.10 0a3.05 3.05 0 1 0 -6.10 0M605.49 277.41a3.05 3.05 0 1 0 6.10 0a3.05 3.05 0 1 0 -6.10 0M606.36 277.42a3.05 3.05 0 1 0 6.10 0a3.05 3.05 0 1 0 -6.10 0M607.23 277.44a3.05 3.05 0 1 0 6.10 0a3.05 3.05 0 1 0 -6.10 0M608.10 277.45a3.05 3.05 0 1 0 6.10 0a3.05 3.05 0 1 0 -6.10 0M608.96 277.46a3.05 3.05 0 1 0 6.10 0a3.05 3.05 0 1 0 -6.10 0M609.83 277.47a3.05 3.05 0 1 0 6.10 0a3.05 3.05 0 1 0 -6.10 0M610.70 277.48a3.05 3.05 0 1 0 6.10 0a3.05 3.05 0 1 0 -6.10 0M611.57 277.49a3.05 3.05 0 1 0 6.10 0a3.05 3.05 0 1 0 -6.10 0M612.43 277.50a3.05 3.05 0 1 0 6.10 0a3.05 3.05 0 1 0 -6.10 0M613.30 277.51a3.05 3.05 0 1 0 6.10 0a3.05 3.05 0 1 0 -6.10 0M614.17 277.52a3.05 3.05 0 1 0 6.10 0a3.05 3.05 0 1 0 -6.10 0M615.04 277.53a3.05 3.05 0 1 0 6.10 0a3.05 3.05 0 1 0 -6.10 0M615.91 277.54a3.05 3.05 0 1 0 6.10 0a3.05 3.05 0 1 0 -6.10 0M616.77 277.55a3.05 3.05 0 1 0 6.10 0a3.05 3.05 0 1 0 -6.10 0M617.64 277.56a3.05 3.05 0 1 0 6.10 0a3.05 3.05 0 1 0 -6.10 0M618.51 277.57a3.05 3.05 0 1 0 6.10 0a3.05 3.05 0 1 0 -6.10 0M619.38 277.58a3.05 3.05 0 1 0 6.10 0a3.05 3.05 0 1 0 -6.10 0M620.24 277.58a3.05 3.05 0 1 0 6.10 0a3.05 3.05 0 1 0 -6.10 0M621.11 277.59a3.05 3.05 0 1 0 6.10 0a3.05 3.05 0 1 0 -6.10 0M621.98 277.60a3.05 3.05 0 1 0 6.10 0a3.05 3.05 0 1 0 -6.10 0M622.85 277.61a3.05 3.05 0 1 0 6.10 0a3.05 3.05 0 1 0 -6.10 0M623.72 277.62a3.05 3.05 0 1 0 6.10 0a3.05 3.05 0 1 0 -6.10 0M624.58 277.62a3.05 3.05 0 1 0 6.10 0a3.05 3.05 0 1 0 -6.10 0M625.45 277.63a3.05 3.05 0 1 0 6.10 0a3.05 3.05 0 1 0 -6.10 0M626.32 277.64a3.05 3.05 0 1 0 6.10 0a3.05 3.05 0 1 0 -6.10 0M627.19 277.64a3.05 3.05 0 1 0 6.10 0a3.05 3.05 0 1 0 -6.10 0M628.06 277.65a3.05 3.05 0 1 0 6.10 0a3.05 3.05 0 1 0 -6.10 0M628.92 277.66a3.05 3.05 0 1 0 6.10 0a3.05 3.05 0 1 0 -6.10 0M629.79 277.66a3.05 3.05 0 1 0 6.10 0a3.05 3.05 0 1 0 -6.10 0M630.66 277.67a3.05 3.05 0 1 0 6.10 0a3.05 3.05 0 1 0 -6.10 0M631.53 277.68a3.05 3.05 0 1 0 6.10 0a3.05 3.05 0 1 0 -6.10 0M632.39 277.68a3.05 3.05 0 1 0 6.10 0a3.05 3.05 0 1 0 -6.10 0M633.26 277.69a3.05 3.05 0 1 0 6.10 0a3.05 3.05 0 1 0 -6.10 0M634.13 277.69a3.05 3.05 0 1 0 6.10 0a3.05 3.05 0 1 0 -6.10 0M635.00 277.70a3.05 3.05 0 1 0 6.10 0a3.05 3.05 0 1 0 -6.10 0M635.87 277.70a3.05 3.05 0 1 0 6.10 0a3.05 3.05 0 1 0 -6.10 0M636.73 277.71a3.05 3.05 0 1 0 6.10 0a3.05 3.05 0 1 0 -6.10 0M637.60 277.72a3.05 3.05 0 1 0 6.10 0a3.05 3.05 0 1 0 -6.10 0M638.47 277.72a3.05 3.05 0 1 0 6.10 0a3.05 3.05 0 1 0 -6.10 0M639.34 277.73a3.05 3.05 0 1 0 6.10 0a3.05 3.05 0 1 0 -6.10 0M640.20 277.73a3.05 3.05 0 1 0 6.10 0a3.05 3.05 0 1 0 -6.10 0M641.07 277.74a3.05 3.05 0 1 0 6.10 0a3.05 3.05 0 1 0 -6.10 0M641.94 277.74a3.05 3.05 0 1 0 6.10 0a3.05 3.05 0 1 0 -6.10 0M642.81 277.74a3.05 3.05 0 1 0 6.10 0a3.05 3.05 0 1 0 -6.10 0M643.68 277.75a3.05 3.05 0 1 0 6.10 0a3.05 3.05 0 1 0 -6.10 0M644.54 277.75a3.05 3.05 0 1 0 6.10 0a3.05 3.05 0 1 0 -6.10 0M645.41 277.76a3.05 3.05 0 1 0 6.10 0a3.05 3.05 0 1 0 -6.10 0M646.28 277.76a3.05 3.05 0 1 0 6.10 0a3.05 3.05 0 1 0 -6.10 0M647.15 277.77a3.05 3.05 0 1 0 6.10 0a3.05 3.05 0 1 0 -6.10 0M648.01 277.77a3.05 3.05 0 1 0 6.10 0a3.05 3.05 0 1 0 -6.10 0M648.88 277.78a3.05 3.05 0 1 0 6.10 0a3.05 3.05 0 1 0 -6.10 0M649.75 277.78a3.05 3.05 0 1 0 6.10 0a3.05 3.05 0 1 0 -6.10 0" fill="#000"/></mask>
<path d="M396.80,277.94L451.89,277.01L466.22,276.56L476.64,276.01L484.39,275.26L487.41,274.78L489.98,274.22L492.12,273.57L493.96,272.80L495.49,271.89L496.79,270.82L497.88,269.57L498.82,268.06L499.61,266.32L500.29,264.23L500.88,261.75L501.39,258.82L502.24,251.26L502.89,241.57L503.49,228.13L505.19,172.34L505.49,254.74L506.34,261.52L506.88,264.11L507.51,266.25L508.27,268.08L509.16,269.60L510.22,270.88L511.48,271.95L513.89,273.26L517.03,274.24L521.11,274.93L526.25,275.38L533.07,275.55L539.55,275.35L544.50,274.83L548.17,273.98L550.03,273.19L551.53,272.20L552.74,270.97L553.76,269.39L554.48,267.78L555.11,265.83L556.80,257.79L557.08,256.86L557.34,256.58L557.58,256.88L557.86,257.83L558.99,263.66L559.69,266.48L560.49,268.77L561.42,270.56L562.74,272.19L564.41,273.46L566.56,274.45L569.30,275.23L572.96,275.86L577.74,276.36L583.90,276.75L591.86,277.06L615.20,277.50L652.80,277.78" fill="none" stroke="#8ab83a" stroke-width="1.60" stroke-dasharray="8.3 3.2" stroke-linejoin="round"/>
<path d="M396.80,277.94L451.89,277.01L466.22,276.56L476.64,276.01L484.39,275.26L487.41,274.78L489.98,274.22L492.12,273.57L493.96,272.80L495.49,271.89L496.79,270.82L497.88,269.57L498.82,268.06L499.61,266.32L500.29,264.23L500.88,261.75L501.39,258.82L502.24,251.26L502.89,241.57L503.49,228.13L505.19,172.34L505.49,254.74L506.34,261.52L506.88,264.11L507.51,266.25L508.27,268.08L509.16,269.60L510.22,270.88L511.48,271.95L513.89,273.26L517.03,274.24L521.11,274.93L526.25,275.38L533.07,275.55L539.55,275.35L544.50,274.83L548.17,273.98L550.03,273.19L551.53,272.20L552.74,270.97L553.76,269.39L554.48,267.78L555.11,265.83L556.80,257.79L557.08,256.86L557.34,256.58L557.58,256.88L557.86,257.83L558.99,263.66L559.69,266.48L560.49,268.77L561.42,270.56L562.74,272.19L564.41,273.46L566.56,274.45L569.30,275.23L572.96,275.86L577.74,276.36L583.90,276.75L591.86,277.06L615.20,277.50L652.80,277.78" fill="none" stroke="#00e000" stroke-width="2.10" stroke-dasharray="8.3 3.2" stroke-linejoin="round" mask="url(#mcR)"/>
<path d="M396.80,277.94L451.44,277.02L465.86,276.58L476.24,276.04L484.05,275.30L489.64,274.30L491.81,273.66L493.63,272.92L495.17,272.05L496.48,271.02L497.57,269.82L498.49,268.41L499.27,266.75L499.95,264.74L500.50,262.45L500.99,259.66L501.75,252.43L502.25,243.60L502.65,231.20L503.54,178.43L504.44,232.32L504.88,245.18L505.47,254.52L506.33,261.52L506.89,264.16L507.55,266.37L508.35,268.24L509.28,269.78L510.41,271.07L511.75,272.14L514.23,273.40L517.46,274.33L521.62,274.99L526.83,275.41L533.55,275.55L539.86,275.33L544.67,274.81L548.25,273.95L550.07,273.17L551.55,272.19L552.76,270.95L553.77,269.38L554.48,267.78L555.10,265.85L556.80,257.77L557.08,256.86L557.33,256.58L557.57,256.85L557.85,257.76L558.99,263.66L559.70,266.54L560.50,268.80L561.44,270.58L562.76,272.20L564.44,273.47L566.58,274.46L569.30,275.23L572.98,275.86L577.75,276.36L583.93,276.75L591.88,277.06L615.22,277.50L652.80,277.78" fill="none" stroke="#747474" stroke-width="1.40" stroke-dasharray="1.1 1.1" stroke-linejoin="round"/>
</g>
</g>
<text x="392.20" y="283.46" font-size="14.00" text-anchor="end">0</text>
<text x="392.20" y="251.63" font-size="14.00" text-anchor="end">0.005</text>
<text x="392.20" y="219.81" font-size="14.00" text-anchor="end">0.01</text>
<text x="392.20" y="187.98" font-size="14.00" text-anchor="end">0.015</text>
<text x="392.20" y="156.16" font-size="14.00" text-anchor="end">0.02</text>
<text x="392.20" y="124.33" font-size="14.00" text-anchor="end">0.025</text>
<text x="392.20" y="92.51" font-size="14.00" text-anchor="end">0.03</text>
<text x="392.20" y="60.68" font-size="14.00" text-anchor="end">0.035</text>
<text x="392.20" y="28.86" font-size="14.00" text-anchor="end">0.04</text>
<text x="435.85" y="295.90" font-size="14.00" text-anchor="middle">10</text>
<text x="479.24" y="295.90" font-size="14.00" text-anchor="middle">20</text>
<text x="522.63" y="295.90" font-size="14.00" text-anchor="middle">30</text>
<text x="566.02" y="295.90" font-size="14.00" text-anchor="middle">40</text>
<text x="609.41" y="295.90" font-size="14.00" text-anchor="middle">50</text>
<text x="652.80" y="295.90" font-size="14.00" text-anchor="middle">60</text>
<text x="524.80" y="17.50" font-size="15.30" text-anchor="middle">Position 2</text>
<text x="524.80" y="312.60" font-size="15.30" text-anchor="middle">Frequency (Hz)</text>
<text transform="translate(356.2 151.2) rotate(-90)" font-size="15.30" text-anchor="middle">Magnitude (m)</text>
<path d="M129.1 35.4H154.8M128.4 205.1H161" stroke="#000" stroke-width="1.5"/>
<path d="M140.5 40V200" stroke="#000" stroke-width="1.3"/>
<path d="M140.5 35.9L137.9 41L143.1 41Z" fill="#000"/>
<path d="M140.5 204.5L137.9 199.4L143.1 199.4Z" fill="#000"/>
<text transform="translate(137.4 112.8) rotate(-90)" font-size="11.90" text-anchor="middle">70.0 %</text>
<rect x="215.50" y="118.20" width="74.60" height="76.30" fill="#fff"/>
<path d="M215.50 194.50V192.00M215.50 118.20V120.70M252.80 194.50V192.00M252.80 118.20V120.70M290.10 194.50V192.00M290.10 118.20V120.70M215.50 194.50H218.00M290.10 194.50H287.60M215.50 169.07H218.00M290.10 169.07H287.60M215.50 143.63H218.00M290.10 143.63H287.60M215.50 118.20H218.00M290.10 118.20H287.60" stroke="#222" stroke-width="1.30" fill="none"/>
<rect x="215.50" y="118.20" width="74.60" height="76.30" stroke="#222" stroke-width="1.30" fill="none"/>
<g clip-path="url(#cIL)">
<path d="M213.67 190.28h3.65v3.65h-3.65zM217.40 190.02h3.65v3.65h-3.65zM221.13 189.75h3.65v3.65h-3.65zM224.86 189.49h3.65v3.65h-3.65zM228.59 189.22h3.65v3.65h-3.65zM232.32 188.96h3.65v3.65h-3.65zM236.05 188.53h3.65v3.65h-3.65zM239.78 188.10h3.65v3.65h-3.65zM243.51 187.68h3.65v3.65h-3.65zM247.24 187.25h3.65v3.65h-3.65zM250.97 186.82h3.65v3.65h-3.65zM254.70 186.31h3.65v3.65h-3.65zM258.43 185.81h3.65v3.65h-3.65zM262.16 185.30h3.65v3.65h-3.65zM265.89 184.79h3.65v3.65h-3.65zM269.62 184.28h3.65v3.65h-3.65zM273.35 175.02h3.65v3.65h-3.65zM277.08 172.33h3.65v3.65h-3.65zM280.81 188.52h3.65v3.65h-3.65zM284.54 189.59h3.65v3.65h-3.65zM288.27 190.09h3.65v3.65h-3.65z" fill="#0000ff"/>
<path d="M269.41 178.21h4.08V189.17h-4.08zM273.14 175.67h4.08V189.17h-4.08zM276.87 170.08h4.08V189.88h-4.08zM280.60 170.08h4.08V189.88h-4.08zM284.33 164.07h4.08V186.06h-4.08z" fill="#0000ff"/>
<path d="M213.35 191.30a2.15 2.15 0 1 0 4.30 0a2.15 2.15 0 1 0 -4.30 0M217.08 190.97a2.15 2.15 0 1 0 4.30 0a2.15 2.15 0 1 0 -4.30 0M220.81 190.65a2.15 2.15 0 1 0 4.30 0a2.15 2.15 0 1 0 -4.30 0M224.54 190.33a2.15 2.15 0 1 0 4.30 0a2.15 2.15 0 1 0 -4.30 0M228.27 189.91a2.15 2.15 0 1 0 4.30 0a2.15 2.15 0 1 0 -4.30 0M232.00 189.48a2.15 2.15 0 1 0 4.30 0a2.15 2.15 0 1 0 -4.30 0M235.73 189.06a2.15 2.15 0 1 0 4.30 0a2.15 2.15 0 1 0 -4.30 0M239.46 188.34a2.15 2.15 0 1 0 4.30 0a2.15 2.15 0 1 0 -4.30 0M243.19 187.62a2.15 2.15 0 1 0 4.30 0a2.15 2.15 0 1 0 -4.30 0M246.92 186.90a2.15 2.15 0 1 0 4.30 0a2.15 2.15 0 1 0 -4.30 0M250.65 185.96a2.15 2.15 0 1 0 4.30 0a2.15 2.15 0 1 0 -4.30 0M254.38 184.86a2.15 2.15 0 1 0 4.30 0a2.15 2.15 0 1 0 -4.30 0M258.11 183.73a2.15 2.15 0 1 0 4.30 0a2.15 2.15 0 1 0 -4.30 0M261.84 182.04a2.15 2.15 0 1 0 4.30 0a2.15 2.15 0 1 0 -4.30 0M265.57 180.26a2.15 2.15 0 1 0 4.30 0a2.15 2.15 0 1 0 -4.30 0M269.30 178.73a2.15 2.15 0 1 0 4.30 0a2.15 2.15 0 1 0 -4.30 0M273.03 176.70a2.15 2.15 0 1 0 4.30 0a2.15 2.15 0 1 0 -4.30 0M276.76 174.92a2.15 2.15 0 1 0 4.30 0a2.15 2.15 0 1 0 -4.30 0M280.49 190.35a2.15 2.15 0 1 0 4.30 0a2.15 2.15 0 1 0 -4.30 0M284.22 191.42a2.15 2.15 0 1 0 4.30 0a2.15 2.15 0 1 0 -4.30 0M287.95 191.92a2.15 2.15 0 1 0 4.30 0a2.15 2.15 0 1 0 -4.30 0" fill="#ff0000"/>
<path d="M214.72,190.93L222.81,189.95L229.48,188.71L235.24,187.11L240.36,185.06L245.16,182.45L249.95,179.12L255.10,174.79L260.82,169.28L263.24,188.22L268.00,189.55L273.97,190.61L281.52,191.44L291.03,192.10" fill="none" stroke="#000" stroke-width="1.50" stroke-linejoin="round"/>
<path d="M214.57,190.73L219.29,190.11L223.35,189.39L226.86,188.55L229.99,187.54L232.66,186.40L235.08,185.03L237.18,183.47L239.13,181.61L240.89,179.49L242.58,176.95L244.20,173.98L245.79,170.52L247.40,166.47L249.06,161.73L252.80,149.49L254.48,182.22L255.32,183.24L257.46,185.21L259.98,186.80L263.06,188.15L266.79,189.27L271.26,190.19L276.67,190.95L283.20,191.58L291.03,192.10" fill="none" stroke="#00e000" stroke-width="1.93" stroke-dasharray="4 1.6 1.2 1.6" stroke-linejoin="round"/>
<path d="M214.60,190.64L219.60,189.92L223.86,189.04L227.36,188.00L230.35,186.75L232.88,185.22L234.97,183.41L236.69,181.31L238.18,178.72L239.37,175.80L240.34,172.55L241.24,168.43L241.98,163.76L243.18,152.54L244.82,129.90L245.12,127.56L245.34,127.02L245.64,128.07L245.94,130.87L247.80,156.15L248.40,161.72L249.07,166.52L250.04,171.57L251.16,175.61L252.50,178.97L254.07,181.66L256.08,184.03L257.28,185.06L258.62,186.01L261.68,187.61L265.41,188.90L270.03,189.97L275.63,190.82L282.57,191.53L291.00,192.10" fill="none" stroke="#555" stroke-width="1.61" stroke-dasharray="1.1 1.4" stroke-linejoin="round"/>
</g>
<text x="212.30" y="199.21" font-size="11.50" text-anchor="end">0</text>
<text x="212.30" y="173.78" font-size="11.50" text-anchor="end">0.05</text>
<text x="212.30" y="148.34" font-size="11.50" text-anchor="end">0.1</text>
<text x="212.30" y="122.91" font-size="11.50" text-anchor="end">0.15</text>
<text x="215.50" y="207.70" font-size="11.50" text-anchor="middle">24</text>
<text x="252.80" y="207.70" font-size="11.50" text-anchor="middle">26</text>
<text x="290.10" y="207.70" font-size="11.50" text-anchor="middle">28</text>
<rect x="425.20" y="78.50" width="74.80" height="76.30" fill="#fff"/>
<path d="M425.20 154.80V152.30M425.20 78.50V81.00M462.60 154.80V152.30M462.60 78.50V81.00M500.00 154.80V152.30M500.00 78.50V81.00M425.20 154.80H427.70M500.00 154.80H497.50M425.20 116.65H427.70M500.00 116.65H497.50M425.20 78.50H427.70M500.00 78.50H497.50" stroke="#222" stroke-width="1.30" fill="none"/>
<rect x="425.20" y="78.50" width="74.80" height="76.30" stroke="#222" stroke-width="1.30" fill="none"/>
<g clip-path="url(#cIR)">
<path d="M423.37 151.83h3.65v3.65h-3.65zM427.11 151.68h3.65v3.65h-3.65zM430.85 151.52h3.65v3.65h-3.65zM434.59 151.37h3.65v3.65h-3.65zM438.33 151.22h3.65v3.65h-3.65zM442.07 151.07h3.65v3.65h-3.65zM445.81 150.45h3.65v3.65h-3.65zM449.55 149.84h3.65v3.65h-3.65zM453.29 149.23h3.65v3.65h-3.65zM457.03 148.62h3.65v3.65h-3.65zM460.77 148.01h3.65v3.65h-3.65zM464.51 145.09h3.65v3.65h-3.65zM468.25 142.16h3.65v3.65h-3.65zM471.99 139.24h3.65v3.65h-3.65zM475.73 136.76h3.65v3.65h-3.65zM479.47 133.90h3.65v3.65h-3.65zM483.21 131.04h3.65v3.65h-3.65zM486.95 151.07h3.65v3.65h-3.65zM490.69 151.24h3.65v3.65h-3.65zM494.43 151.38h3.65v3.65h-3.65zM498.17 151.50h3.65v3.65h-3.65z" fill="#0000ff"/>
<path d="M486.74 94.96h4.08V151.31h-4.08zM490.48 91.34h4.08V144.83h-4.08zM494.22 82.56h4.08V139.87h-4.08z" fill="#0000ff"/>
<path d="M423.05 153.27a2.15 2.15 0 1 0 4.30 0a2.15 2.15 0 1 0 -4.30 0M426.79 153.08a2.15 2.15 0 1 0 4.30 0a2.15 2.15 0 1 0 -4.30 0M430.53 152.89a2.15 2.15 0 1 0 4.30 0a2.15 2.15 0 1 0 -4.30 0M434.27 152.70a2.15 2.15 0 1 0 4.30 0a2.15 2.15 0 1 0 -4.30 0M438.01 152.51a2.15 2.15 0 1 0 4.30 0a2.15 2.15 0 1 0 -4.30 0M441.75 152.32a2.15 2.15 0 1 0 4.30 0a2.15 2.15 0 1 0 -4.30 0M445.49 151.81a2.15 2.15 0 1 0 4.30 0a2.15 2.15 0 1 0 -4.30 0M449.23 151.30a2.15 2.15 0 1 0 4.30 0a2.15 2.15 0 1 0 -4.30 0M452.97 150.79a2.15 2.15 0 1 0 4.30 0a2.15 2.15 0 1 0 -4.30 0M456.71 149.94a2.15 2.15 0 1 0 4.30 0a2.15 2.15 0 1 0 -4.30 0M460.45 149.08a2.15 2.15 0 1 0 4.30 0a2.15 2.15 0 1 0 -4.30 0M464.19 146.03a2.15 2.15 0 1 0 4.30 0a2.15 2.15 0 1 0 -4.30 0M467.93 142.99a2.15 2.15 0 1 0 4.30 0a2.15 2.15 0 1 0 -4.30 0M471.67 139.25a2.15 2.15 0 1 0 4.30 0a2.15 2.15 0 1 0 -4.30 0M475.41 135.78a2.15 2.15 0 1 0 4.30 0a2.15 2.15 0 1 0 -4.30 0M479.15 131.15a2.15 2.15 0 1 0 4.30 0a2.15 2.15 0 1 0 -4.30 0M482.89 125.11a2.15 2.15 0 1 0 4.30 0a2.15 2.15 0 1 0 -4.30 0M486.63 118.88a2.15 2.15 0 1 0 4.30 0a2.15 2.15 0 1 0 -4.30 0M490.37 152.04a2.15 2.15 0 1 0 4.30 0a2.15 2.15 0 1 0 -4.30 0M494.11 152.72a2.15 2.15 0 1 0 4.30 0a2.15 2.15 0 1 0 -4.30 0M497.85 153.09a2.15 2.15 0 1 0 4.30 0a2.15 2.15 0 1 0 -4.30 0" fill="#ff0000"/>
<path d="M424.28,152.74L433.66,152.02L440.77,151.01L443.70,150.38L446.38,149.61L448.75,148.73L451.01,147.68L453.11,146.47L455.15,145.04L457.19,143.38L459.29,141.42L463.77,136.57L470.27,128.66L473.45,151.45L478.21,152.11L484.10,152.62L491.58,153.03L500.93,153.35" fill="none" stroke="#000" stroke-width="1.50" stroke-linejoin="round"/>
<path d="M424.35,152.70L433.69,151.90L437.31,151.39L440.46,150.77L443.10,150.06L445.43,149.19L447.46,148.17L449.26,146.95L450.78,145.61L452.17,144.04L453.50,142.19L454.82,139.97L457.29,134.76L461.28,124.73L461.81,123.63L462.23,123.08L463.54,147.77L465.59,149.08L468.12,150.14L471.20,151.00L474.94,151.69L479.62,152.25L485.32,152.70L500.94,153.35" fill="none" stroke="#00e000" stroke-width="1.93" stroke-dasharray="4 1.6 1.2 1.6" stroke-linejoin="round"/>
<path d="M424.30,152.67L433.13,151.89L436.57,151.39L439.49,150.80L441.96,150.10L444.05,149.28L445.84,148.29L447.34,147.15L448.54,145.90L449.58,144.43L450.48,142.75L451.31,140.71L452.65,135.80L454.45,126.40L454.82,125.21L455.12,124.90L455.42,125.24L455.72,126.17L457.74,136.59L458.49,139.46L459.31,141.84L460.36,144.04L461.55,145.83L462.97,147.33L464.62,148.54L466.79,149.65L469.33,150.53L472.40,151.25L476.14,151.86L480.70,152.35L486.16,152.75L500.90,153.35" fill="none" stroke="#555" stroke-width="1.61" stroke-dasharray="1.1 1.4" stroke-linejoin="round"/>
</g>
<text x="422.00" y="159.51" font-size="11.50" text-anchor="end">0</text>
<text x="422.00" y="121.36" font-size="11.50" text-anchor="end">0.02</text>
<text x="422.00" y="83.21" font-size="11.50" text-anchor="end">0.04</text>
<text x="425.20" y="168.00" font-size="11.50" text-anchor="middle">24</text>
<text x="462.60" y="168.00" font-size="11.50" text-anchor="middle">26</text>
<text x="500.00" y="168.00" font-size="11.50" text-anchor="middle">28</text>
<rect x="194.80" y="29.80" width="109.00" height="73.90" fill="#fff" stroke="#111" stroke-width="1.2"/>
<path d="M200.80 38.80H213.80" stroke="#484848" stroke-width="1.5" stroke-dasharray="1.5 1.1"/>
<path d="M200.80 52.65H213.80" stroke="#00e000" stroke-width="2" stroke-dasharray="4.5 1.7 1.3 1.7"/>
<path d="M200.80 66.50H213.80" stroke="#000" stroke-width="2"/>
<circle cx="207.30" cy="80.65" r="3.1" fill="#ff0000"/>
<rect x="204.30" y="91.40" width="6" height="6" fill="#0000ff"/>
<text x="216.10" y="42.40" font-size="11.60"><tspan font-style="italic">k</tspan><tspan dy="2.8" font-size="8.00">N</tspan><tspan dy="-2.8"> = 0 N/m</tspan><tspan dy="-4.3" font-size="7.2">3</tspan></text>
<text x="216.10" y="56.25" font-size="11.60"><tspan font-style="italic">k</tspan><tspan dy="2.8" font-size="8.00">N</tspan><tspan dy="-2.8"> = 10<tspan dy="-4.3" font-size="7.2">7</tspan><tspan dy="4.3"> N/m</tspan></tspan><tspan dy="-4.3" font-size="7.2">3</tspan></text>
<text x="216.10" y="70.10" font-size="11.60"><tspan font-style="italic">k</tspan><tspan dy="2.8" font-size="8.00">N</tspan><tspan dy="-2.8"> = 10<tspan dy="-4.3" font-size="7.2">8</tspan><tspan dy="4.3"> N/m</tspan></tspan><tspan dy="-4.3" font-size="7.2">3</tspan></text>
<text x="216.10" y="83.95" font-size="11.60"><tspan font-style="italic">k</tspan><tspan dy="2.8" font-size="8.00">N</tspan><tspan dy="-2.8"> = 10<tspan dy="-4.3" font-size="7.2">9</tspan><tspan dy="4.3"> N/m</tspan></tspan><tspan dy="-4.3" font-size="7.2">3</tspan></text>
<text x="216.10" y="97.80" font-size="11.60"><tspan font-style="italic">k</tspan><tspan dy="2.8" font-size="8.00">N</tspan><tspan dy="-2.8"> = 2<tspan font-size="16.5" dx="1.4" dy="1.3">&#215;</tspan><tspan dx="0.9" dy="-1.3">10</tspan><tspan dy="-4.3" font-size="7.2">9</tspan><tspan dy="4.3"> N/m</tspan></tspan><tspan dy="-4.3" font-size="7.2">3</tspan></text>
<rect x="537.60" y="29.60" width="109.00" height="73.90" fill="#fff" stroke="#111" stroke-width="1.2"/>
<path d="M543.60 38.60H556.60" stroke="#484848" stroke-width="1.5" stroke-dasharray="1.5 1.1"/>
<path d="M543.60 52.45H556.60" stroke="#00e000" stroke-width="2" stroke-dasharray="4.5 1.7 1.3 1.7"/>
<path d="M543.60 66.30H556.60" stroke="#000" stroke-width="2"/>
<circle cx="550.10" cy="80.45" r="3.1" fill="#ff0000"/>
<rect x="547.10" y="91.20" width="6" height="6" fill="#0000ff"/>
<text x="558.90" y="42.20" font-size="11.60"><tspan font-style="italic">k</tspan><tspan dy="2.8" font-size="8.00">N</tspan><tspan dy="-2.8"> = 0 N/m</tspan><tspan dy="-4.3" font-size="7.2">3</tspan></text>
<text x="558.90" y="56.05" font-size="11.60"><tspan font-style="italic">k</tspan><tspan dy="2.8" font-size="8.00">N</tspan><tspan dy="-2.8"> = 10<tspan dy="-4.3" font-size="7.2">7</tspan><tspan dy="4.3"> N/m</tspan></tspan><tspan dy="-4.3" font-size="7.2">3</tspan></text>
<text x="558.90" y="69.90" font-size="11.60"><tspan font-style="italic">k</tspan><tspan dy="2.8" font-size="8.00">N</tspan><tspan dy="-2.8"> = 10<tspan dy="-4.3" font-size="7.2">8</tspan><tspan dy="4.3"> N/m</tspan></tspan><tspan dy="-4.3" font-size="7.2">3</tspan></text>
<text x="558.90" y="83.75" font-size="11.60"><tspan font-style="italic">k</tspan><tspan dy="2.8" font-size="8.00">N</tspan><tspan dy="-2.8"> = 10<tspan dy="-4.3" font-size="7.2">9</tspan><tspan dy="4.3"> N/m</tspan></tspan><tspan dy="-4.3" font-size="7.2">3</tspan></text>
<text x="558.90" y="97.60" font-size="11.60"><tspan font-style="italic">k</tspan><tspan dy="2.8" font-size="8.00">N</tspan><tspan dy="-2.8"> = 2<tspan font-size="16.5" dx="1.4" dy="1.3">&#215;</tspan><tspan dx="0.9" dy="-1.3">10</tspan><tspan dy="-4.3" font-size="7.2">9</tspan><tspan dy="4.3"> N/m</tspan></tspan><tspan dy="-4.3" font-size="7.2">3</tspan></text>
<path d="M197.10 224.50L175.50 224.50" stroke="#00ffff" stroke-width="2.20"/>
<path d="M170.00 224.50L176.00 221.50L176.00 227.50z" fill="#00ffff"/>
<path d="M186.60 243.00L169.40 243.00" stroke="#00ffff" stroke-width="2.20"/>
<path d="M163.90 243.00L169.90 240.00L169.90 246.00z" fill="#00ffff"/>
<text x="199.50" y="228.60" font-size="11.70" text-anchor="start" class="an">Complex vibration</text>
<text x="189.00" y="246.80" font-size="11.70" text-anchor="start" class="an">Complex vibration</text>
<path d="M543.30 146.10L521.70 146.10" stroke="#00ffff" stroke-width="2.20"/>
<path d="M516.20 146.10L522.20 143.10L522.20 149.10z" fill="#00ffff"/>
<text x="545.30" y="150.20" font-size="11.70" text-anchor="start" class="an">Complex vibration</text>
<path d="M533.20 216.10L514.28 235.10" stroke="#00ffff" stroke-width="2.20"/>
<path d="M510.40 239.00L512.51 232.63L516.76 236.86z" fill="#00ffff"/>
<text x="523.80" y="212.20" font-size="11.70" text-anchor="start" class="an">Complex vibration</text>
<path d="M583.10 232.10L569.00 240.01" stroke="#00ffff" stroke-width="2.20"/>
<path d="M564.20 242.70L567.97 237.15L570.90 242.38z" fill="#00ffff"/>
<text x="574.20" y="229.40" font-size="11.70" text-anchor="start" class="an">Peak jumping</text>
</svg>
</body></html>
